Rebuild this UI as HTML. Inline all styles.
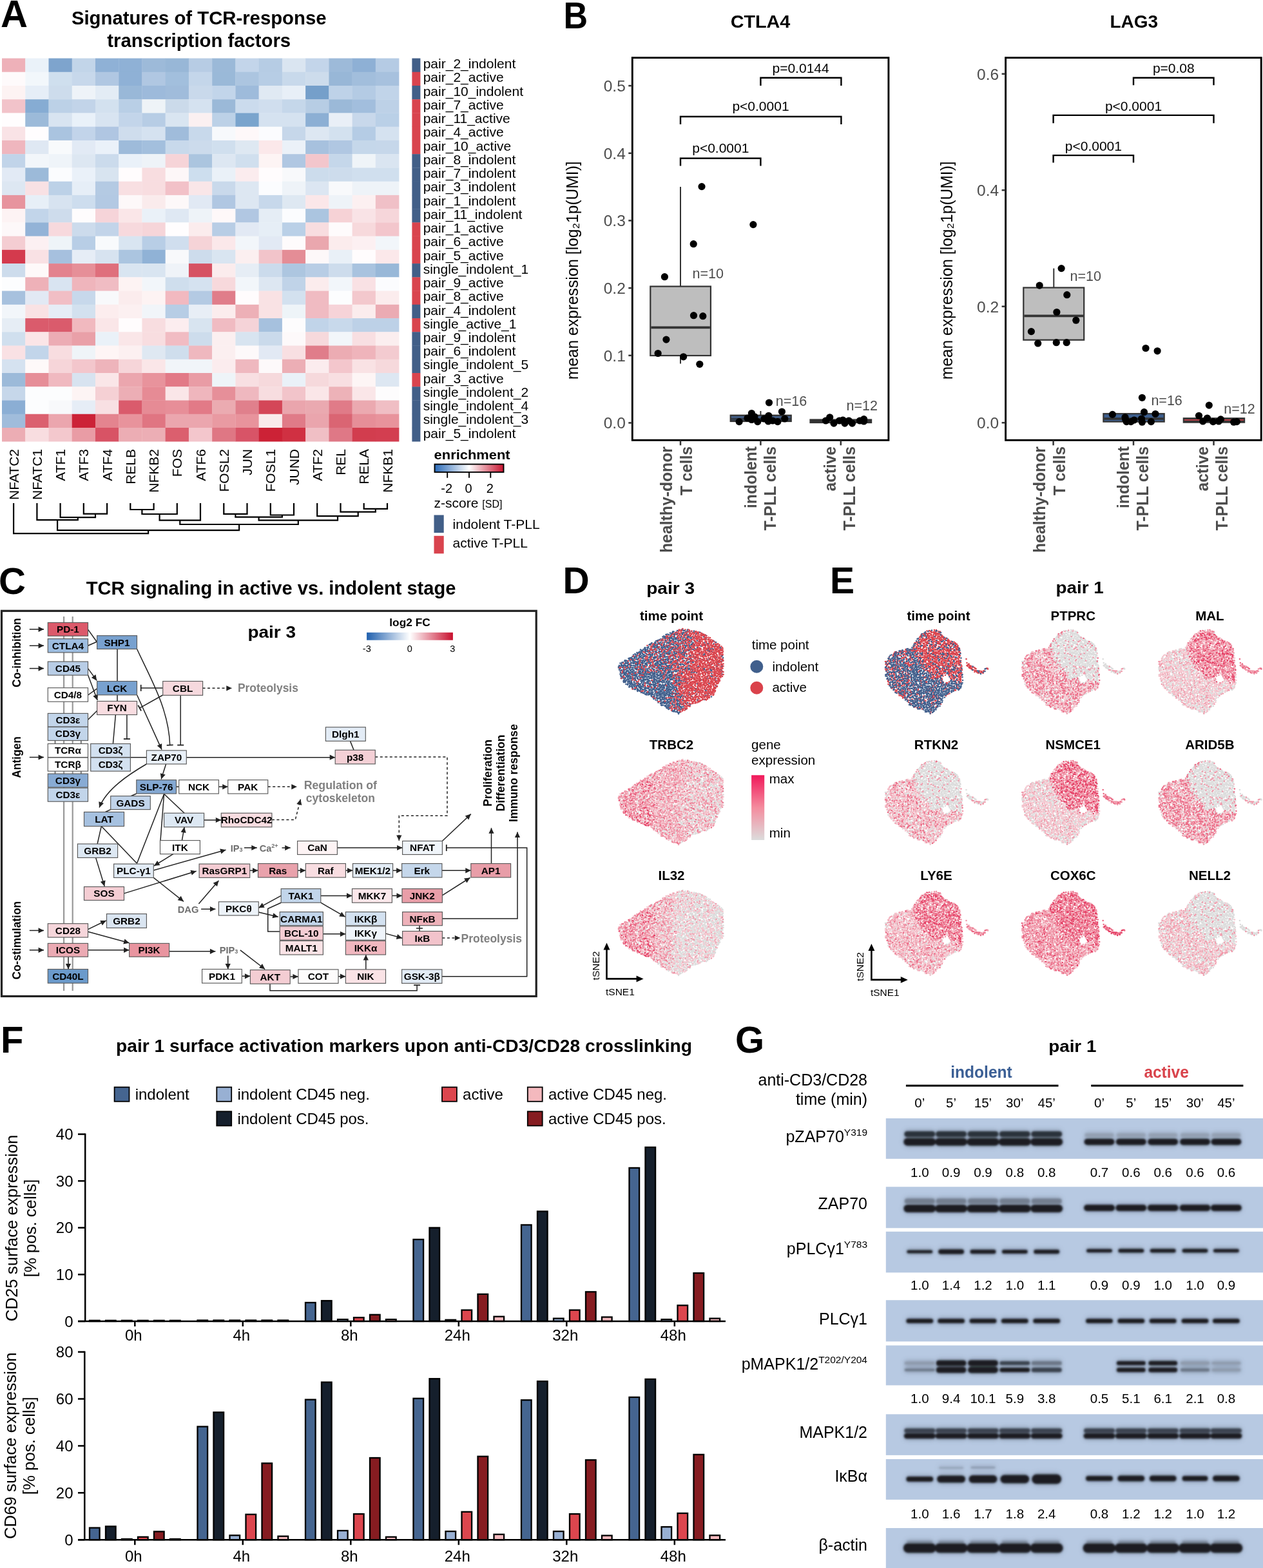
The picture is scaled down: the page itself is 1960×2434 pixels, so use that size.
<!DOCTYPE html>
<html><head><meta charset="utf-8"><title>Figure</title>
<style>
html,body{margin:0;padding:0;background:#fff;}
svg{display:block;}
text{font-family:"Liberation Sans",Arial,Helvetica,sans-serif;fill:#000;}
.tb{font-weight:bold;}
.lbl{font-weight:bold;}
</style></head><body>
<svg width="1960" height="2434" viewBox="0 0 1960 2434">
<rect width="1960" height="2434" fill="#fff"/>
<text x="1" y="42" class="lbl" font-size="59" textLength="42" lengthAdjust="spacingAndGlyphs">A</text>
<text x="308.7" y="38.3" class="tb" font-size="29.3" text-anchor="middle">Signatures of TCR-response</text>
<text x="308.7" y="73.4" class="tb" font-size="29.3" text-anchor="middle">transcription factors</text>
<rect x="3.00" y="90.50" width="36.54" height="21.54" fill="#eeb1b9"/>
<rect x="39.24" y="90.50" width="36.54" height="21.54" fill="#eaf2f9"/>
<rect x="75.48" y="90.50" width="36.54" height="21.54" fill="#7ea4cd"/>
<rect x="111.72" y="90.50" width="36.54" height="21.54" fill="#c2d5e9"/>
<rect x="147.96" y="90.50" width="36.54" height="21.54" fill="#8fb1d6"/>
<rect x="184.20" y="90.50" width="36.54" height="21.54" fill="#8fb1d6"/>
<rect x="220.44" y="90.50" width="36.54" height="21.54" fill="#9dbad9"/>
<rect x="256.68" y="90.50" width="36.54" height="21.54" fill="#98b7d7"/>
<rect x="292.92" y="90.50" width="36.54" height="21.54" fill="#b7cce4"/>
<rect x="329.16" y="90.50" width="36.54" height="21.54" fill="#9bb9d8"/>
<rect x="365.40" y="90.50" width="36.54" height="21.54" fill="#c3d5ea"/>
<rect x="401.64" y="90.50" width="36.54" height="21.54" fill="#b6cce4"/>
<rect x="437.88" y="90.50" width="36.54" height="21.54" fill="#dae5f1"/>
<rect x="474.12" y="90.50" width="36.54" height="21.54" fill="#c3d5ea"/>
<rect x="510.36" y="90.50" width="36.54" height="21.54" fill="#9dbad9"/>
<rect x="546.60" y="90.50" width="36.54" height="21.54" fill="#8eb0d5"/>
<rect x="582.84" y="90.50" width="36.54" height="21.54" fill="#b5cbe4"/>
<rect x="3.00" y="111.74" width="36.54" height="21.54" fill="#fefafb"/>
<rect x="39.24" y="111.74" width="36.54" height="21.54" fill="#f2f7fb"/>
<rect x="75.48" y="111.74" width="36.54" height="21.54" fill="#cfdfee"/>
<rect x="111.72" y="111.74" width="36.54" height="21.54" fill="#c7d8eb"/>
<rect x="147.96" y="111.74" width="36.54" height="21.54" fill="#b0c7e2"/>
<rect x="184.20" y="111.74" width="36.54" height="21.54" fill="#8fb1d6"/>
<rect x="220.44" y="111.74" width="36.54" height="21.54" fill="#b0c7e2"/>
<rect x="256.68" y="111.74" width="36.54" height="21.54" fill="#a2bfdd"/>
<rect x="292.92" y="111.74" width="36.54" height="21.54" fill="#c4d6ea"/>
<rect x="329.16" y="111.74" width="36.54" height="21.54" fill="#9ab9d8"/>
<rect x="365.40" y="111.74" width="36.54" height="21.54" fill="#acc5e0"/>
<rect x="401.64" y="111.74" width="36.54" height="21.54" fill="#b7cde5"/>
<rect x="437.88" y="111.74" width="36.54" height="21.54" fill="#c8d9eb"/>
<rect x="474.12" y="111.74" width="36.54" height="21.54" fill="#cddcec"/>
<rect x="510.36" y="111.74" width="36.54" height="21.54" fill="#98b7d7"/>
<rect x="546.60" y="111.74" width="36.54" height="21.54" fill="#a2bedc"/>
<rect x="582.84" y="111.74" width="36.54" height="21.54" fill="#a7c1de"/>
<rect x="3.00" y="132.98" width="36.54" height="21.54" fill="#fdf3f3"/>
<rect x="39.24" y="132.98" width="36.54" height="21.54" fill="#e6eef7"/>
<rect x="75.48" y="132.98" width="36.54" height="21.54" fill="#cddcec"/>
<rect x="111.72" y="132.98" width="36.54" height="21.54" fill="#eef3f8"/>
<rect x="147.96" y="132.98" width="36.54" height="21.54" fill="#e3ecf5"/>
<rect x="184.20" y="132.98" width="36.54" height="21.54" fill="#99b8d8"/>
<rect x="220.44" y="132.98" width="36.54" height="21.54" fill="#9dbadb"/>
<rect x="256.68" y="132.98" width="36.54" height="21.54" fill="#a0bcdb"/>
<rect x="292.92" y="132.98" width="36.54" height="21.54" fill="#c9d9eb"/>
<rect x="329.16" y="132.98" width="36.54" height="21.54" fill="#c2d5ea"/>
<rect x="365.40" y="132.98" width="36.54" height="21.54" fill="#9ebbdb"/>
<rect x="401.64" y="132.98" width="36.54" height="21.54" fill="#e0e9f3"/>
<rect x="437.88" y="132.98" width="36.54" height="21.54" fill="#e8eff7"/>
<rect x="474.12" y="132.98" width="36.54" height="21.54" fill="#759fca"/>
<rect x="510.36" y="132.98" width="36.54" height="21.54" fill="#bed2e8"/>
<rect x="546.60" y="132.98" width="36.54" height="21.54" fill="#b4cbe4"/>
<rect x="582.84" y="132.98" width="36.54" height="21.54" fill="#c1d4e9"/>
<rect x="3.00" y="154.22" width="36.54" height="21.54" fill="#f2c3ca"/>
<rect x="39.24" y="154.22" width="36.54" height="21.54" fill="#86acd3"/>
<rect x="75.48" y="154.22" width="36.54" height="21.54" fill="#bcd1e7"/>
<rect x="111.72" y="154.22" width="36.54" height="21.54" fill="#c2d4e9"/>
<rect x="147.96" y="154.22" width="36.54" height="21.54" fill="#d3e1ef"/>
<rect x="184.20" y="154.22" width="36.54" height="21.54" fill="#b9cfe6"/>
<rect x="220.44" y="154.22" width="36.54" height="21.54" fill="#eef3f7"/>
<rect x="256.68" y="154.22" width="36.54" height="21.54" fill="#cbdaea"/>
<rect x="292.92" y="154.22" width="36.54" height="21.54" fill="#d5e2f0"/>
<rect x="329.16" y="154.22" width="36.54" height="21.54" fill="#9bb9d8"/>
<rect x="365.40" y="154.22" width="36.54" height="21.54" fill="#cbdbed"/>
<rect x="401.64" y="154.22" width="36.54" height="21.54" fill="#d0deee"/>
<rect x="437.88" y="154.22" width="36.54" height="21.54" fill="#c5d7ea"/>
<rect x="474.12" y="154.22" width="36.54" height="21.54" fill="#b7cde4"/>
<rect x="510.36" y="154.22" width="36.54" height="21.54" fill="#9bb9d8"/>
<rect x="546.60" y="154.22" width="36.54" height="21.54" fill="#a2bedd"/>
<rect x="582.84" y="154.22" width="36.54" height="21.54" fill="#bdd1e7"/>
<rect x="3.00" y="175.46" width="36.54" height="21.54" fill="#fffdfe"/>
<rect x="39.24" y="175.46" width="36.54" height="21.54" fill="#9cbad9"/>
<rect x="75.48" y="175.46" width="36.54" height="21.54" fill="#d8e4f1"/>
<rect x="111.72" y="175.46" width="36.54" height="21.54" fill="#e9f1f9"/>
<rect x="147.96" y="175.46" width="36.54" height="21.54" fill="#d8e4f1"/>
<rect x="184.20" y="175.46" width="36.54" height="21.54" fill="#c3d5ea"/>
<rect x="220.44" y="175.46" width="36.54" height="21.54" fill="#b7cde5"/>
<rect x="256.68" y="175.46" width="36.54" height="21.54" fill="#d9e5f1"/>
<rect x="292.92" y="175.46" width="36.54" height="21.54" fill="#fbf0f1"/>
<rect x="329.16" y="175.46" width="36.54" height="21.54" fill="#bcd1e7"/>
<rect x="365.40" y="175.46" width="36.54" height="21.54" fill="#7aa4cd"/>
<rect x="401.64" y="175.46" width="36.54" height="21.54" fill="#d5e2f0"/>
<rect x="437.88" y="175.46" width="36.54" height="21.54" fill="#d5e2f0"/>
<rect x="474.12" y="175.46" width="36.54" height="21.54" fill="#8cafd4"/>
<rect x="510.36" y="175.46" width="36.54" height="21.54" fill="#e9eff7"/>
<rect x="546.60" y="175.46" width="36.54" height="21.54" fill="#c8d8eb"/>
<rect x="582.84" y="175.46" width="36.54" height="21.54" fill="#bad0e7"/>
<rect x="3.00" y="196.70" width="36.54" height="21.54" fill="#f9e3e6"/>
<rect x="39.24" y="196.70" width="36.54" height="21.54" fill="#fffdfe"/>
<rect x="75.48" y="196.70" width="36.54" height="21.54" fill="#aac4e0"/>
<rect x="111.72" y="196.70" width="36.54" height="21.54" fill="#c2d4ea"/>
<rect x="147.96" y="196.70" width="36.54" height="21.54" fill="#b0c6e2"/>
<rect x="184.20" y="196.70" width="36.54" height="21.54" fill="#cfdded"/>
<rect x="220.44" y="196.70" width="36.54" height="21.54" fill="#d5e2f0"/>
<rect x="256.68" y="196.70" width="36.54" height="21.54" fill="#a0bcdb"/>
<rect x="292.92" y="196.70" width="36.54" height="21.54" fill="#c8d9eb"/>
<rect x="329.16" y="196.70" width="36.54" height="21.54" fill="#f7f9fc"/>
<rect x="365.40" y="196.70" width="36.54" height="21.54" fill="#fef8f9"/>
<rect x="401.64" y="196.70" width="36.54" height="21.54" fill="#fbfcfe"/>
<rect x="437.88" y="196.70" width="36.54" height="21.54" fill="#c6d7ea"/>
<rect x="474.12" y="196.70" width="36.54" height="21.54" fill="#dde7f2"/>
<rect x="510.36" y="196.70" width="36.54" height="21.54" fill="#d3e1ef"/>
<rect x="546.60" y="196.70" width="36.54" height="21.54" fill="#b5cce5"/>
<rect x="582.84" y="196.70" width="36.54" height="21.54" fill="#d5e2f0"/>
<rect x="3.00" y="217.94" width="36.54" height="21.54" fill="#efb6be"/>
<rect x="39.24" y="217.94" width="36.54" height="21.54" fill="#dfe8f3"/>
<rect x="75.48" y="217.94" width="36.54" height="21.54" fill="#f8fafc"/>
<rect x="111.72" y="217.94" width="36.54" height="21.54" fill="#e2eaf5"/>
<rect x="147.96" y="217.94" width="36.54" height="21.54" fill="#eaf1f9"/>
<rect x="184.20" y="217.94" width="36.54" height="21.54" fill="#9ebbda"/>
<rect x="220.44" y="217.94" width="36.54" height="21.54" fill="#a3bfdd"/>
<rect x="256.68" y="217.94" width="36.54" height="21.54" fill="#c8d9eb"/>
<rect x="292.92" y="217.94" width="36.54" height="21.54" fill="#ccdbec"/>
<rect x="329.16" y="217.94" width="36.54" height="21.54" fill="#d0dfee"/>
<rect x="365.40" y="217.94" width="36.54" height="21.54" fill="#dee8f2"/>
<rect x="401.64" y="217.94" width="36.54" height="21.54" fill="#fbe8ea"/>
<rect x="437.88" y="217.94" width="36.54" height="21.54" fill="#ebf1f8"/>
<rect x="474.12" y="217.94" width="36.54" height="21.54" fill="#a7c1de"/>
<rect x="510.36" y="217.94" width="36.54" height="21.54" fill="#b0c7e2"/>
<rect x="546.60" y="217.94" width="36.54" height="21.54" fill="#c5d7ea"/>
<rect x="582.84" y="217.94" width="36.54" height="21.54" fill="#c6d7ea"/>
<rect x="3.00" y="239.18" width="36.54" height="21.54" fill="#c1d4e9"/>
<rect x="39.24" y="239.18" width="36.54" height="21.54" fill="#f2f6fa"/>
<rect x="75.48" y="239.18" width="36.54" height="21.54" fill="#eff4f9"/>
<rect x="111.72" y="239.18" width="36.54" height="21.54" fill="#dde7f2"/>
<rect x="147.96" y="239.18" width="36.54" height="21.54" fill="#cbdbec"/>
<rect x="184.20" y="239.18" width="36.54" height="21.54" fill="#eaf1f9"/>
<rect x="220.44" y="239.18" width="36.54" height="21.54" fill="#eef3f8"/>
<rect x="256.68" y="239.18" width="36.54" height="21.54" fill="#f6d4d8"/>
<rect x="292.92" y="239.18" width="36.54" height="21.54" fill="#abc5df"/>
<rect x="329.16" y="239.18" width="36.54" height="21.54" fill="#dde7f2"/>
<rect x="365.40" y="239.18" width="36.54" height="21.54" fill="#d0dfee"/>
<rect x="401.64" y="239.18" width="36.54" height="21.54" fill="#fdf4f4"/>
<rect x="437.88" y="239.18" width="36.54" height="21.54" fill="#b0c7e2"/>
<rect x="474.12" y="239.18" width="36.54" height="21.54" fill="#f3c6cc"/>
<rect x="510.36" y="239.18" width="36.54" height="21.54" fill="#c5d7ea"/>
<rect x="546.60" y="239.18" width="36.54" height="21.54" fill="#eff4f8"/>
<rect x="582.84" y="239.18" width="36.54" height="21.54" fill="#dae5f1"/>
<rect x="3.00" y="260.42" width="36.54" height="21.54" fill="#e2eaf5"/>
<rect x="39.24" y="260.42" width="36.54" height="21.54" fill="#9cbad9"/>
<rect x="75.48" y="260.42" width="36.54" height="21.54" fill="#fbfcfe"/>
<rect x="111.72" y="260.42" width="36.54" height="21.54" fill="#eaf1f9"/>
<rect x="147.96" y="260.42" width="36.54" height="21.54" fill="#d8e4f0"/>
<rect x="184.20" y="260.42" width="36.54" height="21.54" fill="#fffcfd"/>
<rect x="220.44" y="260.42" width="36.54" height="21.54" fill="#f8dde0"/>
<rect x="256.68" y="260.42" width="36.54" height="21.54" fill="#fdf7f8"/>
<rect x="292.92" y="260.42" width="36.54" height="21.54" fill="#cddeee"/>
<rect x="329.16" y="260.42" width="36.54" height="21.54" fill="#eaf1f8"/>
<rect x="365.40" y="260.42" width="36.54" height="21.54" fill="#fbecee"/>
<rect x="401.64" y="260.42" width="36.54" height="21.54" fill="#fffcfd"/>
<rect x="437.88" y="260.42" width="36.54" height="21.54" fill="#f8f9fb"/>
<rect x="474.12" y="260.42" width="36.54" height="21.54" fill="#ccdcec"/>
<rect x="510.36" y="260.42" width="36.54" height="21.54" fill="#cddcec"/>
<rect x="546.60" y="260.42" width="36.54" height="21.54" fill="#d0dfee"/>
<rect x="582.84" y="260.42" width="36.54" height="21.54" fill="#d0dfee"/>
<rect x="3.00" y="281.66" width="36.54" height="21.54" fill="#dde7f2"/>
<rect x="39.24" y="281.66" width="36.54" height="21.54" fill="#f8e1e4"/>
<rect x="75.48" y="281.66" width="36.54" height="21.54" fill="#bcd1e7"/>
<rect x="111.72" y="281.66" width="36.54" height="21.54" fill="#e6eef7"/>
<rect x="147.96" y="281.66" width="36.54" height="21.54" fill="#b4cae3"/>
<rect x="184.20" y="281.66" width="36.54" height="21.54" fill="#f8dfe2"/>
<rect x="220.44" y="281.66" width="36.54" height="21.54" fill="#f8dde0"/>
<rect x="256.68" y="281.66" width="36.54" height="21.54" fill="#f2c1c8"/>
<rect x="292.92" y="281.66" width="36.54" height="21.54" fill="#f9e6e8"/>
<rect x="329.16" y="281.66" width="36.54" height="21.54" fill="#c9d9eb"/>
<rect x="365.40" y="281.66" width="36.54" height="21.54" fill="#dde7f2"/>
<rect x="401.64" y="281.66" width="36.54" height="21.54" fill="#fbfcfe"/>
<rect x="437.88" y="281.66" width="36.54" height="21.54" fill="#eef3f8"/>
<rect x="474.12" y="281.66" width="36.54" height="21.54" fill="#dce6f2"/>
<rect x="510.36" y="281.66" width="36.54" height="21.54" fill="#f8f9fb"/>
<rect x="546.60" y="281.66" width="36.54" height="21.54" fill="#eef3f8"/>
<rect x="582.84" y="281.66" width="36.54" height="21.54" fill="#eef3f8"/>
<rect x="3.00" y="302.90" width="36.54" height="21.54" fill="#e7949e"/>
<rect x="39.24" y="302.90" width="36.54" height="21.54" fill="#e7eff7"/>
<rect x="75.48" y="302.90" width="36.54" height="21.54" fill="#d7e3f0"/>
<rect x="111.72" y="302.90" width="36.54" height="21.54" fill="#cdddee"/>
<rect x="147.96" y="302.90" width="36.54" height="21.54" fill="#b3c9e3"/>
<rect x="184.20" y="302.90" width="36.54" height="21.54" fill="#fdf8f9"/>
<rect x="220.44" y="302.90" width="36.54" height="21.54" fill="#faebec"/>
<rect x="256.68" y="302.90" width="36.54" height="21.54" fill="#fdf8f9"/>
<rect x="292.92" y="302.90" width="36.54" height="21.54" fill="#e1e9f4"/>
<rect x="329.16" y="302.90" width="36.54" height="21.54" fill="#b0c7e2"/>
<rect x="365.40" y="302.90" width="36.54" height="21.54" fill="#dde7f2"/>
<rect x="401.64" y="302.90" width="36.54" height="21.54" fill="#c7d8eb"/>
<rect x="437.88" y="302.90" width="36.54" height="21.54" fill="#dee8f2"/>
<rect x="474.12" y="302.90" width="36.54" height="21.54" fill="#fbe7e9"/>
<rect x="510.36" y="302.90" width="36.54" height="21.54" fill="#eef3f8"/>
<rect x="546.60" y="302.90" width="36.54" height="21.54" fill="#fcf0f1"/>
<rect x="582.84" y="302.90" width="36.54" height="21.54" fill="#f0c0c7"/>
<rect x="3.00" y="324.14" width="36.54" height="21.54" fill="#fdf3f4"/>
<rect x="39.24" y="324.14" width="36.54" height="21.54" fill="#c2d5ea"/>
<rect x="75.48" y="324.14" width="36.54" height="21.54" fill="#cedcec"/>
<rect x="111.72" y="324.14" width="36.54" height="21.54" fill="#fefcfd"/>
<rect x="147.96" y="324.14" width="36.54" height="21.54" fill="#f6d4d9"/>
<rect x="184.20" y="324.14" width="36.54" height="21.54" fill="#fae6e8"/>
<rect x="220.44" y="324.14" width="36.54" height="21.54" fill="#eaf1f8"/>
<rect x="256.68" y="324.14" width="36.54" height="21.54" fill="#dfe8f3"/>
<rect x="292.92" y="324.14" width="36.54" height="21.54" fill="#eef3f8"/>
<rect x="329.16" y="324.14" width="36.54" height="21.54" fill="#fef8f9"/>
<rect x="365.40" y="324.14" width="36.54" height="21.54" fill="#b1c7e2"/>
<rect x="401.64" y="324.14" width="36.54" height="21.54" fill="#e5edf5"/>
<rect x="437.88" y="324.14" width="36.54" height="21.54" fill="#fbfcfe"/>
<rect x="474.12" y="324.14" width="36.54" height="21.54" fill="#abc5e0"/>
<rect x="510.36" y="324.14" width="36.54" height="21.54" fill="#f6d2d6"/>
<rect x="546.60" y="324.14" width="36.54" height="21.54" fill="#f9e3e6"/>
<rect x="582.84" y="324.14" width="36.54" height="21.54" fill="#f6d6da"/>
<rect x="3.00" y="345.38" width="36.54" height="21.54" fill="#fdf8f9"/>
<rect x="39.24" y="345.38" width="36.54" height="21.54" fill="#93b3d7"/>
<rect x="75.48" y="345.38" width="36.54" height="21.54" fill="#f7d9dd"/>
<rect x="111.72" y="345.38" width="36.54" height="21.54" fill="#ccdbec"/>
<rect x="147.96" y="345.38" width="36.54" height="21.54" fill="#c2d4e9"/>
<rect x="184.20" y="345.38" width="36.54" height="21.54" fill="#f7d9dd"/>
<rect x="220.44" y="345.38" width="36.54" height="21.54" fill="#f6d5d9"/>
<rect x="256.68" y="345.38" width="36.54" height="21.54" fill="#fffdfe"/>
<rect x="292.92" y="345.38" width="36.54" height="21.54" fill="#fbeced"/>
<rect x="329.16" y="345.38" width="36.54" height="21.54" fill="#b8cde5"/>
<rect x="365.40" y="345.38" width="36.54" height="21.54" fill="#e2e9f4"/>
<rect x="401.64" y="345.38" width="36.54" height="21.54" fill="#e6eef6"/>
<rect x="437.88" y="345.38" width="36.54" height="21.54" fill="#bad0e7"/>
<rect x="474.12" y="345.38" width="36.54" height="21.54" fill="#f8dde0"/>
<rect x="510.36" y="345.38" width="36.54" height="21.54" fill="#fefbfc"/>
<rect x="546.60" y="345.38" width="36.54" height="21.54" fill="#f7d9dc"/>
<rect x="582.84" y="345.38" width="36.54" height="21.54" fill="#f3c6cc"/>
<rect x="3.00" y="366.62" width="36.54" height="21.54" fill="#f4cdd2"/>
<rect x="39.24" y="366.62" width="36.54" height="21.54" fill="#fcf0f2"/>
<rect x="75.48" y="366.62" width="36.54" height="21.54" fill="#eef4f8"/>
<rect x="111.72" y="366.62" width="36.54" height="21.54" fill="#b8cee6"/>
<rect x="147.96" y="366.62" width="36.54" height="21.54" fill="#f8fafc"/>
<rect x="184.20" y="366.62" width="36.54" height="21.54" fill="#d9e5f1"/>
<rect x="220.44" y="366.62" width="36.54" height="21.54" fill="#b8cee6"/>
<rect x="256.68" y="366.62" width="36.54" height="21.54" fill="#d0deee"/>
<rect x="292.92" y="366.62" width="36.54" height="21.54" fill="#f5d3d7"/>
<rect x="329.16" y="366.62" width="36.54" height="21.54" fill="#fbe8ea"/>
<rect x="365.40" y="366.62" width="36.54" height="21.54" fill="#f2f6fa"/>
<rect x="401.64" y="366.62" width="36.54" height="21.54" fill="#e2e9f4"/>
<rect x="437.88" y="366.62" width="36.54" height="21.54" fill="#fefbfc"/>
<rect x="474.12" y="366.62" width="36.54" height="21.54" fill="#eaa7ae"/>
<rect x="510.36" y="366.62" width="36.54" height="21.54" fill="#fbeced"/>
<rect x="546.60" y="366.62" width="36.54" height="21.54" fill="#fcf0f2"/>
<rect x="582.84" y="366.62" width="36.54" height="21.54" fill="#f2f6fa"/>
<rect x="3.00" y="387.86" width="36.54" height="21.54" fill="#d43a4d"/>
<rect x="39.24" y="387.86" width="36.54" height="21.54" fill="#f9e1e4"/>
<rect x="75.48" y="387.86" width="36.54" height="21.54" fill="#a6c0de"/>
<rect x="111.72" y="387.86" width="36.54" height="21.54" fill="#e6edf6"/>
<rect x="147.96" y="387.86" width="36.54" height="21.54" fill="#d7e3f0"/>
<rect x="184.20" y="387.86" width="36.54" height="21.54" fill="#abc5e0"/>
<rect x="220.44" y="387.86" width="36.54" height="21.54" fill="#90b2d6"/>
<rect x="256.68" y="387.86" width="36.54" height="21.54" fill="#f8f9fb"/>
<rect x="292.92" y="387.86" width="36.54" height="21.54" fill="#cddcec"/>
<rect x="329.16" y="387.86" width="36.54" height="21.54" fill="#d9e5f1"/>
<rect x="365.40" y="387.86" width="36.54" height="21.54" fill="#fbeff0"/>
<rect x="401.64" y="387.86" width="36.54" height="21.54" fill="#f2c4ca"/>
<rect x="437.88" y="387.86" width="36.54" height="21.54" fill="#e48d96"/>
<rect x="474.12" y="387.86" width="36.54" height="21.54" fill="#fdf8f9"/>
<rect x="510.36" y="387.86" width="36.54" height="21.54" fill="#e9f0f7"/>
<rect x="546.60" y="387.86" width="36.54" height="21.54" fill="#fffcfd"/>
<rect x="582.84" y="387.86" width="36.54" height="21.54" fill="#fbe8ea"/>
<rect x="3.00" y="409.10" width="36.54" height="21.54" fill="#cddcec"/>
<rect x="39.24" y="409.10" width="36.54" height="21.54" fill="#fef9f9"/>
<rect x="75.48" y="409.10" width="36.54" height="21.54" fill="#e3828e"/>
<rect x="111.72" y="409.10" width="36.54" height="21.54" fill="#e68f98"/>
<rect x="147.96" y="409.10" width="36.54" height="21.54" fill="#df6f7c"/>
<rect x="184.20" y="409.10" width="36.54" height="21.54" fill="#d9e5f1"/>
<rect x="220.44" y="409.10" width="36.54" height="21.54" fill="#d9e5f1"/>
<rect x="256.68" y="409.10" width="36.54" height="21.54" fill="#eff3f8"/>
<rect x="292.92" y="409.10" width="36.54" height="21.54" fill="#d65263"/>
<rect x="329.16" y="409.10" width="36.54" height="21.54" fill="#fbeced"/>
<rect x="365.40" y="409.10" width="36.54" height="21.54" fill="#e6edf5"/>
<rect x="401.64" y="409.10" width="36.54" height="21.54" fill="#cbdbec"/>
<rect x="437.88" y="409.10" width="36.54" height="21.54" fill="#adc6e0"/>
<rect x="474.12" y="409.10" width="36.54" height="21.54" fill="#b8cde5"/>
<rect x="510.36" y="409.10" width="36.54" height="21.54" fill="#cddcec"/>
<rect x="546.60" y="409.10" width="36.54" height="21.54" fill="#a9c3df"/>
<rect x="582.84" y="409.10" width="36.54" height="21.54" fill="#98b8d8"/>
<rect x="3.00" y="430.34" width="36.54" height="21.54" fill="#fcfdfe"/>
<rect x="39.24" y="430.34" width="36.54" height="21.54" fill="#eeb1b8"/>
<rect x="75.48" y="430.34" width="36.54" height="21.54" fill="#d9e4f1"/>
<rect x="111.72" y="430.34" width="36.54" height="21.54" fill="#efb5bc"/>
<rect x="147.96" y="430.34" width="36.54" height="21.54" fill="#f0bcc3"/>
<rect x="184.20" y="430.34" width="36.54" height="21.54" fill="#fdf3f3"/>
<rect x="220.44" y="430.34" width="36.54" height="21.54" fill="#f2f6fa"/>
<rect x="256.68" y="430.34" width="36.54" height="21.54" fill="#cfdeed"/>
<rect x="292.92" y="430.34" width="36.54" height="21.54" fill="#d5e2f0"/>
<rect x="329.16" y="430.34" width="36.54" height="21.54" fill="#f7d9dc"/>
<rect x="365.40" y="430.34" width="36.54" height="21.54" fill="#f2f6fa"/>
<rect x="401.64" y="430.34" width="36.54" height="21.54" fill="#dde7f2"/>
<rect x="437.88" y="430.34" width="36.54" height="21.54" fill="#c0d3e8"/>
<rect x="474.12" y="430.34" width="36.54" height="21.54" fill="#fbeced"/>
<rect x="510.36" y="430.34" width="36.54" height="21.54" fill="#f2f6fa"/>
<rect x="546.60" y="430.34" width="36.54" height="21.54" fill="#f9e1e4"/>
<rect x="582.84" y="430.34" width="36.54" height="21.54" fill="#fbfcfe"/>
<rect x="3.00" y="451.58" width="36.54" height="21.54" fill="#a7c1de"/>
<rect x="39.24" y="451.58" width="36.54" height="21.54" fill="#e2e9f4"/>
<rect x="75.48" y="451.58" width="36.54" height="21.54" fill="#f1bec5"/>
<rect x="111.72" y="451.58" width="36.54" height="21.54" fill="#c7d8eb"/>
<rect x="147.96" y="451.58" width="36.54" height="21.54" fill="#f8f9fb"/>
<rect x="184.20" y="451.58" width="36.54" height="21.54" fill="#fbeced"/>
<rect x="220.44" y="451.58" width="36.54" height="21.54" fill="#fdf3f3"/>
<rect x="256.68" y="451.58" width="36.54" height="21.54" fill="#f2b9c0"/>
<rect x="292.92" y="451.58" width="36.54" height="21.54" fill="#b4cae3"/>
<rect x="329.16" y="451.58" width="36.54" height="21.54" fill="#e07d8a"/>
<rect x="365.40" y="451.58" width="36.54" height="21.54" fill="#fffcfd"/>
<rect x="401.64" y="451.58" width="36.54" height="21.54" fill="#f9e2e4"/>
<rect x="437.88" y="451.58" width="36.54" height="21.54" fill="#d3e1ef"/>
<rect x="474.12" y="451.58" width="36.54" height="21.54" fill="#f0bbc2"/>
<rect x="510.36" y="451.58" width="36.54" height="21.54" fill="#fcfdfe"/>
<rect x="546.60" y="451.58" width="36.54" height="21.54" fill="#f3c8cd"/>
<rect x="582.84" y="451.58" width="36.54" height="21.54" fill="#fbeced"/>
<rect x="3.00" y="472.82" width="36.54" height="21.54" fill="#f2f6fa"/>
<rect x="39.24" y="472.82" width="36.54" height="21.54" fill="#f9e2e4"/>
<rect x="75.48" y="472.82" width="36.54" height="21.54" fill="#e6edf6"/>
<rect x="111.72" y="472.82" width="36.54" height="21.54" fill="#d3e1ef"/>
<rect x="147.96" y="472.82" width="36.54" height="21.54" fill="#fcedee"/>
<rect x="184.20" y="472.82" width="36.54" height="21.54" fill="#fcf0f1"/>
<rect x="220.44" y="472.82" width="36.54" height="21.54" fill="#f1f5f9"/>
<rect x="256.68" y="472.82" width="36.54" height="21.54" fill="#b7cde5"/>
<rect x="292.92" y="472.82" width="36.54" height="21.54" fill="#e8eef6"/>
<rect x="329.16" y="472.82" width="36.54" height="21.54" fill="#fbeced"/>
<rect x="365.40" y="472.82" width="36.54" height="21.54" fill="#edb0b7"/>
<rect x="401.64" y="472.82" width="36.54" height="21.54" fill="#f9e2e4"/>
<rect x="437.88" y="472.82" width="36.54" height="21.54" fill="#eef4f8"/>
<rect x="474.12" y="472.82" width="36.54" height="21.54" fill="#f0bbc2"/>
<rect x="510.36" y="472.82" width="36.54" height="21.54" fill="#f6d3d8"/>
<rect x="546.60" y="472.82" width="36.54" height="21.54" fill="#fbeced"/>
<rect x="582.84" y="472.82" width="36.54" height="21.54" fill="#ebabb3"/>
<rect x="3.00" y="494.06" width="36.54" height="21.54" fill="#e6edf5"/>
<rect x="39.24" y="494.06" width="36.54" height="21.54" fill="#da5b6c"/>
<rect x="75.48" y="494.06" width="36.54" height="21.54" fill="#da5b6c"/>
<rect x="111.72" y="494.06" width="36.54" height="21.54" fill="#f1b9bf"/>
<rect x="147.96" y="494.06" width="36.54" height="21.54" fill="#fae6e8"/>
<rect x="184.20" y="494.06" width="36.54" height="21.54" fill="#fffcfd"/>
<rect x="220.44" y="494.06" width="36.54" height="21.54" fill="#f8dde0"/>
<rect x="256.68" y="494.06" width="36.54" height="21.54" fill="#fcedef"/>
<rect x="292.92" y="494.06" width="36.54" height="21.54" fill="#d8e4f0"/>
<rect x="329.16" y="494.06" width="36.54" height="21.54" fill="#f0bbc2"/>
<rect x="365.40" y="494.06" width="36.54" height="21.54" fill="#f5d3d8"/>
<rect x="401.64" y="494.06" width="36.54" height="21.54" fill="#a6c1de"/>
<rect x="437.88" y="494.06" width="36.54" height="21.54" fill="#fdfcfd"/>
<rect x="474.12" y="494.06" width="36.54" height="21.54" fill="#c1d4e9"/>
<rect x="510.36" y="494.06" width="36.54" height="21.54" fill="#c8d9eb"/>
<rect x="546.60" y="494.06" width="36.54" height="21.54" fill="#bdd1e7"/>
<rect x="582.84" y="494.06" width="36.54" height="21.54" fill="#bdd1e7"/>
<rect x="3.00" y="515.30" width="36.54" height="21.54" fill="#d0dfee"/>
<rect x="39.24" y="515.30" width="36.54" height="21.54" fill="#fbe5e7"/>
<rect x="75.48" y="515.30" width="36.54" height="21.54" fill="#ecacb4"/>
<rect x="111.72" y="515.30" width="36.54" height="21.54" fill="#e9a0a8"/>
<rect x="147.96" y="515.30" width="36.54" height="21.54" fill="#eaf1f8"/>
<rect x="184.20" y="515.30" width="36.54" height="21.54" fill="#fae6e8"/>
<rect x="220.44" y="515.30" width="36.54" height="21.54" fill="#f8dde0"/>
<rect x="256.68" y="515.30" width="36.54" height="21.54" fill="#f1bcc3"/>
<rect x="292.92" y="515.30" width="36.54" height="21.54" fill="#cddcec"/>
<rect x="329.16" y="515.30" width="36.54" height="21.54" fill="#fbeff0"/>
<rect x="365.40" y="515.30" width="36.54" height="21.54" fill="#d8e4f0"/>
<rect x="401.64" y="515.30" width="36.54" height="21.54" fill="#cadaeb"/>
<rect x="437.88" y="515.30" width="36.54" height="21.54" fill="#fdf9fa"/>
<rect x="474.12" y="515.30" width="36.54" height="21.54" fill="#f6d9dc"/>
<rect x="510.36" y="515.30" width="36.54" height="21.54" fill="#f2f6fa"/>
<rect x="546.60" y="515.30" width="36.54" height="21.54" fill="#f8dfe2"/>
<rect x="582.84" y="515.30" width="36.54" height="21.54" fill="#fbeeef"/>
<rect x="3.00" y="536.54" width="36.54" height="21.54" fill="#f9e1e4"/>
<rect x="39.24" y="536.54" width="36.54" height="21.54" fill="#c2d5ea"/>
<rect x="75.48" y="536.54" width="36.54" height="21.54" fill="#f8dde0"/>
<rect x="111.72" y="536.54" width="36.54" height="21.54" fill="#eff4f8"/>
<rect x="147.96" y="536.54" width="36.54" height="21.54" fill="#fef5f5"/>
<rect x="184.20" y="536.54" width="36.54" height="21.54" fill="#fcf0f1"/>
<rect x="220.44" y="536.54" width="36.54" height="21.54" fill="#dfe8f2"/>
<rect x="256.68" y="536.54" width="36.54" height="21.54" fill="#cfdeed"/>
<rect x="292.92" y="536.54" width="36.54" height="21.54" fill="#efb8bf"/>
<rect x="329.16" y="536.54" width="36.54" height="21.54" fill="#fbeff0"/>
<rect x="365.40" y="536.54" width="36.54" height="21.54" fill="#fdf9fa"/>
<rect x="401.64" y="536.54" width="36.54" height="21.54" fill="#e2e9f4"/>
<rect x="437.88" y="536.54" width="36.54" height="21.54" fill="#f8dfe2"/>
<rect x="474.12" y="536.54" width="36.54" height="21.54" fill="#e07d8a"/>
<rect x="510.36" y="536.54" width="36.54" height="21.54" fill="#ecacb3"/>
<rect x="546.60" y="536.54" width="36.54" height="21.54" fill="#efb4bb"/>
<rect x="582.84" y="536.54" width="36.54" height="21.54" fill="#f3cbd0"/>
<rect x="3.00" y="557.78" width="36.54" height="21.54" fill="#d5e2f0"/>
<rect x="39.24" y="557.78" width="36.54" height="21.54" fill="#fef9f9"/>
<rect x="75.48" y="557.78" width="36.54" height="21.54" fill="#f6d5d9"/>
<rect x="111.72" y="557.78" width="36.54" height="21.54" fill="#f3c6cc"/>
<rect x="147.96" y="557.78" width="36.54" height="21.54" fill="#eeb4bb"/>
<rect x="184.20" y="557.78" width="36.54" height="21.54" fill="#f6d5d9"/>
<rect x="220.44" y="557.78" width="36.54" height="21.54" fill="#fae6e8"/>
<rect x="256.68" y="557.78" width="36.54" height="21.54" fill="#f1f5f9"/>
<rect x="292.92" y="557.78" width="36.54" height="21.54" fill="#f1f5f9"/>
<rect x="329.16" y="557.78" width="36.54" height="21.54" fill="#fbecee"/>
<rect x="365.40" y="557.78" width="36.54" height="21.54" fill="#efb8bf"/>
<rect x="401.64" y="557.78" width="36.54" height="21.54" fill="#fdf9fa"/>
<rect x="437.88" y="557.78" width="36.54" height="21.54" fill="#ecaeb5"/>
<rect x="474.12" y="557.78" width="36.54" height="21.54" fill="#fbecee"/>
<rect x="510.36" y="557.78" width="36.54" height="21.54" fill="#f3c6cc"/>
<rect x="546.60" y="557.78" width="36.54" height="21.54" fill="#f9e2e4"/>
<rect x="582.84" y="557.78" width="36.54" height="21.54" fill="#f6d9dc"/>
<rect x="3.00" y="579.02" width="36.54" height="21.54" fill="#9cbad9"/>
<rect x="39.24" y="579.02" width="36.54" height="21.54" fill="#e68e98"/>
<rect x="75.48" y="579.02" width="36.54" height="21.54" fill="#f0b9c0"/>
<rect x="111.72" y="579.02" width="36.54" height="21.54" fill="#d8e3f0"/>
<rect x="147.96" y="579.02" width="36.54" height="21.54" fill="#fae6e8"/>
<rect x="184.20" y="579.02" width="36.54" height="21.54" fill="#eba6ae"/>
<rect x="220.44" y="579.02" width="36.54" height="21.54" fill="#e8939c"/>
<rect x="256.68" y="579.02" width="36.54" height="21.54" fill="#e27a87"/>
<rect x="292.92" y="579.02" width="36.54" height="21.54" fill="#e99ca5"/>
<rect x="329.16" y="579.02" width="36.54" height="21.54" fill="#eef4f8"/>
<rect x="365.40" y="579.02" width="36.54" height="21.54" fill="#f8dfe2"/>
<rect x="401.64" y="579.02" width="36.54" height="21.54" fill="#f6d9dc"/>
<rect x="437.88" y="579.02" width="36.54" height="21.54" fill="#eaf1f8"/>
<rect x="474.12" y="579.02" width="36.54" height="21.54" fill="#f6d9dc"/>
<rect x="510.36" y="579.02" width="36.54" height="21.54" fill="#f8dfe2"/>
<rect x="546.60" y="579.02" width="36.54" height="21.54" fill="#fdf5f5"/>
<rect x="582.84" y="579.02" width="36.54" height="21.54" fill="#dde7f2"/>
<rect x="3.00" y="600.26" width="36.54" height="21.54" fill="#c6d7ea"/>
<rect x="39.24" y="600.26" width="36.54" height="21.54" fill="#fcfdfe"/>
<rect x="75.48" y="600.26" width="36.54" height="21.54" fill="#fcfdfe"/>
<rect x="111.72" y="600.26" width="36.54" height="21.54" fill="#fdf4f4"/>
<rect x="147.96" y="600.26" width="36.54" height="21.54" fill="#f5d0d4"/>
<rect x="184.20" y="600.26" width="36.54" height="21.54" fill="#ecaeb5"/>
<rect x="220.44" y="600.26" width="36.54" height="21.54" fill="#e68b95"/>
<rect x="256.68" y="600.26" width="36.54" height="21.54" fill="#fae6e8"/>
<rect x="292.92" y="600.26" width="36.54" height="21.54" fill="#efb6bd"/>
<rect x="329.16" y="600.26" width="36.54" height="21.54" fill="#e68f99"/>
<rect x="365.40" y="600.26" width="36.54" height="21.54" fill="#efb8bf"/>
<rect x="401.64" y="600.26" width="36.54" height="21.54" fill="#f7dde0"/>
<rect x="437.88" y="600.26" width="36.54" height="21.54" fill="#f2c4ca"/>
<rect x="474.12" y="600.26" width="36.54" height="21.54" fill="#fae6e8"/>
<rect x="510.36" y="600.26" width="36.54" height="21.54" fill="#edb2b8"/>
<rect x="546.60" y="600.26" width="36.54" height="21.54" fill="#fae6e8"/>
<rect x="582.84" y="600.26" width="36.54" height="21.54" fill="#fdfcfd"/>
<rect x="3.00" y="621.50" width="36.54" height="21.54" fill="#8baed4"/>
<rect x="39.24" y="621.50" width="36.54" height="21.54" fill="#fcfdfe"/>
<rect x="75.48" y="621.50" width="36.54" height="21.54" fill="#f8f9fb"/>
<rect x="111.72" y="621.50" width="36.54" height="21.54" fill="#e6edf6"/>
<rect x="147.96" y="621.50" width="36.54" height="21.54" fill="#f8e0e3"/>
<rect x="184.20" y="621.50" width="36.54" height="21.54" fill="#da5b6c"/>
<rect x="220.44" y="621.50" width="36.54" height="21.54" fill="#e68b95"/>
<rect x="256.68" y="621.50" width="36.54" height="21.54" fill="#e78e98"/>
<rect x="292.92" y="621.50" width="36.54" height="21.54" fill="#e27a87"/>
<rect x="329.16" y="621.50" width="36.54" height="21.54" fill="#ebabb1"/>
<rect x="365.40" y="621.50" width="36.54" height="21.54" fill="#e0808c"/>
<rect x="401.64" y="621.50" width="36.54" height="21.54" fill="#d44658"/>
<rect x="437.88" y="621.50" width="36.54" height="21.54" fill="#eaa5ad"/>
<rect x="474.12" y="621.50" width="36.54" height="21.54" fill="#eaa9b0"/>
<rect x="510.36" y="621.50" width="36.54" height="21.54" fill="#e07b88"/>
<rect x="546.60" y="621.50" width="36.54" height="21.54" fill="#eba9b0"/>
<rect x="582.84" y="621.50" width="36.54" height="21.54" fill="#f0bec4"/>
<rect x="3.00" y="642.74" width="36.54" height="21.54" fill="#a0bcdb"/>
<rect x="39.24" y="642.74" width="36.54" height="21.54" fill="#db606f"/>
<rect x="75.48" y="642.74" width="36.54" height="21.54" fill="#eba6ae"/>
<rect x="111.72" y="642.74" width="36.54" height="21.54" fill="#cc2237"/>
<rect x="147.96" y="642.74" width="36.54" height="21.54" fill="#e4848f"/>
<rect x="184.20" y="642.74" width="36.54" height="21.54" fill="#e8939c"/>
<rect x="220.44" y="642.74" width="36.54" height="21.54" fill="#e07582"/>
<rect x="256.68" y="642.74" width="36.54" height="21.54" fill="#eba6ae"/>
<rect x="292.92" y="642.74" width="36.54" height="21.54" fill="#eba6ae"/>
<rect x="329.16" y="642.74" width="36.54" height="21.54" fill="#e99aa2"/>
<rect x="365.40" y="642.74" width="36.54" height="21.54" fill="#e8939c"/>
<rect x="401.64" y="642.74" width="36.54" height="21.54" fill="#f9ebec"/>
<rect x="437.88" y="642.74" width="36.54" height="21.54" fill="#e07b88"/>
<rect x="474.12" y="642.74" width="36.54" height="21.54" fill="#eaa5ad"/>
<rect x="510.36" y="642.74" width="36.54" height="21.54" fill="#da6573"/>
<rect x="546.60" y="642.74" width="36.54" height="21.54" fill="#e68e98"/>
<rect x="582.84" y="642.74" width="36.54" height="21.54" fill="#e8939c"/>
<rect x="3.00" y="663.98" width="36.54" height="21.54" fill="#ecadb4"/>
<rect x="39.24" y="663.98" width="36.54" height="21.54" fill="#f8dde0"/>
<rect x="75.48" y="663.98" width="36.54" height="21.54" fill="#f3c8cd"/>
<rect x="111.72" y="663.98" width="36.54" height="21.54" fill="#e99ca5"/>
<rect x="147.96" y="663.98" width="36.54" height="21.54" fill="#d85365"/>
<rect x="184.20" y="663.98" width="36.54" height="21.54" fill="#ecadb4"/>
<rect x="220.44" y="663.98" width="36.54" height="21.54" fill="#ecaeb5"/>
<rect x="256.68" y="663.98" width="36.54" height="21.54" fill="#db5f6e"/>
<rect x="292.92" y="663.98" width="36.54" height="21.54" fill="#f3c6cc"/>
<rect x="329.16" y="663.98" width="36.54" height="21.54" fill="#df7784"/>
<rect x="365.40" y="663.98" width="36.54" height="21.54" fill="#d85467"/>
<rect x="401.64" y="663.98" width="36.54" height="21.54" fill="#cc2236"/>
<rect x="437.88" y="663.98" width="36.54" height="21.54" fill="#d03042"/>
<rect x="474.12" y="663.98" width="36.54" height="21.54" fill="#f0bfc5"/>
<rect x="510.36" y="663.98" width="36.54" height="21.54" fill="#df7886"/>
<rect x="546.60" y="663.98" width="36.54" height="21.54" fill="#d23d4e"/>
<rect x="582.84" y="663.98" width="36.54" height="21.54" fill="#d33e50"/>
<rect x="639.4" y="90.50" width="13" height="21.54" fill="#425f88"/>
<text x="656.7" y="106.20" font-size="21">pair_2_indolent</text>
<rect x="639.4" y="111.74" width="13" height="21.54" fill="#d9444e"/>
<text x="656.7" y="127.44" font-size="21">pair_2_active</text>
<rect x="639.4" y="132.98" width="13" height="21.54" fill="#425f88"/>
<text x="656.7" y="148.68" font-size="21">pair_10_indolent</text>
<rect x="639.4" y="154.22" width="13" height="21.54" fill="#d9444e"/>
<text x="656.7" y="169.92" font-size="21">pair_7_active</text>
<rect x="639.4" y="175.46" width="13" height="21.54" fill="#d9444e"/>
<text x="656.7" y="191.16" font-size="21">pair_11_active</text>
<rect x="639.4" y="196.70" width="13" height="21.54" fill="#d9444e"/>
<text x="656.7" y="212.40" font-size="21">pair_4_active</text>
<rect x="639.4" y="217.94" width="13" height="21.54" fill="#d9444e"/>
<text x="656.7" y="233.64" font-size="21">pair_10_active</text>
<rect x="639.4" y="239.18" width="13" height="21.54" fill="#425f88"/>
<text x="656.7" y="254.88" font-size="21">pair_8_indolent</text>
<rect x="639.4" y="260.42" width="13" height="21.54" fill="#425f88"/>
<text x="656.7" y="276.12" font-size="21">pair_7_indolent</text>
<rect x="639.4" y="281.66" width="13" height="21.54" fill="#425f88"/>
<text x="656.7" y="297.36" font-size="21">pair_3_indolent</text>
<rect x="639.4" y="302.90" width="13" height="21.54" fill="#425f88"/>
<text x="656.7" y="318.60" font-size="21">pair_1_indolent</text>
<rect x="639.4" y="324.14" width="13" height="21.54" fill="#425f88"/>
<text x="656.7" y="339.84" font-size="21">pair_11_indolent</text>
<rect x="639.4" y="345.38" width="13" height="21.54" fill="#d9444e"/>
<text x="656.7" y="361.08" font-size="21">pair_1_active</text>
<rect x="639.4" y="366.62" width="13" height="21.54" fill="#d9444e"/>
<text x="656.7" y="382.32" font-size="21">pair_6_active</text>
<rect x="639.4" y="387.86" width="13" height="21.54" fill="#d9444e"/>
<text x="656.7" y="403.56" font-size="21">pair_5_active</text>
<rect x="639.4" y="409.10" width="13" height="21.54" fill="#425f88"/>
<text x="656.7" y="424.80" font-size="21">single_indolent_1</text>
<rect x="639.4" y="430.34" width="13" height="21.54" fill="#d9444e"/>
<text x="656.7" y="446.04" font-size="21">pair_9_active</text>
<rect x="639.4" y="451.58" width="13" height="21.54" fill="#d9444e"/>
<text x="656.7" y="467.28" font-size="21">pair_8_active</text>
<rect x="639.4" y="472.82" width="13" height="21.54" fill="#425f88"/>
<text x="656.7" y="488.52" font-size="21">pair_4_indolent</text>
<rect x="639.4" y="494.06" width="13" height="21.54" fill="#d9444e"/>
<text x="656.7" y="509.76" font-size="21">single_active_1</text>
<rect x="639.4" y="515.30" width="13" height="21.54" fill="#425f88"/>
<text x="656.7" y="531.00" font-size="21">pair_9_indolent</text>
<rect x="639.4" y="536.54" width="13" height="21.54" fill="#425f88"/>
<text x="656.7" y="552.24" font-size="21">pair_6_indolent</text>
<rect x="639.4" y="557.78" width="13" height="21.54" fill="#425f88"/>
<text x="656.7" y="573.48" font-size="21">single_indolent_5</text>
<rect x="639.4" y="579.02" width="13" height="21.54" fill="#d9444e"/>
<text x="656.7" y="594.72" font-size="21">pair_3_active</text>
<rect x="639.4" y="600.26" width="13" height="21.54" fill="#425f88"/>
<text x="656.7" y="615.96" font-size="21">single_indolent_2</text>
<rect x="639.4" y="621.50" width="13" height="21.54" fill="#425f88"/>
<text x="656.7" y="637.20" font-size="21">single_indolent_4</text>
<rect x="639.4" y="642.74" width="13" height="21.54" fill="#425f88"/>
<text x="656.7" y="658.44" font-size="21">single_indolent_3</text>
<rect x="639.4" y="663.98" width="13" height="21.54" fill="#425f88"/>
<text x="656.7" y="679.68" font-size="21">pair_5_indolent</text>
<text transform="translate(28.72,697) rotate(-90)" font-size="21" text-anchor="end">NFATC2</text>
<text transform="translate(64.96,697) rotate(-90)" font-size="21" text-anchor="end">NFATC1</text>
<text transform="translate(101.20,697) rotate(-90)" font-size="21" text-anchor="end">ATF1</text>
<text transform="translate(137.44,697) rotate(-90)" font-size="21" text-anchor="end">ATF3</text>
<text transform="translate(173.68,697) rotate(-90)" font-size="21" text-anchor="end">ATF4</text>
<text transform="translate(209.92,697) rotate(-90)" font-size="21" text-anchor="end">RELB</text>
<text transform="translate(246.16,697) rotate(-90)" font-size="21" text-anchor="end">NFKB2</text>
<text transform="translate(282.40,697) rotate(-90)" font-size="21" text-anchor="end">FOS</text>
<text transform="translate(318.64,697) rotate(-90)" font-size="21" text-anchor="end">ATF6</text>
<text transform="translate(354.88,697) rotate(-90)" font-size="21" text-anchor="end">FOSL2</text>
<text transform="translate(391.12,697) rotate(-90)" font-size="21" text-anchor="end">JUN</text>
<text transform="translate(427.36,697) rotate(-90)" font-size="21" text-anchor="end">FOSL1</text>
<text transform="translate(463.60,697) rotate(-90)" font-size="21" text-anchor="end">JUND</text>
<text transform="translate(499.84,697) rotate(-90)" font-size="21" text-anchor="end">ATF2</text>
<text transform="translate(536.08,697) rotate(-90)" font-size="21" text-anchor="end">REL</text>
<text transform="translate(572.32,697) rotate(-90)" font-size="21" text-anchor="end">RELA</text>
<text transform="translate(608.56,697) rotate(-90)" font-size="21" text-anchor="end">NFKB1</text>
<path d="M129.8,781.1V797.7H166.1V781.1 M93.6,781.1V803.2H148.0V797.7 M57.4,781.1V807.1H120.8V803.2 M202.3,781.1V791.0H238.6V781.1 M220.4,791.0V798.0H274.8V781.1 M247.6,798.0V807.6H311.0V781.1 M347.3,781.1V797.9H383.5V781.1 M419.8,781.1V799.5H456.0V781.1 M365.4,797.9V802.7H437.9V799.5 M564.7,781.1V789.8H601.0V781.1 M528.5,781.1V794.7H582.8V789.8 M492.2,781.1V801.1H555.7V794.7 M401.6,802.7V807.6H524.0V801.1 M279.3,807.6V814.0H462.8V807.6 M89.1,807.1V823.2H371.1V814.0 M21.1,781.1V828.2H230.1V823.2" fill="none" stroke="#000" stroke-width="2.2"/>
<text x="673.6" y="713" class="tb" font-size="20.5" textLength="118" lengthAdjust="spacingAndGlyphs">enrichment</text>
<defs><linearGradient id="gA" x1="0" x2="1" y1="0" y2="0"><stop offset="0" stop-color="#2a6ab8"/><stop offset="0.5" stop-color="#ffffff"/><stop offset="1" stop-color="#c8142f"/></linearGradient></defs>
<rect x="674.5" y="720.6" width="107" height="12.3" fill="url(#gA)" stroke="#000" stroke-width="1.9"/>
<line x1="694.2" y1="733" x2="694.2" y2="741.8" stroke="#000" stroke-width="1.9"/>
<text x="693.2" y="764.9" font-size="20" text-anchor="middle">-2</text>
<line x1="728" y1="733" x2="728" y2="741.8" stroke="#000" stroke-width="1.9"/>
<text x="727" y="764.9" font-size="20" text-anchor="middle">0</text>
<line x1="761.3" y1="733" x2="761.3" y2="741.8" stroke="#000" stroke-width="1.9"/>
<text x="760.3" y="764.9" font-size="20" text-anchor="middle">2</text>
<text x="673.6" y="787.9" font-size="21">z-score <tspan font-size="16">[SD]</tspan></text>
<rect x="673.5" y="799.5" width="15.2" height="27.5" fill="#425f88"/>
<rect x="673.5" y="831.8" width="15.2" height="27.5" fill="#d9444e"/>
<text x="702.6" y="820.5" font-size="21">indolent T-PLL</text>
<text x="702.6" y="849.5" font-size="21">active T-PLL</text>
<text x="874.5" y="43.5" class="lbl" font-size="57" textLength="37.6" lengthAdjust="spacingAndGlyphs">B</text>
<text x="1180" y="42.6" class="tb" font-size="27" text-anchor="middle" textLength="92.7" lengthAdjust="spacingAndGlyphs">CTLA4</text>
<text x="1759.7" y="42.6" class="tb" font-size="27" text-anchor="middle" textLength="74.6" lengthAdjust="spacingAndGlyphs">LAG3</text>
<rect x="981.3" y="89.6" width="397.60000000000014" height="593.6999999999999" fill="none" stroke="#000" stroke-width="2.9"/>
<line x1="975.3" y1="656.4" x2="981.3" y2="656.4" stroke="#333" stroke-width="2.5"/>
<text x="970.8" y="665.2" font-size="24.5" fill="#4d4d4d" text-anchor="end" style="fill:#4d4d4d">0.0</text>
<line x1="975.3" y1="551.8" x2="981.3" y2="551.8" stroke="#333" stroke-width="2.5"/>
<text x="970.8" y="560.5" font-size="24.5" fill="#4d4d4d" text-anchor="end" style="fill:#4d4d4d">0.1</text>
<line x1="975.3" y1="447.1" x2="981.3" y2="447.1" stroke="#333" stroke-width="2.5"/>
<text x="970.8" y="455.9" font-size="24.5" fill="#4d4d4d" text-anchor="end" style="fill:#4d4d4d">0.2</text>
<line x1="975.3" y1="342.4" x2="981.3" y2="342.4" stroke="#333" stroke-width="2.5"/>
<text x="970.8" y="351.2" font-size="24.5" fill="#4d4d4d" text-anchor="end" style="fill:#4d4d4d">0.3</text>
<line x1="975.3" y1="237.8" x2="981.3" y2="237.8" stroke="#333" stroke-width="2.5"/>
<text x="970.8" y="246.6" font-size="24.5" fill="#4d4d4d" text-anchor="end" style="fill:#4d4d4d">0.4</text>
<line x1="975.3" y1="133.1" x2="981.3" y2="133.1" stroke="#333" stroke-width="2.5"/>
<text x="970.8" y="141.9" font-size="24.5" fill="#4d4d4d" text-anchor="end" style="fill:#4d4d4d">0.5</text>
<line x1="1056" y1="683.3" x2="1056" y2="691.3" stroke="#333" stroke-width="2.5"/>
<line x1="1180.4" y1="683.3" x2="1180.4" y2="691.3" stroke="#333" stroke-width="2.5"/>
<line x1="1304.8" y1="683.3" x2="1304.8" y2="691.3" stroke="#333" stroke-width="2.5"/>
<path d="M1180.4,133.1V120.7H1305.4V133.1" fill="none" stroke="#000" stroke-width="2.4"/>
<text x="1242.6" y="112.6" font-size="21" text-anchor="middle">p=0.0144</text>
<path d="M1056,192.9V181H1305.4V192.9" fill="none" stroke="#000" stroke-width="2.4"/>
<text x="1180.5" y="172" font-size="21" text-anchor="middle">p&lt;0.0001</text>
<path d="M1056,257.6V245.7H1180.4V257.6" fill="none" stroke="#000" stroke-width="2.4"/>
<text x="1118.3" y="237" font-size="21" text-anchor="middle">p&lt;0.0001</text>
<line x1="1056" y1="290" x2="1056" y2="444.6" stroke="#333" stroke-width="2"/>
<line x1="1056" y1="552" x2="1056" y2="564.4" stroke="#333" stroke-width="2"/>
<rect x="1009.3" y="444.6" width="93.6" height="107.4" fill="#bebebe" stroke="#333" stroke-width="2.2"/>
<line x1="1010.3" y1="508.4" x2="1101.9" y2="508.4" stroke="#333" stroke-width="3.6"/>
<line x1="1180.4" y1="638" x2="1180.4" y2="644.7" stroke="#333" stroke-width="2"/>
<rect x="1133.7" y="644.7" width="94.0" height="9.3" fill="#333d4b" stroke="#333" stroke-width="2.2"/>
<line x1="1134.7" y1="647.3" x2="1226.7" y2="647.3" stroke="#4a6ea3" stroke-width="1.8"/>
<rect x="1257.5" y="651.5" width="94.6" height="4.5" fill="#333" stroke="#333" stroke-width="2.2"/>
<line x1="1258.5" y1="654" x2="1351.1" y2="654" stroke="#333" stroke-width="3.6"/>
<circle cx="1089" cy="289.6" r="5.6" fill="#000"/>
<circle cx="1168.9" cy="348.6" r="5.6" fill="#000"/>
<circle cx="1076.2" cy="378.7" r="5.6" fill="#000"/>
<circle cx="1031.4" cy="429.7" r="5.6" fill="#000"/>
<circle cx="1076.5" cy="489.7" r="5.6" fill="#000"/>
<circle cx="1090.8" cy="490.7" r="5.6" fill="#000"/>
<circle cx="1033.9" cy="527.1" r="5.6" fill="#000"/>
<circle cx="1021.1" cy="548.5" r="5.6" fill="#000"/>
<circle cx="1060.6" cy="553.8" r="5.6" fill="#000"/>
<circle cx="1085.8" cy="565.3" r="5.6" fill="#000"/>
<circle cx="1193.5" cy="625" r="5.6" fill="#000"/>
<circle cx="1213.4" cy="639" r="5.6" fill="#000"/>
<circle cx="1166.4" cy="641.5" r="5.6" fill="#000"/>
<circle cx="1147.1" cy="654.6" r="5.6" fill="#000"/>
<circle cx="1166.4" cy="651.5" r="5.6" fill="#000"/>
<circle cx="1175.7" cy="654.6" r="5.6" fill="#000"/>
<circle cx="1192.8" cy="645.3" r="5.6" fill="#000"/>
<circle cx="1192.2" cy="654" r="5.6" fill="#000"/>
<circle cx="1199" cy="653" r="5.6" fill="#000"/>
<circle cx="1206.8" cy="654.6" r="5.6" fill="#000"/>
<circle cx="1217.7" cy="650" r="5.6" fill="#000"/>
<circle cx="1171" cy="646.8" r="5.6" fill="#000"/>
<circle cx="1186" cy="650" r="5.6" fill="#000"/>
<circle cx="1160" cy="649" r="5.6" fill="#000"/>
<circle cx="1281.5" cy="653" r="5.6" fill="#000"/>
<circle cx="1287.7" cy="647.8" r="5.6" fill="#000"/>
<circle cx="1294" cy="657.1" r="5.6" fill="#000"/>
<circle cx="1302.6" cy="653" r="5.6" fill="#000"/>
<circle cx="1311" cy="657.1" r="5.6" fill="#000"/>
<circle cx="1317.3" cy="653" r="5.6" fill="#000"/>
<circle cx="1322.5" cy="657.1" r="5.6" fill="#000"/>
<circle cx="1334.4" cy="653" r="5.6" fill="#000"/>
<circle cx="1340.6" cy="650.6" r="5.6" fill="#000"/>
<circle cx="1340.6" cy="654" r="5.6" fill="#000"/>
<circle cx="1308" cy="652" r="5.6" fill="#000"/>
<text x="1074.6" y="432.2" font-size="21.5" style="fill:#4d4d4d">n=10</text>
<text x="1203.7" y="629.7" font-size="21.5" style="fill:#4d4d4d">n=16</text>
<text x="1313.5" y="636.6" font-size="21.5" style="fill:#4d4d4d">n=12</text>
<text transform="translate(897.3,419.8) rotate(-90)" font-size="25" text-anchor="middle" textLength="339" lengthAdjust="spacingAndGlyphs">mean expression [log₂1p(UMI)]</text>
<text transform="translate(1043.4,693) rotate(-90)" class="tb" font-size="25" text-anchor="end" style="fill:#4d4d4d" textLength="165" lengthAdjust="spacingAndGlyphs">healthy-donor</text>
<text transform="translate(1074,693) rotate(-90)" class="tb" font-size="25" text-anchor="end" style="fill:#4d4d4d" textLength="76" lengthAdjust="spacingAndGlyphs">T cells</text>
<text transform="translate(1173.5,693) rotate(-90)" class="tb" font-size="25" text-anchor="end" style="fill:#4d4d4d" textLength="96" lengthAdjust="spacingAndGlyphs">indolent</text>
<text transform="translate(1203.5,693) rotate(-90)" class="tb" font-size="25" text-anchor="end" style="fill:#4d4d4d" textLength="130.5" lengthAdjust="spacingAndGlyphs">T-PLL cells</text>
<text transform="translate(1296.8,693) rotate(-90)" class="tb" font-size="25" text-anchor="end" style="fill:#4d4d4d" textLength="69.5" lengthAdjust="spacingAndGlyphs">active</text>
<text transform="translate(1326.8,693) rotate(-90)" class="tb" font-size="25" text-anchor="end" style="fill:#4d4d4d" textLength="130.5" lengthAdjust="spacingAndGlyphs">T-PLL cells</text>
<rect x="1560.6" y="89.6" width="396.60000000000014" height="593.6999999999999" fill="none" stroke="#000" stroke-width="2.9"/>
<line x1="1554.6" y1="656.2" x2="1560.6" y2="656.2" stroke="#333" stroke-width="2.5"/>
<text x="1550.1" y="665.0" font-size="24.5" fill="#4d4d4d" text-anchor="end" style="fill:#4d4d4d">0.0</text>
<line x1="1554.6" y1="475.7" x2="1560.6" y2="475.7" stroke="#333" stroke-width="2.5"/>
<text x="1550.1" y="484.5" font-size="24.5" fill="#4d4d4d" text-anchor="end" style="fill:#4d4d4d">0.2</text>
<line x1="1554.6" y1="295.2" x2="1560.6" y2="295.2" stroke="#333" stroke-width="2.5"/>
<text x="1550.1" y="304.0" font-size="24.5" fill="#4d4d4d" text-anchor="end" style="fill:#4d4d4d">0.4</text>
<line x1="1554.6" y1="114.7" x2="1560.6" y2="114.7" stroke="#333" stroke-width="2.5"/>
<text x="1550.1" y="123.5" font-size="24.5" fill="#4d4d4d" text-anchor="end" style="fill:#4d4d4d">0.6</text>
<line x1="1634.6" y1="683.3" x2="1634.6" y2="691.3" stroke="#333" stroke-width="2.5"/>
<line x1="1759" y1="683.3" x2="1759" y2="691.3" stroke="#333" stroke-width="2.5"/>
<line x1="1883.5" y1="683.3" x2="1883.5" y2="691.3" stroke="#333" stroke-width="2.5"/>
<path d="M1759,132.2V120.7H1883.5V132.2" fill="none" stroke="#000" stroke-width="2.4"/>
<text x="1821.3" y="112.6" font-size="21" text-anchor="middle">p=0.08</text>
<path d="M1634.6,191.3V178.9H1883.5V191.3" fill="none" stroke="#000" stroke-width="2.4"/>
<text x="1759" y="172" font-size="21" text-anchor="middle">p&lt;0.0001</text>
<path d="M1634.6,252.6V241.1H1759V252.6" fill="none" stroke="#000" stroke-width="2.4"/>
<text x="1696.9" y="233.9" font-size="21" text-anchor="middle">p&lt;0.0001</text>
<line x1="1635.3" y1="416.6" x2="1635.3" y2="446.5" stroke="#333" stroke-width="2"/>
<rect x="1588.3" y="446.5" width="93.9" height="81.2" fill="#bebebe" stroke="#333" stroke-width="2.2"/>
<line x1="1589.3" y1="490.4" x2="1681.2" y2="490.4" stroke="#333" stroke-width="3.6"/>
<rect x="1712.4" y="642.2" width="94.3" height="12.4" fill="#3d5f8f" stroke="#333" stroke-width="2.2"/>
<line x1="1713.4" y1="650" x2="1805.7" y2="650" stroke="#333" stroke-width="3.6"/>
<rect x="1836.8" y="649.3" width="94.3" height="6.3" fill="#333" stroke="#333" stroke-width="2.2"/>
<line x1="1837.8" y1="651.8" x2="1930.1" y2="651.8" stroke="#c8404a" stroke-width="1.8"/>
<circle cx="1647.1" cy="416.6" r="5.6" fill="#000"/>
<circle cx="1613.2" cy="443.1" r="5.6" fill="#000"/>
<circle cx="1655.8" cy="457.7" r="5.6" fill="#000"/>
<circle cx="1639.9" cy="484.5" r="5.6" fill="#000"/>
<circle cx="1669.8" cy="497.2" r="5.6" fill="#000"/>
<circle cx="1600.4" cy="514.6" r="5.6" fill="#000"/>
<circle cx="1610.7" cy="533" r="5.6" fill="#000"/>
<circle cx="1639.3" cy="531.7" r="5.6" fill="#000"/>
<circle cx="1655.2" cy="531.7" r="5.6" fill="#000"/>
<circle cx="1778" cy="540.5" r="5.6" fill="#000"/>
<circle cx="1796.1" cy="544.8" r="5.6" fill="#000"/>
<circle cx="1772.4" cy="617.3" r="5.6" fill="#000"/>
<circle cx="1775.5" cy="639.7" r="5.6" fill="#000"/>
<circle cx="1793" cy="642.5" r="5.6" fill="#000"/>
<circle cx="1726.4" cy="643.4" r="5.6" fill="#000"/>
<circle cx="1746" cy="647.8" r="5.6" fill="#000"/>
<circle cx="1748.2" cy="654.6" r="5.6" fill="#000"/>
<circle cx="1755" cy="654.6" r="5.6" fill="#000"/>
<circle cx="1771.5" cy="650" r="5.6" fill="#000"/>
<circle cx="1772.4" cy="655.2" r="5.6" fill="#000"/>
<circle cx="1786.4" cy="654.6" r="5.6" fill="#000"/>
<circle cx="1746.6" cy="650.9" r="5.6" fill="#000"/>
<circle cx="1760" cy="652" r="5.6" fill="#000"/>
<circle cx="1876.3" cy="629.1" r="5.6" fill="#000"/>
<circle cx="1860.5" cy="645.3" r="5.6" fill="#000"/>
<circle cx="1873.5" cy="649" r="5.6" fill="#000"/>
<circle cx="1866.7" cy="654" r="5.6" fill="#000"/>
<circle cx="1882.6" cy="654.6" r="5.6" fill="#000"/>
<circle cx="1891.3" cy="654" r="5.6" fill="#000"/>
<circle cx="1894.4" cy="650.9" r="5.6" fill="#000"/>
<circle cx="1914.6" cy="655.2" r="5.6" fill="#000"/>
<circle cx="1919.3" cy="654.6" r="5.6" fill="#000"/>
<text x="1660.5" y="436" font-size="21.5" style="fill:#4d4d4d">n=10</text>
<text x="1786.4" y="629.1" font-size="21.5" style="fill:#4d4d4d">n=16</text>
<text x="1899.3" y="642.2" font-size="21.5" style="fill:#4d4d4d">n=12</text>
<text transform="translate(1477.5,419.8) rotate(-90)" font-size="25" text-anchor="middle" textLength="339" lengthAdjust="spacingAndGlyphs">mean expression [log₂1p(UMI)]</text>
<text transform="translate(1622.0,693) rotate(-90)" class="tb" font-size="25" text-anchor="end" style="fill:#4d4d4d" textLength="165" lengthAdjust="spacingAndGlyphs">healthy-donor</text>
<text transform="translate(1652.6,693) rotate(-90)" class="tb" font-size="25" text-anchor="end" style="fill:#4d4d4d" textLength="76" lengthAdjust="spacingAndGlyphs">T cells</text>
<text transform="translate(1752.1,693) rotate(-90)" class="tb" font-size="25" text-anchor="end" style="fill:#4d4d4d" textLength="96" lengthAdjust="spacingAndGlyphs">indolent</text>
<text transform="translate(1782.1,693) rotate(-90)" class="tb" font-size="25" text-anchor="end" style="fill:#4d4d4d" textLength="130.5" lengthAdjust="spacingAndGlyphs">T-PLL cells</text>
<text transform="translate(1875.4,693) rotate(-90)" class="tb" font-size="25" text-anchor="end" style="fill:#4d4d4d" textLength="69.5" lengthAdjust="spacingAndGlyphs">active</text>
<text transform="translate(1905.4,693) rotate(-90)" class="tb" font-size="25" text-anchor="end" style="fill:#4d4d4d" textLength="130.5" lengthAdjust="spacingAndGlyphs">T-PLL cells</text>
<text x="-2" y="922" class="lbl" font-size="58">C</text>
<text x="133.8" y="922.8" class="tb" font-size="28.8" textLength="573.6" lengthAdjust="spacingAndGlyphs">TCR signaling in active vs. indolent stage</text>
<rect x="2.5" y="948.3" width="829.7" height="598.2" fill="none" stroke="#222" stroke-width="3.2"/>
<path d="M99.1,957V1538M112.7,957V1538" stroke="#999" stroke-width="2.2" fill="none"/>
<path d="M85.5,1149.5V1154.5M125.8,1149.5V1154.5M85.5,1197.1V1201.1M125.8,1197.1V1201.1" stroke="#555" stroke-width="1.5"/>
<text transform="translate(31.7,1013.1) rotate(-90)" class="tb" font-size="17.5" text-anchor="middle" textLength="107.8" lengthAdjust="spacingAndGlyphs">Co-inhibition</text>
<text transform="translate(31.7,1175.5) rotate(-90)" class="tb" font-size="17.5" text-anchor="middle" textLength="64.5" lengthAdjust="spacingAndGlyphs">Antigen</text>
<text transform="translate(31.7,1459.7) rotate(-90)" class="tb" font-size="17.5" text-anchor="middle" textLength="121.8" lengthAdjust="spacingAndGlyphs">Co-stimulation</text>
<path d="M45.8,976.8H68.1" fill="none" stroke="#222" stroke-width="1.5"/>
<path d="M45.8,1002.3H68.1" fill="none" stroke="#222" stroke-width="1.5"/>
<path d="M45.8,1037.6H68.1" fill="none" stroke="#222" stroke-width="1.5"/>
<path d="M45.8,1175.5H68.1" fill="none" stroke="#222" stroke-width="1.5"/>
<path d="M45.8,1444.4H68.1" fill="none" stroke="#222" stroke-width="1.5"/>
<path d="M45.8,1474.8H68.1" fill="none" stroke="#222" stroke-width="1.5"/>
<path d="M136.5,977.1L150.2,996.3" fill="none" stroke="#222" stroke-width="1.5"/>
<path d="M136.5,1002.3L150.2,996.3" fill="none" stroke="#222" stroke-width="1.5"/>
<path d="M182,1007.5V1057.5" fill="none" stroke="#222" stroke-width="1.5"/>
<path d="M182,1078.8V1088.5" fill="none" stroke="#222" stroke-width="1.5"/>
<path d="M212.7,1007.8C232,1050 262,1100 263.7,1156.6" fill="none" stroke="#222" stroke-width="1.5"/>
<path d="M258.7,1156.8L268.7,1156.4" stroke="#222" stroke-width="1.8" fill="none"/>
<path d="M280.2,1079.3V1156.6" fill="none" stroke="#222" stroke-width="1.5"/>
<path d="M275.2,1156.6L285.2,1156.6" stroke="#222" stroke-width="1.8" fill="none"/>
<path d="M212.7,1079L251,1163.6" fill="none" stroke="#222" stroke-width="1.5"/>
<path d="M252.6,1067.9H218.7" fill="none" stroke="#222" stroke-width="1.5"/>
<path d="M218.7,1062.9L218.7,1072.9" stroke="#222" stroke-width="1.8" fill="none"/>
<path d="M252.6,1079L216.7,1099.1" fill="none" stroke="#222" stroke-width="1.5"/>
<path d="M214.3,1094.7L219.1,1103.5" stroke="#222" stroke-width="1.8" fill="none"/>
<path d="M314.5,1068.3H359.8" fill="none" stroke="#222" stroke-width="1.5" stroke-dasharray="4,3.5"/>
<path d="M179.4,1109.5L175.4,1154.5" fill="none" stroke="#222" stroke-width="1.5"/>
<path d="M196.9,1109.5V1147.1" fill="none" stroke="#222" stroke-width="1.5"/>
<path d="M191.9,1147.1L201.9,1147.1" stroke="#222" stroke-width="1.8" fill="none"/>
<path d="M136.5,1037.6L150.2,1056.4" fill="none" stroke="#222" stroke-width="1.5"/>
<path d="M136.5,1047.7L151.2,1087" fill="none" stroke="#222" stroke-width="1.5"/>
<path d="M136.5,1079L150.6,1068.9" fill="none" stroke="#222" stroke-width="1.5"/>
<path d="M136.5,1117.3L151.2,1102.7" fill="none" stroke="#222" stroke-width="1.5"/>
<path d="M202.4,1175.7H227.4" fill="none" stroke="#222" stroke-width="1.5"/>
<path d="M289.3,1175.7H520.2" fill="none" stroke="#222" stroke-width="1.5"/>
<path d="M543.5,1150.4L549,1164.3" fill="none" stroke="#222" stroke-width="1.5"/>
<path d="M227.4,1186C200,1202 165,1225 154.1,1253.6" fill="none" stroke="#222" stroke-width="1.5"/>
<path d="M257.6,1186L250.2,1209.5" fill="none" stroke="#222" stroke-width="1.5"/>
<path d="M211.8,1232L203.1,1235.7" fill="none" stroke="#222" stroke-width="1.5"/>
<path d="M171.7,1256.6L163.5,1260.5" fill="none" stroke="#222" stroke-width="1.5"/>
<path d="M273.5,1221.3H277.7" fill="none" stroke="#222" stroke-width="1.5"/>
<path d="M339.4,1221.3H353.7" fill="none" stroke="#222" stroke-width="1.5"/>
<path d="M415.7,1221.3H460.8" fill="none" stroke="#222" stroke-width="1.5" stroke-dasharray="4,3.5"/>
<path d="M254.6,1232.5L286.1,1262.2" fill="none" stroke="#222" stroke-width="1.5"/>
<path d="M254.6,1232.5L249,1304.6" fill="none" stroke="#222" stroke-width="1.5"/>
<path d="M254.6,1232.5L212.5,1340.3" fill="none" stroke="#222" stroke-width="1.5"/>
<path d="M157.3,1282.6L212.5,1340.3" fill="none" stroke="#222" stroke-width="1.5"/>
<path d="M157.3,1282.6L151.1,1310" fill="none" stroke="#222" stroke-width="1.5"/>
<path d="M282.4,1304.6L286.1,1283.8" fill="none" stroke="#222" stroke-width="1.5"/>
<path d="M268.8,1325.7L239,1344" fill="none" stroke="#222" stroke-width="1.5"/>
<path d="M316.6,1273H343.3" fill="none" stroke="#222" stroke-width="1.5"/>
<path d="M421.9,1272.5H458.3L466.4,1240.8" fill="none" stroke="#222" stroke-width="1.5" stroke-dasharray="4,3.5"/>
<path d="M238.3,1351L350.5,1319.2" fill="none" stroke="#222" stroke-width="1.5"/>
<path d="M379,1316H398.8" fill="none" stroke="#222" stroke-width="1.5"/>
<path d="M437.5,1316.1H450.7" fill="none" stroke="#222" stroke-width="1.5"/>
<path d="M523.4,1316H624.6" fill="none" stroke="#222" stroke-width="1.5"/>
<path d="M192.5,1386.9L304.7,1352.2" fill="none" stroke="#222" stroke-width="1.5"/>
<path d="M238.3,1362.4L284.9,1399.3" fill="none" stroke="#222" stroke-width="1.5"/>
<path d="M308.4,1403L339.4,1367" fill="none" stroke="#222" stroke-width="1.5"/>
<path d="M312.1,1411.2H334.4" fill="none" stroke="#222" stroke-width="1.5"/>
<path d="M148.6,1331.4L162.2,1375.7" fill="none" stroke="#222" stroke-width="1.5"/>
<path d="M136.5,1442.6L164.7,1429" fill="none" stroke="#222" stroke-width="1.5"/>
<path d="M136.5,1446.3L200.6,1463.7" fill="none" stroke="#222" stroke-width="1.5"/>
<path d="M136.5,1474.8H200.6" fill="none" stroke="#222" stroke-width="1.5"/>
<path d="M106,1485.2V1504.5" fill="none" stroke="#222" stroke-width="1.5"/>
<path d="M262.6,1476.8H334.4" fill="none" stroke="#222" stroke-width="1.5"/>
<path d="M353.7,1483.5V1504.5" fill="none" stroke="#222" stroke-width="1.5"/>
<path d="M372.8,1474.8L411.2,1504.5" fill="none" stroke="#222" stroke-width="1.5"/>
<path d="M375.3,1515.3H388.4" fill="none" stroke="#222" stroke-width="1.5"/>
<path d="M450.2,1516H462.9" fill="none" stroke="#222" stroke-width="1.5"/>
<path d="M525,1515.7H536.4" fill="none" stroke="#222" stroke-width="1.5"/>
<path d="M567.8,1504.9V1482" fill="none" stroke="#222" stroke-width="1.5"/>
<path d="M387.7,1351.3H400.5" fill="none" stroke="#222" stroke-width="1.5"/>
<path d="M462.1,1351.3H474.3" fill="none" stroke="#222" stroke-width="1.5"/>
<path d="M536.4,1351.3H547.5" fill="none" stroke="#222" stroke-width="1.5"/>
<path d="M609.6,1351.3H623.6" fill="none" stroke="#222" stroke-width="1.5"/>
<path d="M685.9,1351.3H730.8" fill="none" stroke="#222" stroke-width="1.5"/>
<path d="M497.8,1390.4H546.5" fill="none" stroke="#222" stroke-width="1.5"/>
<path d="M608.4,1390.4H624" fill="none" stroke="#222" stroke-width="1.5"/>
<path d="M686.4,1389.9L729.5,1362.5" fill="none" stroke="#222" stroke-width="1.5"/>
<path d="M436.2,1390.3L401.3,1409.3" fill="none" stroke="#222" stroke-width="1.5"/>
<path d="M436.2,1401.2L415.7,1410.6V1446H434.2" fill="none" stroke="#222" stroke-width="1.5"/>
<path d="M401.3,1416L431.7,1423.2" fill="none" stroke="#222" stroke-width="1.5"/>
<path d="M497.8,1401.2L535.6,1423.2" fill="none" stroke="#222" stroke-width="1.5"/>
<path d="M501.4,1449.8H536.4" fill="none" stroke="#222" stroke-width="1.5"/>
<path d="M598.5,1449.1L624.1,1456.2" fill="none" stroke="#222" stroke-width="1.5"/>
<path d="M651,1436.7V1445.5" fill="none" stroke="#222" stroke-width="1.5"/>
<path d="M645.9,1441H656" fill="none" stroke="#222" stroke-width="1.5"/>
<path d="M686.4,1456H714.3" fill="none" stroke="#222" stroke-width="1.5" stroke-dasharray="4,3.5"/>
<path d="M686.4,1426H803V1291.5" fill="none" stroke="#222" stroke-width="1.5"/>
<path d="M685.9,1515.7H817.7V1316.1H692.8" fill="none" stroke="#222" stroke-width="1.5"/>
<path d="M692.8,1311.1L692.8,1321.1" stroke="#222" stroke-width="1.8" fill="none"/>
<path d="M419,1527.2V1537.8H647.1V1529.2" fill="none" stroke="#222" stroke-width="1.5"/>
<path d="M652.1,1529.2L642.1,1529.2" stroke="#222" stroke-width="1.8" fill="none"/>
<path d="M762.5,1340.5V1285.2" fill="none" stroke="#222" stroke-width="1.5"/>
<path d="M686.4,1305.5L730.8,1263.6" fill="none" stroke="#222" stroke-width="1.5"/>
<path d="M582.3,1175H694V1266.2H619.3V1305" fill="none" stroke="#222" stroke-width="1.5" stroke-dasharray="4,3.5"/>
<path d="M68.1,976.8L59.6,980.9L59.6,972.7Z M68.1,1002.3L59.6,1006.4L59.6,998.2Z M68.1,1037.6L59.6,1041.7L59.6,1033.5Z M68.1,1175.5L59.6,1179.6L59.6,1171.4Z M68.1,1444.4L59.6,1448.5L59.6,1440.3Z M68.1,1474.8L59.6,1478.9L59.6,1470.7Z M251.0,1163.6L243.8,1157.5L251.2,1154.2Z M359.8,1068.3L351.3,1072.4L351.3,1064.2Z M150.2,1056.4L141.9,1051.9L148.5,1047.1Z M151.2,1087.0L144.4,1080.5L152.1,1077.6Z M520.2,1175.7L511.7,1179.8L511.7,1171.6Z M154.1,1253.6L153.3,1244.2L161.0,1247.1Z M250.2,1209.5L248.8,1200.2L256.7,1202.6Z M353.7,1221.3L345.2,1225.4L345.2,1217.2Z M460.8,1221.3L452.3,1225.4L452.3,1217.2Z M286.1,1283.8L288.6,1292.9L280.6,1291.5Z M239.0,1344.0L244.1,1336.1L248.4,1343.0Z M343.3,1273.0L334.8,1277.1L334.8,1268.9Z M466.4,1240.8L468.3,1250.1L460.3,1248.0Z M350.5,1319.2L343.4,1325.5L341.2,1317.6Z M398.8,1316.0L390.3,1320.1L390.3,1311.9Z M450.7,1316.1L442.2,1320.2L442.2,1312.0Z M624.6,1316.0L616.1,1320.1L616.1,1311.9Z M304.7,1352.2L297.8,1358.6L295.4,1350.8Z M284.9,1399.3L275.7,1397.2L280.8,1390.8Z M339.4,1367.0L337.0,1376.1L330.7,1370.8Z M334.4,1411.2L325.9,1415.3L325.9,1407.1Z M162.2,1375.7L155.8,1368.8L163.6,1366.4Z M164.7,1429.0L158.8,1436.4L155.3,1429.0Z M200.6,1463.7L191.3,1465.4L193.5,1457.5Z M200.6,1474.8L192.1,1478.9L192.1,1470.7Z M106.0,1504.5L101.9,1496.0L110.1,1496.0Z M334.4,1476.8L325.9,1480.9L325.9,1472.7Z M353.7,1504.5L349.6,1496.0L357.8,1496.0Z M411.2,1504.5L402.0,1502.5L407.0,1496.1Z M388.4,1515.3L379.9,1519.4L379.9,1511.2Z M462.9,1516.0L454.4,1520.1L454.4,1511.9Z M536.4,1515.7L527.9,1519.8L527.9,1511.6Z M567.8,1482.0L571.9,1490.5L563.7,1490.5Z M400.5,1351.3L392.0,1355.4L392.0,1347.2Z M474.3,1351.3L465.8,1355.4L465.8,1347.2Z M547.5,1351.3L539.0,1355.4L539.0,1347.2Z M623.6,1351.3L615.1,1355.4L615.1,1347.2Z M730.8,1351.3L722.3,1355.4L722.3,1347.2Z M546.5,1390.4L538.0,1394.5L538.0,1386.3Z M624.0,1390.4L615.5,1394.5L615.5,1386.3Z M729.5,1362.5L724.5,1370.5L720.1,1363.6Z M401.3,1409.3L406.8,1401.6L410.7,1408.8Z M431.7,1423.2L422.5,1425.2L424.4,1417.3Z M535.6,1423.2L526.2,1422.5L530.3,1415.4Z M536.4,1449.8L527.9,1453.9L527.9,1445.7Z M624.1,1456.2L614.8,1457.9L617.0,1450.0Z M714.3,1456.0L705.8,1460.1L705.8,1451.9Z M803.0,1291.5L807.1,1300.0L798.9,1300.0Z M762.5,1285.2L766.6,1293.7L758.4,1293.7Z M730.8,1263.6L727.4,1272.4L721.8,1266.5Z M619.3,1305.0L615.2,1296.5L623.4,1296.5Z" fill="#222"/>
<rect x="74.3" y="966.4" width="62.2" height="20.8" fill="#dc5a6b" stroke="#5a5a5a" stroke-width="1.15"/>
<text x="105.4" y="982.2" class="tb" font-size="15.3" text-anchor="middle">PD-1</text>
<rect x="74.3" y="991.6" width="62.2" height="21.3" fill="#9dbde0" stroke="#5a5a5a" stroke-width="1.15"/>
<text x="105.4" y="1007.6" class="tb" font-size="15.3" text-anchor="middle">CTLA4</text>
<rect x="74.3" y="1027" width="62.2" height="21.1" fill="#b8cde6" stroke="#5a5a5a" stroke-width="1.15"/>
<text x="105.4" y="1043.0" class="tb" font-size="15.3" text-anchor="middle">CD45</text>
<rect x="74.3" y="1067.7" width="62.2" height="21.5" fill="#ffffff" stroke="#5a5a5a" stroke-width="1.15"/>
<text x="105.4" y="1083.9" class="tb" font-size="15.3" text-anchor="middle">CD4/8</text>
<rect x="74.3" y="1107.4" width="62.2" height="20.8" fill="#c2d5ea" stroke="#5a5a5a" stroke-width="1.15"/>
<text x="105.4" y="1123.2" class="tb" font-size="15.3" text-anchor="middle">CD3ε</text>
<rect x="74.3" y="1128.5" width="62.2" height="21.0" fill="#c2d5ea" stroke="#5a5a5a" stroke-width="1.15"/>
<text x="105.4" y="1144.4" class="tb" font-size="15.3" text-anchor="middle">CD3γ</text>
<rect x="74.3" y="1154.5" width="62.2" height="21.0" fill="#ffffff" stroke="#5a5a5a" stroke-width="1.15"/>
<text x="105.4" y="1170.4" class="tb" font-size="15.3" text-anchor="middle">TCRα</text>
<rect x="74.3" y="1176" width="62.2" height="21.1" fill="#ffffff" stroke="#5a5a5a" stroke-width="1.15"/>
<text x="105.4" y="1192.0" class="tb" font-size="15.3" text-anchor="middle">TCRβ</text>
<rect x="74.3" y="1201.1" width="62.2" height="21.0" fill="#88abd4" stroke="#5a5a5a" stroke-width="1.15"/>
<text x="105.4" y="1217.0" class="tb" font-size="15.3" text-anchor="middle">CD3γ</text>
<rect x="74.3" y="1223.1" width="62.2" height="21.1" fill="#c2d5ea" stroke="#5a5a5a" stroke-width="1.15"/>
<text x="105.4" y="1239.1" class="tb" font-size="15.3" text-anchor="middle">CD3ε</text>
<rect x="140.7" y="1154.5" width="61.7" height="21.0" fill="#d3e1f0" stroke="#5a5a5a" stroke-width="1.15"/>
<text x="171.6" y="1170.4" class="tb" font-size="15.3" text-anchor="middle">CD3ζ</text>
<rect x="140.7" y="1176" width="61.7" height="21.1" fill="#d3e1f0" stroke="#5a5a5a" stroke-width="1.15"/>
<text x="171.6" y="1192.0" class="tb" font-size="15.3" text-anchor="middle">CD3ζ</text>
<rect x="150.6" y="986.7" width="61.9" height="20.8" fill="#78a1cf" stroke="#5a5a5a" stroke-width="1.15"/>
<text x="181.6" y="1002.5" class="tb" font-size="15.3" text-anchor="middle">SHP1</text>
<rect x="150.6" y="1057.5" width="61.9" height="21.3" fill="#78a1cf" stroke="#5a5a5a" stroke-width="1.15"/>
<text x="181.6" y="1073.6" class="tb" font-size="15.3" text-anchor="middle">LCK</text>
<rect x="150.6" y="1088.5" width="61.9" height="21.0" fill="#f8dde1" stroke="#5a5a5a" stroke-width="1.15"/>
<text x="181.6" y="1104.4" class="tb" font-size="15.3" text-anchor="middle">FYN</text>
<rect x="252.7" y="1057.5" width="61.9" height="21.8" fill="#f6d9de" stroke="#5a5a5a" stroke-width="1.15"/>
<text x="283.6" y="1073.8" class="tb" font-size="15.3" text-anchor="middle">CBL</text>
<rect x="227.4" y="1164.9" width="61.9" height="21.1" fill="#e9f0f8" stroke="#5a5a5a" stroke-width="1.15"/>
<text x="258.4" y="1180.9" class="tb" font-size="15.3" text-anchor="middle">ZAP70</text>
<rect x="505.4" y="1128.8" width="61.9" height="21.6" fill="#e3ecf6" stroke="#5a5a5a" stroke-width="1.15"/>
<text x="536.3" y="1145.0" class="tb" font-size="15.3" text-anchor="middle">Dlgh1</text>
<rect x="520.2" y="1164.3" width="62.1" height="21.6" fill="#f4d0d6" stroke="#5a5a5a" stroke-width="1.15"/>
<text x="551.2" y="1180.5" class="tb" font-size="15.3" text-anchor="middle">p38</text>
<rect x="211.8" y="1210.7" width="61.7" height="21.3" fill="#84a8d2" stroke="#5a5a5a" stroke-width="1.15"/>
<text x="242.7" y="1226.8" class="tb" font-size="15.3" text-anchor="middle">SLP-76</text>
<rect x="277.7" y="1210.7" width="61.7" height="21.3" fill="#ffffff" stroke="#5a5a5a" stroke-width="1.15"/>
<text x="308.5" y="1226.8" class="tb" font-size="15.3" text-anchor="middle">NCK</text>
<rect x="353.7" y="1210.7" width="62.0" height="21.3" fill="#ffffff" stroke="#5a5a5a" stroke-width="1.15"/>
<text x="384.7" y="1226.8" class="tb" font-size="15.3" text-anchor="middle">PAK</text>
<rect x="171.7" y="1235.7" width="61.6" height="20.9" fill="#c1d4ea" stroke="#5a5a5a" stroke-width="1.15"/>
<text x="202.5" y="1251.6" class="tb" font-size="15.3" text-anchor="middle">GADS</text>
<rect x="130.5" y="1260.5" width="62.0" height="22.1" fill="#a6c1e0" stroke="#5a5a5a" stroke-width="1.15"/>
<text x="161.5" y="1277.0" class="tb" font-size="15.3" text-anchor="middle">LAT</text>
<rect x="254.6" y="1262.2" width="62.0" height="21.6" fill="#dde8f3" stroke="#5a5a5a" stroke-width="1.15"/>
<text x="285.6" y="1278.4" class="tb" font-size="15.3" text-anchor="middle">VAV</text>
<rect x="343.3" y="1262.2" width="78.6" height="21.6" fill="#f8dde1" stroke="#5a5a5a" stroke-width="1.15"/>
<text x="382.6" y="1278.4" class="tb" font-size="15.3" text-anchor="middle">RhoCDC42</text>
<rect x="248.5" y="1304.6" width="61.9" height="21.1" fill="#ffffff" stroke="#5a5a5a" stroke-width="1.15"/>
<text x="279.4" y="1320.6" class="tb" font-size="15.3" text-anchor="middle">ITK</text>
<rect x="120.4" y="1310" width="62.2" height="21.4" fill="#dde8f3" stroke="#5a5a5a" stroke-width="1.15"/>
<text x="151.5" y="1326.1" class="tb" font-size="15.3" text-anchor="middle">GRB2</text>
<rect x="176.6" y="1341.1" width="61.7" height="21.3" fill="#e3ecf6" stroke="#5a5a5a" stroke-width="1.15"/>
<text x="207.4" y="1357.2" class="tb" font-size="15.3" text-anchor="middle">PLC-γ1</text>
<rect x="309.1" y="1341.1" width="78.6" height="21.3" fill="#f4ccd3" stroke="#5a5a5a" stroke-width="1.15"/>
<text x="348.4" y="1357.2" class="tb" font-size="15.3" text-anchor="middle">RasGRP1</text>
<rect x="400.5" y="1340.5" width="61.6" height="21.5" fill="#e9a2ac" stroke="#5a5a5a" stroke-width="1.15"/>
<text x="431.3" y="1356.7" class="tb" font-size="15.3" text-anchor="middle">Ras</text>
<rect x="474.3" y="1340.5" width="62.1" height="21.5" fill="#f8dde1" stroke="#5a5a5a" stroke-width="1.15"/>
<text x="505.4" y="1356.7" class="tb" font-size="15.3" text-anchor="middle">Raf</text>
<rect x="547.5" y="1340.5" width="62.1" height="21.5" fill="#e3ecf6" stroke="#5a5a5a" stroke-width="1.15"/>
<text x="578.5" y="1356.7" class="tb" font-size="15.3" text-anchor="middle">MEK1/2</text>
<rect x="623.6" y="1340.5" width="62.3" height="21.5" fill="#c5d7eb" stroke="#5a5a5a" stroke-width="1.15"/>
<text x="654.8" y="1356.7" class="tb" font-size="15.3" text-anchor="middle">Erk</text>
<rect x="730.8" y="1340.5" width="61.8" height="21.5" fill="#e89da8" stroke="#5a5a5a" stroke-width="1.15"/>
<text x="761.7" y="1356.7" class="tb" font-size="15.3" text-anchor="middle">AP1</text>
<rect x="461.6" y="1305.5" width="61.8" height="21.0" fill="#fdf3f4" stroke="#5a5a5a" stroke-width="1.15"/>
<text x="492.5" y="1321.4" class="tb" font-size="15.3" text-anchor="middle">CaN</text>
<rect x="624.6" y="1305.5" width="61.8" height="21.0" fill="#f0f5fa" stroke="#5a5a5a" stroke-width="1.15"/>
<text x="655.5" y="1321.4" class="tb" font-size="15.3" text-anchor="middle">NFAT</text>
<rect x="130.5" y="1376.5" width="62.0" height="21.0" fill="#f4cdd3" stroke="#5a5a5a" stroke-width="1.15"/>
<text x="161.5" y="1392.4" class="tb" font-size="15.3" text-anchor="middle">SOS</text>
<rect x="339.4" y="1399.8" width="61.9" height="21.2" fill="#edf3f9" stroke="#5a5a5a" stroke-width="1.15"/>
<text x="370.4" y="1415.8" class="tb" font-size="15.3" text-anchor="middle">PKCθ</text>
<rect x="436.2" y="1379.6" width="61.6" height="21.6" fill="#c2d5ea" stroke="#5a5a5a" stroke-width="1.15"/>
<text x="467.0" y="1395.8" class="tb" font-size="15.3" text-anchor="middle">TAK1</text>
<rect x="546.5" y="1379.6" width="61.9" height="21.6" fill="#fbe7ea" stroke="#5a5a5a" stroke-width="1.15"/>
<text x="577.5" y="1395.8" class="tb" font-size="15.3" text-anchor="middle">MKK7</text>
<rect x="624" y="1379.6" width="62.4" height="21.6" fill="#e99ea8" stroke="#5a5a5a" stroke-width="1.15"/>
<text x="655.2" y="1395.8" class="tb" font-size="15.3" text-anchor="middle">JNK2</text>
<rect x="434.2" y="1415.6" width="67.2" height="21.1" fill="#c2d5ea" stroke="#5a5a5a" stroke-width="1.15"/>
<text x="467.8" y="1431.6" class="tb" font-size="15.3" text-anchor="middle">CARMA1</text>
<rect x="434.2" y="1437.9" width="67.2" height="21.3" fill="#f4cdd3" stroke="#5a5a5a" stroke-width="1.15"/>
<text x="467.8" y="1454.0" class="tb" font-size="15.3" text-anchor="middle">BCL-10</text>
<rect x="434.2" y="1460.5" width="67.2" height="21.5" fill="#fae3e6" stroke="#5a5a5a" stroke-width="1.15"/>
<text x="467.8" y="1476.7" class="tb" font-size="15.3" text-anchor="middle">MALT1</text>
<rect x="536.4" y="1415.6" width="62.1" height="21.1" fill="#d3e1f0" stroke="#5a5a5a" stroke-width="1.15"/>
<text x="567.5" y="1431.6" class="tb" font-size="15.3" text-anchor="middle">IKKβ</text>
<rect x="536.4" y="1437.9" width="62.1" height="21.3" fill="#eff4fa" stroke="#5a5a5a" stroke-width="1.15"/>
<text x="567.5" y="1454.0" class="tb" font-size="15.3" text-anchor="middle">IKKγ</text>
<rect x="536.4" y="1460.5" width="62.1" height="21.5" fill="#f0b7bf" stroke="#5a5a5a" stroke-width="1.15"/>
<text x="567.5" y="1476.7" class="tb" font-size="15.3" text-anchor="middle">IKKα</text>
<rect x="624.6" y="1415.6" width="61.8" height="21.1" fill="#eeb1b9" stroke="#5a5a5a" stroke-width="1.15"/>
<text x="655.5" y="1431.6" class="tb" font-size="15.3" text-anchor="middle">NFκB</text>
<rect x="624.6" y="1445.5" width="61.8" height="21.6" fill="#f2c3cb" stroke="#5a5a5a" stroke-width="1.15"/>
<text x="655.5" y="1461.7" class="tb" font-size="15.3" text-anchor="middle">IκB</text>
<rect x="165.5" y="1418.6" width="61.9" height="21.8" fill="#dae5f1" stroke="#5a5a5a" stroke-width="1.15"/>
<text x="196.4" y="1434.9" class="tb" font-size="15.3" text-anchor="middle">GRB2</text>
<rect x="74.3" y="1433.7" width="62.2" height="21.3" fill="#f6d6db" stroke="#5a5a5a" stroke-width="1.15"/>
<text x="105.4" y="1449.8" class="tb" font-size="15.3" text-anchor="middle">CD28</text>
<rect x="74.3" y="1464.4" width="62.2" height="20.8" fill="#ebaab3" stroke="#5a5a5a" stroke-width="1.15"/>
<text x="105.4" y="1480.2" class="tb" font-size="15.3" text-anchor="middle">ICOS</text>
<rect x="74.3" y="1504.5" width="62.2" height="21.6" fill="#6b9acb" stroke="#5a5a5a" stroke-width="1.15"/>
<text x="105.4" y="1520.7" class="tb" font-size="15.3" text-anchor="middle">CD40L</text>
<rect x="200.6" y="1464.4" width="62.0" height="20.8" fill="#e8949f" stroke="#5a5a5a" stroke-width="1.15"/>
<text x="231.6" y="1480.2" class="tb" font-size="15.3" text-anchor="middle">PI3K</text>
<rect x="313.6" y="1504.5" width="61.7" height="21.6" fill="#ffffff" stroke="#5a5a5a" stroke-width="1.15"/>
<text x="344.5" y="1520.7" class="tb" font-size="15.3" text-anchor="middle">PDK1</text>
<rect x="388.4" y="1505.6" width="61.8" height="21.6" fill="#f4cdd3" stroke="#5a5a5a" stroke-width="1.15"/>
<text x="419.3" y="1521.8" class="tb" font-size="15.3" text-anchor="middle">AKT</text>
<rect x="462.9" y="1504.9" width="62.1" height="21.5" fill="#fefcfc" stroke="#5a5a5a" stroke-width="1.15"/>
<text x="493.9" y="1521.1" class="tb" font-size="15.3" text-anchor="middle">COT</text>
<rect x="536.4" y="1504.9" width="62.1" height="21.5" fill="#fae3e6" stroke="#5a5a5a" stroke-width="1.15"/>
<text x="567.5" y="1521.1" class="tb" font-size="15.3" text-anchor="middle">NIK</text>
<rect x="623.6" y="1504.9" width="62.3" height="21.5" fill="#e3ecf6" stroke="#5a5a5a" stroke-width="1.15"/>
<text x="654.8" y="1521.1" class="tb" font-size="15.3" text-anchor="middle">GSK-3β</text>
<text x="368.9" y="1073.9" class="tb" font-size="17.7" style="fill:#808080" textLength="94" lengthAdjust="spacingAndGlyphs">Proteolysis</text>
<text x="715.6" y="1463" class="tb" font-size="17.7" style="fill:#808080" textLength="94.5" lengthAdjust="spacingAndGlyphs">Proteolysis</text>
<text x="471.7" y="1225.1" class="tb" font-size="17.7" style="fill:#808080" textLength="113.3" lengthAdjust="spacingAndGlyphs">Regulation of</text>
<text x="474.8" y="1245.4" class="tb" font-size="17.7" style="fill:#808080" textLength="107.2" lengthAdjust="spacingAndGlyphs">cytoskeleton</text>
<text x="275.7" y="1416.7" class="tb" font-size="14.4" style="fill:#6e6e6e" textLength="32.7" lengthAdjust="spacingAndGlyphs">DAG</text>
<text x="357.7" y="1321.8" font-size="14.6" style="fill:#6e6e6e;font-weight:600">IP<tspan font-size="9">3</tspan></text>
<text x="402.7" y="1321.8" font-size="14.6" style="fill:#6e6e6e;font-weight:600">Ca<tspan font-size="9" dy="-5.5">2+</tspan></text>
<text x="340.8" y="1480.2" font-size="14.6" style="fill:#6e6e6e;font-weight:600">PIP<tspan font-size="9">3</tspan></text>
<text x="384.4" y="989.8" class="tb" font-size="26" textLength="74.6" lengthAdjust="spacingAndGlyphs">pair 3</text>
<text x="636" y="971.7" class="tb" font-size="16.6" text-anchor="middle" textLength="63.4" lengthAdjust="spacingAndGlyphs">log2 FC</text>
<defs><linearGradient id="gC" x1="0" x2="1" y1="0" y2="0"><stop offset="0" stop-color="#2060ae"/><stop offset="0.5" stop-color="#ffffff"/><stop offset="1" stop-color="#c8102e"/></linearGradient></defs>
<rect x="569.1" y="981.8" width="133.8" height="11.9" fill="url(#gC)"/>
<text x="569.3" y="1012.2" font-size="14.5" text-anchor="middle">-3</text>
<text x="635.7" y="1012.2" font-size="14.5" text-anchor="middle">0</text>
<text x="702.2" y="1012.2" font-size="14.5" text-anchor="middle">3</text>
<text transform="translate(763,1200) rotate(-90)" class="tb" font-size="17.5" text-anchor="middle" textLength="104" lengthAdjust="spacingAndGlyphs">Proliferation</text>
<text transform="translate(782.8,1200) rotate(-90)" class="tb" font-size="17.5" text-anchor="middle" textLength="119" lengthAdjust="spacingAndGlyphs">Differentiation</text>
<text transform="translate(803,1200) rotate(-90)" class="tb" font-size="17.5" text-anchor="middle" textLength="152" lengthAdjust="spacingAndGlyphs">Immuno response</text>
<text x="873.5" y="921.2" class="lbl" font-size="57">D</text>
<text x="1288" y="921.3" class="lbl" font-size="57">E</text>
<text x="1040.6" y="922" class="tb" font-size="26" text-anchor="middle" textLength="74.8" lengthAdjust="spacingAndGlyphs">pair 3</text>
<text x="1675.6" y="921.3" class="tb" font-size="26" text-anchor="middle" textLength="74.1" lengthAdjust="spacingAndGlyphs">pair 1</text>
<defs><g id="tsneDefs"><path id="d0_0" d="M965 1028.5h0m-1 3.5h0m5 1.5h0m-5.5 0.5h0m4 5h0"/><path id="d0_2" d="M967 1028h0m-6 6.5h0m11 4h0"/><path id="d0_3" d="M971.5 1034h0m-4 6.5h0"/><path id="d0_4" d="M971.5 1029h0m-7 4.5h0m-4.5 1.5h0m4 6h0m5 4h0"/><path id="d0_6" d="M970 1025h0m-4 11h0m1.5 9h0"/><path id="d0_7" d="M969.5 1030.5h0m-1 1.5h0m-7.5 1h0m-1 3.5h0m3 7.5h0m-0.5 2.5h0"/><path id="d0_8" d="M962 1038h0m-1 1.5h0"/><path id="d0_9" d="M962.5 1029.5h0m4 3.5h0m-4 4.5h0m0 4h0m6.5 5.5h0"/><path id="d0_10" d="M964.5 1030.5h0m3 6h0m-3 3.5h0m2.5 2.5h0"/><path id="d0_11" d="M967.5 1029.5h0m-4 6.5h0m5 0h0m-7 0.5h0m4.5 5h0m-0.5 2.5h0"/><path id="d1_0" d="M971 1044.5h0m1 5h0m-4 9.5h0"/><path id="d1_1" d="M970.5 1046h0m0.5 11h0m-2.5 2h0"/><path id="d1_2" d="M967.5 1048.5h0m1 -1h0m-4.5 5h0"/><path id="d1_3" d="M963.5 1049.5h0m7 3.5h0m-2 3h0m-1 1.5h0"/><path id="d1_4" d="M963.5 1048.5h0"/><path id="d1_5" d="M968.5 1043h0m1 11h0"/><path id="d1_6" d="M964.5 1049.5h0m1.5 1.5h0m2 5h0"/><path id="d1_7" d="M971.5 1043h0"/><path id="d1_8" d="M965 1046h0"/><path id="d1_9" d="M968 1051h0m-4 2h0"/><path id="d1_11" d="M964.5 1053h0"/><path id="d2_0" d="M976.5 1024h0m11 4.5h0m-4.5 0h0m-12 4.5h0m1.5 1.5h0m1 3h0m3.5 2h0m-8 1h0m1 -1h0m9 0.5h0m-4.5 2h0m7.5 0.5h0"/><path id="d2_1" d="M981.5 1019h0m8 8h0m-2 12h0"/><path id="d2_2" d="M980 1022h0m-1 6.5h0m-2 3.5h0m-11.5 1h0m13 2h0m10 2h0m-11 7h0m1 0.5h0"/><path id="d2_3" d="M977.5 1021.5h0m-2 0.5h0m4.5 11h0m-9.5 3h0m11 0h0m1 0.5h0m4 1.5h0"/><path id="d2_4" d="M973 1026h0m0.5 2.5h0m9.5 1.5h0m-1 8.5h0m-8 9.5h0"/><path id="d2_5" d="M986 1020h0m-14 5.5h0m-1 4.5h0m17.5 1h0m-14.5 2h0m-7 1h0m19 0.5h0m-9 3h0m-1 5.5h0m6.5 1.5h0"/><path id="d2_6" d="M984.5 1022h0m-15 4h0m13.5 0h0m-12.5 1.5h0m16 4.5h0m-11 5h0m-3 5h0"/><path id="d2_7" d="M984 1019h0m3 -0.5h0m-7.5 2.5h0m-6.5 8.5h0m5.5 3.5h0m0.5 3.5h0m6.5 8h0m-9 1.5h0m0.5 2.5h0"/><path id="d2_8" d="M977 1022h0m5 1h0m-3 7.5h0m6.5 -0.5h0m-5 9h0m-9.5 9h0m11.5 1h0"/><path id="d2_9" d="M978 1026h0m-3 2.5h0m-0.5 2h0m0.5 1.5h0m-0.5 3h0m6 7.5h0"/><path id="d2_10" d="M980.5 1021.5h0m-2.5 0h0m6.5 5.5h0m3.5 12.5h0m-13.5 1h0m6.5 7h0"/><path id="d2_11" d="M979 1024h0m6 0.5h0m-10 1.5h0m2 4.5h0m0.5 4.5h0m-4.5 1h0m-3.5 2.5h0m16.5 6.5h0"/><path id="d3_0" d="M974.5 1048.5h0m-1 2.5h0m-3 1h0m15.5 -0.5h0m-5 1.5h0m-6.5 0.5h0m8 1.5h0m-8.5 7h0"/><path id="d3_1" d="M972.5 1041h0m14 6.5h0m-8 4.5h0m-6 3.5h0m4.5 2.5h0m3.5 2h0m3.5 0h0m-2 2.5h0"/><path id="d3_2" d="M978.5 1045h0m-8 14h0m9 1h0m1 3.5h0m5.5 0h0m-5 2h0m1.5 4h0"/><path id="d3_3" d="M975.5 1055h0m-1.5 2.5h0m3 3.5h0m2.5 0h0m-1 1.5h0"/><path id="d3_4" d="M975.5 1044.5h0m6.5 1h0m-3 4.5h0m10.5 2h0m-9.5 6h0m-6 5h0m2.5 3h0"/><path id="d3_5" d="M978.5 1041.5h0m-6 8h0m-5 3.5h0m9 3.5h0m3 -0.5h0m-4 2h0m2 2h0m7 3h0m-5.5 2.5h0"/><path id="d3_6" d="M967 1043h0m17.5 3h0m-5 1h0m-10 10h0m10 1h0m-5 1.5h0m9 3.5h0m4.5 5h0"/><path id="d3_7" d="M972 1043.5h0m1 2.5h0m13 10h0"/><path id="d3_8" d="M980.5 1043.5h0m-1.5 10h0m-8 3h0m0.5 5.5h0m5.5 2h0m11 2h0m-3 4h0"/><path id="d3_9" d="M975 1049h0m1.5 1h0m-2 1.5h0m3 0.5h0m-0.5 1.5h0m4 8h0"/><path id="d3_10" d="M985 1048h0m3 1h0m-7 3.5h0m-7.5 2h0m1 7h0m2 5h0"/><path id="d3_11" d="M974.5 1046h0m6.5 0.5h0m-13.5 3.5h0m1 1h0m13 -0.5h0m0.5 3h0m-0.5 16h0"/><path id="d4_0" d="M991 1013h0m-1.5 1.5h0m4.5 -0.5h0m5 2h0m-11 4.5h0m3 6h0m1.5 8h0m2 5h0m-10.5 1h0"/><path id="d4_1" d="M998.5 1008h0m-6 3.5h0m-3.5 3.5h0m7 3h0m-9.5 9h0m11 3.5h0m-12.5 6h0m10 1.5h0m-8 8h0"/><path id="d4_2" d="M996 1009.5h0m0.5 4h0m-11 1.5h0m8.5 1h0m-3 5.5h0m-8 3h0m1.5 3.5h0m10 0h0m1.5 1h0m-3 3h0m5.5 4.5h0m-7 4h0"/><path id="d4_3" d="M988.5 1016.5h0m7.5 4.5h0m-6.5 2h0m8.5 2.5h0m-16.5 0.5h0m1 7h0m11.5 0h0m-10.5 0.5h0"/><path id="d4_4" d="M1000.5 1007h0m-6.5 1.5h0m6 10.5h0m-3 2.5h0m-16.5 2.5h0m16.5 6h0m-11.5 7.5h0m10 2h0m-11 3.5h0m7.5 1h0"/><path id="d4_5" d="M988.5 1013h0m-2.5 3.5h0m12.5 2h0m-11.5 4.5h0m7.5 2h0m-4.5 7h0m12 -0.5h0m-17 2h0"/><path id="d4_6" d="M1000.5 1005.5h0m-5.5 5.5h0m-2 2.5h0m4.5 2h0m-5 4.5h0m4 5.5h0m0.5 1.5h0m-8 10.5h0m4 1h0m1 3.5h0m8.5 0.5h0m-6.5 4h0m6.5 -1h0m-9 1.5h0"/><path id="d4_7" d="M1002 1008h0m-17.5 13h0m8.5 4h0m-4 3.5h0m-8 0.5h0m20 1h0m1 8.5h0m-19.5 2h0m10 1.5h0m4.5 0h0m-6 2h0"/><path id="d4_8" d="M997 1015h0m4.5 2.5h0m-1 18h0m-2.5 6.5h0m-5.5 4h0m3 3h0"/><path id="d4_9" d="M999.5 1016.5h0m-8 1.5h0m2.5 1h0m-2.5 3h0m-1 7h0m12 0.5h0m-14 3h0m9 0.5h0m-2.5 1.5h0m0 1.5h0m3 4h0m-9 6.5h0"/><path id="d4_10" d="M1002 1009.5h0m-7 2.5h0m-12 4.5h0m9.5 0.5h0m1.5 3h0m-5 4h0m4.5 2h0m-3.5 4h0m4 1h0m-5 3.5h0m3.5 2h0m-5.5 6.5h0m4.5 -0.5h0m0 3h0m-9 2h0"/><path id="d4_11" d="M1000.5 1013h0m-8.5 2.5h0m-3 2.5h0m-6 0.5h0m11.5 4h0m-3.5 1h0m2 2.5h0m-0.5 2h0m-5.5 2h0m5 0h0m4.5 1.5h0m-5 3.5h0m-5 1h0m4 -0.5h0m5.5 1.5h0m3 1.5h0m-7.5 0.5h0m-1.5 1h0m-0.5 3.5h0"/><path id="d5_0" d="M996 1060h0m-9 1h0m6 2h0m-12 4.5h0m13 -0.5h0m-3.5 4h0m6.5 3.5h0"/><path id="d5_1" d="M997 1051.5h0m8 7.5h0m-7 3h0m-16 5.5h0m10.5 -0.5h0m2.5 8h0"/><path id="d5_2" d="M1001 1043.5h0m-7 2h0m-9 3.5h0m5 5h0m4 7.5h0m-9.5 1h0m7.5 -0.5h0m2 8.5h0"/><path id="d5_3" d="M992.5 1049.5h0m-1.5 0h0m7 2h0m-15.5 1h0m2 0h0m0 1h0m14 3.5h0m-14.5 1h0m5 6h0m9.5 0.5h0m-13.5 1.5h0m10.5 -0.5h0m-6.5 4.5h0m0 1.5h0"/><path id="d5_4" d="M993 1052h0m8 9h0m-8.5 5h0m5.5 0.5h0m-2.5 2h0m1.5 2h0"/><path id="d5_5" d="M998 1046.5h0m-12 7.5h0m16.5 5.5h0m-0.5 1h0m-9 12.5h0"/><path id="d5_6" d="M991 1063.5h0m-3.5 1.5h0"/><path id="d5_7" d="M994.5 1044h0m-8 5h0m2 2h0m6.5 0.5h0m3 2h0m-10.5 3.5h0m3.5 8h0m5 1h0m-6.5 7h0m10.5 1.5h0m-2 1.5h0"/><path id="d5_8" d="M1000 1051.5h0m1.5 -0.5h0m-8.5 3.5h0m2 1h0m-5.5 4.5h0m0.5 0.5h0m4 4h0m8.5 3.5h0m-12.5 1.5h0m2 2.5h0m9 1h0"/><path id="d5_9" d="M991.5 1055h0m-8 10h0m8 1.5h0m2 2h0m1.5 4h0"/><path id="d5_10" d="M996.5 1049.5h0m-7.5 3.5h0m12.5 1.5h0m-7 3h0m2 0.5h0m-10 2.5h0m4.5 0.5h0m3.5 7.5h0m-8.5 1.5h0"/><path id="d5_11" d="M993 1048h0m3 0h0m-1.5 5h0m-13 2.5h0m3.5 0.5h0m6.5 -0.5h0m-3.5 3h0m2.5 -0.5h0m-1.5 4h0m12 1.5h0m-14.5 4h0m-1 0.5h0m12.5 4.5h0m-2.5 0.5h0"/><path id="d6_0" d="M1010.5 999h0m5 0h0m-6 2h0m6.5 0h0m-14.5 4.5h0m-0.5 3.5h0m2 2h0m10.5 0h0m-0.5 3.5h0m-4 4h0m-11 2h0m14 7.5h0m-4.5 1.5h0m5.5 1.5h0m-12.5 2h0m-2 1h0m5.5 -0.5h0m8.5 0.5h0m-7 6.5h0"/><path id="d6_1" d="M1004.5 1005h0m3.5 6h0m-2.5 1h0m-3.5 2h0m7.5 1.5h0m-4.5 9h0m-3 1h0m12.5 1.5h0m-10.5 4h0m4 5.5h0m-3 4h0m1.5 3h0"/><path id="d6_2" d="M1016.5 997h0m-2.5 3.5h0m-1.5 4h0m-15.5 6h0m12.5 2h0m2.5 1.5h0m4 1h0m-15.5 8h0m11.5 1h0m-6 2h0m-6 1.5h0m2 3h0m2 8h0m-3 4h0m6.5 0h0m-3 2.5h0m-2 2.5h0"/><path id="d6_3" d="M1020 995h0m-14.5 11h0m-7.5 4.5h0m5.5 4.5h0m-0.5 3.5h0m7 16h0m-4 3h0m2 8.5h0"/><path id="d6_4" d="M1017 1005.5h0m-8.5 4h0m4.5 7h0m-4.5 4h0m6.5 1.5h0m-0.5 1h0m-4.5 5.5h0m7 4h0m-2.5 2h0"/><path id="d6_5" d="M1007.5 1001h0m-1 3h0m2 3h0m3 0.5h0m-6 2h0m-4.5 1.5h0m0.5 2.5h0m7.5 5h0m1.5 1.5h0m-12.5 2.5h0m8 1h0m-2 5h0m11.5 7.5h0m-3 2h0m-4 1h0"/><path id="d6_6" d="M1014 1020.5h0m-5.5 8h0m-11.5 10h0m17 0.5h0m-12 2h0m2.5 0.5h0m-2.5 3h0"/><path id="d6_7" d="M1008.5 1000h0m-3 5.5h0m-1 2.5h0m0 0h0m1.5 8.5h0m5.5 2h0m-11 7.5h0m7 0.5h0m-9.5 2.5h0m8 -0.5h0m3.5 2.5h0m-5.5 1h0m4.5 1h0m3 4h0m3 3.5h0m-9 2h0m10.5 0h0m-16 3.5h0"/><path id="d6_8" d="M1015.5 1007.5h0m-11 3h0m3 5.5h0m2.5 0.5h0m6.5 3h0m-9.5 1h0m10 1h0m-8.5 2h0m-6 1h0m3.5 0.5h0m-7 0.5h0m2 8.5h0m13.5 13h0"/><path id="d6_9" d="M1012.5 1000.5h0m-2 7h0m-1 1.5h0m-2 4.5h0m8.5 3.5h0m-14 3h0m2.5 1h0m5 4.5h0m3.5 5.5h0m-2.5 2h0m-9 1.5h0m13 7h0"/><path id="d6_10" d="M1014 999.5h0m-9.5 2.5h0m8 7h0m-14 3h0m6 7h0m7 1h0m-10 2.5h0m8.5 -0.5h0m-6 1h0m5 1h0m4 0.5h0m-8.5 1.5h0m2.5 4h0m9 4h0m-5 6h0m-12.5 4h0m6.5 -0.5h0m2.5 0.5h0m-9.5 4.5h0"/><path id="d6_11" d="M1010 1003.5h0m-4 6.5h0m5.5 3.5h0m-4 0.5h0m-3.5 2h0m10 16.5h0m-18 2.5h0m6.5 0.5h0m5 -0.5h0m-7.5 3.5h0m9 1h0m-8.5 1.5h0m10 0.5h0"/><path id="d7_0" d="M1014 1049.5h0m-10.5 1h0m3 0.5h0m1.5 2h0m-1.5 3h0m7.5 3.5h0m-9 4.5h0m9.5 0.5h0m1 2h0m-3.5 5h0m0 1h0m4.5 0.5h0m-13 5.5h0"/><path id="d7_1" d="M1012 1042.5h0m-1.5 6h0m5.5 1.5h0m-12 1.5h0m-5 3.5h0m15.5 0.5h0m-3.5 1h0m-12 3.5h0m10.5 2.5h0m-3.5 5h0m2.5 9h0m-1.5 1h0m8.5 2.5h0m-4.5 1h0m4 2h0"/><path id="d7_2" d="M1012.5 1048h0m-13 10h0m6.5 0h0m-1.5 3h0m9 8.5h0m-7.5 6h0m4 0h0"/><path id="d7_3" d="M1001.5 1050h0m9.5 0.5h0m-12.5 0h0m9 6h0m5.5 3h0m-3.5 2.5h0m-9 5.5h0m4.5 1h0m-4.5 0h0m5.5 0.5h0m3.5 1h0m-2 2.5h0m11 0.5h0m-15.5 2.5h0"/><path id="d7_4" d="M1009.5 1045.5h0m-3 1.5h0m2.5 0.5h0m-1.5 2.5h0m4 0.5h0m4 2h0m-10 1.5h0m6.5 23h0m-4 1h0m5 4.5h0m1.5 2.5h0"/><path id="d7_5" d="M1014 1046h0m-7.5 0.5h0m-6 2.5h0m11 4h0m-11.5 2.5h0m-1.5 8h0m3 2.5h0m8 -0.5h0m2 1h0m-10 5.5h0m2.5 4.5h0"/><path id="d7_6" d="M1009 1052.5h0m5.5 1h0m-11 0.5h0m9.5 4h0m1.5 4h0m-17.5 1h0m14.5 0h0m-3 2h0m-1 2h0m-5.5 2.5h0m12.5 1h0m-1 4h0m-2 0.5h0m4.5 2.5h0m-5.5 1.5h0"/><path id="d7_7" d="M1004 1047.5h0m-2 8h0m-5 0.5h0m10.5 6h0m4.5 7.5h0m-0.5 9h0m6 8h0"/><path id="d7_8" d="M997 1044h0m19 2h0m-11 9h0m1 4.5h0m1 2h0m1.5 2h0m6.5 5.5h0m-7 1h0m-2 4h0m-2 1h0m-3.5 2h0m1.5 1h0m4 0.5h0"/><path id="d7_9" d="M1018.5 1040.5h0m-19 7.5h0m11 3h0m3.5 0.5h0m-3 0.5h0m4 5h0m-10.5 0.5h0m-1 10.5h0m7 -0.5h0m-12.5 3h0m2 0h0m10 2h0m-2.5 2.5h0m3.5 5.5h0"/><path id="d7_10" d="M1012.5 1045.5h0m-6.5 4.5h0m-6 4.5h0m8.5 3h0m8.5 3h0m-21.5 8.5h0m21 2h0m-13 1h0m4 -0.5h0m10.5 4h0m-4 5.5h0"/><path id="d7_11" d="M1001 1060.5h0m8 -0.5h0m-8.5 5h0m4.5 0.5h0m2 0h0m4.5 1.5h0m-6.5 7h0m8.5 8h0m3 2h0"/><path id="d8_0" d="M1032 988h0m-6.5 4h0m-0.5 5.5h0m9 4h0m-20 1h0m7 1.5h0m2 0.5h0m-3 1.5h0m5.5 9.5h0m-4 3h0m-10 5h0m7 2.5h0m-3 0.5h0m6 1h0m9.5 1h0m1 12h0"/><path id="d8_1" d="M1023 993h0m-5.5 5h0m12.5 3h0m-10 2h0m-5.5 1.5h0m7.5 2h0m-10 3.5h0m11 1h0m-0.5 0.5h0m1 0.5h0m2 4h0m-1 1h0m7.5 6.5h0m-8.5 2.5h0m-2.5 3.5h0m-8.5 3.5h0m7 0.5h0m6.5 0.5h0m-6.5 3.5h0m5 0.5h0m5.5 0h0m-11 6h0"/><path id="d8_2" d="M1033.5 990.5h0m-5 1h0m-8 2.5h0m2.5 5h0m4.5 4.5h0m-11 8h0m2 0h0m1 1.5h0m10 -0.5h0m-9 10.5h0m0.5 6h0m8 2.5h0m-6 2h0m1 6h0"/><path id="d8_3" d="M1028.5 988.5h0m-10.5 6.5h0m14 12h0m-5 2h0m-9.5 3.5h0m9.5 6h0m-3 0.5h0m5.5 1.5h0m-13.5 4.5h0m12 0.5h0m-7.5 1.5h0m4 1h0m3 1h0m-11 2.5h0m10 4.5h0m-11 3.5h0m13 0h0"/><path id="d8_4" d="M1023.5 998h0m8 5h0m-6.5 9h0m-2 2.5h0m-11 2h0m3.5 3.5h0m9 5h0m-4.5 3h0m3.5 8h0m-1.5 0.5h0m6 1.5h0m-6.5 6h0m-1 2.5h0"/><path id="d8_5" d="M1020.5 1000h0m-1.5 4.5h0m12 9.5h0m-6.5 6.5h0m-2.5 1h0m3.5 6h0m0 5.5h0m-4.5 1.5h0m8 0.5h0m4.5 1h0m-12 5.5h0m-11.5 2.5h0m19 3.5h0"/><path id="d8_6" d="M1017.5 998.5h0m7 2h0m-7 2h0m11.5 5h0m-9.5 1.5h0m6.5 2h0m-6.5 5.5h0m5.5 2.5h0m-2 12h0m-6 2.5h0m7.5 11.5h0"/><path id="d8_7" d="M1019.5 1001h0m6.5 1h0m-10.5 1.5h0m15 1h0m-4 0.5h0m-2 2.5h0m-10 1h0m8.5 0h0m-5 11.5h0m7.5 4.5h0m-7.5 5.5h0m1.5 2h0m3 5.5h0m-2 3h0m-1 0.5h0m3.5 1.5h0m2.5 5h0"/><path id="d8_8" d="M1021 995h0m-9.5 3h0m10 0h0m-6 6.5h0m12.5 10h0m3.5 2h0m-13 3h0m8 3.5h0m-7.5 2h0m-1 4h0m-1.5 1.5h0m4 0h0m14 -1h0m-9 1.5h0m4 -0.5h0m-5 1.5h0m1 10.5h0"/><path id="d8_9" d="M1029 994.5h0m-7 5.5h0m-4.5 1h0m4 4h0m3.5 2.5h0m-11 5h0m8 0.5h0m-4 1.5h0m2.5 4h0m1 6h0m12.5 10h0m-15.5 8h0"/><path id="d8_10" d="M1028.5 992h0m3.5 1h0m-3 4.5h0m-2.5 2.5h0m-14.5 3h0m6 6.5h0m9 2.5h0m-8 3.5h0m9 1h0m2 2.5h0m-5 3h0m4.5 6.5h0m-7.5 4.5h0m-8.5 2.5h0m6.5 0.5h0m1.5 3.5h0"/><path id="d8_11" d="M1023.5 994.5h0m-3 2h0m7 5h0m-4 2.5h0m-13 1.5h0m7 1.5h0m-1.5 1.5h0m9 -0.5h0m3 12h0m-8.5 1h0m5 1h0m-3.5 1.5h0m-3 1.5h0m-6 2h0m1.5 2h0m14.5 5h0m-10 3h0m7 4h0"/><path id="d9_0" d="M1019.5 1051h0m5 5h0m6 1h0m-7.5 2h0m-11.5 3.5h0m8 1.5h0m-4 2h0m11 0h0m-2 1.5h0m1.5 4h0m-7 3.5h0m-8.5 2h0m14.5 0h0m8.5 0.5h0m-2.5 3.5h0m-4 1h0m-6.5 3h0"/><path id="d9_1" d="M1015 1044.5h0m3 6.5h0m7.5 3h0m-3 2h0m0.5 6h0m2 0.5h0m-11 0.5h0m11 16h0m-1 0.5h0m0.5 7h0m-4.5 1h0m7 5h0"/><path id="d9_2" d="M1027.5 1045.5h0m-4 2.5h0m-1.5 0.5h0m-1.5 9.5h0m-0.5 2.5h0m-4.5 3h0m3.5 6h0m10.5 4h0m-11 5h0m14.5 0.5h0m-17.5 2h0m3.5 2.5h0m9.5 0.5h0m-2.5 3.5h0"/><path id="d9_3" d="M1019.5 1047h0m6.5 3h0m-9 4.5h0m15 0h0m-4 1.5h0m-0.5 1.5h0m-11 5h0m1 1.5h0m8 2h0m-1.5 4.5h0m-2.5 3.5h0m2 1.5h0m2 10h0"/><path id="d9_4" d="M1018.5 1047.5h0m-7.5 5.5h0m8.5 0.5h0m3.5 -1h0m-6.5 6.5h0m4.5 1h0m11 2.5h0m-13.5 6h0m1 10h0m9 3.5h0m-0.5 0.5h0m-6 1.5h0m2 0h0m2 6.5h0m2.5 0.5h0m3 4.5h0"/><path id="d9_5" d="M1012.5 1044h0m4.5 6.5h0m9.5 8h0m1.5 1h0m-2.5 4.5h0m-8.5 2h0m3.5 1.5h0m1.5 3.5h0m3 2h0m3 2.5h0m-1.5 10.5h0m-0.5 8.5h0m1 0.5h0"/><path id="d9_6" d="M1027 1053.5h0m3 5.5h0m-7 4.5h0m-1.5 1.5h0m1.5 0.5h0m4.5 4.5h0m-4 3.5h0m-10.5 4h0m10.5 0.5h0m-2.5 2.5h0m7 3.5h0"/><path id="d9_7" d="M1024.5 1046.5h0m2 1.5h0m-5 1h0m3.5 2h0m-4 2h0m-5.5 1.5h0m1.5 1h0m2.5 0.5h0m3.5 1.5h0m-3.5 3h0m2.5 9h0m-4.5 1.5h0m-0.5 4.5h0m5.5 1.5h0m6.5 -0.5h0m2.5 2.5h0m-7.5 3h0"/><path id="d9_8" d="M1016 1044.5h0m4.5 4.5h0m7.5 2.5h0m-5 2h0m-4.5 4h0m4 0h0m-5 4h0m11.5 2.5h0m-5.5 4.5h0m3.5 5h0m4 0h0m-4 3.5h0m-6 6.5h0"/><path id="d9_9" d="M1026 1044.5h0m-10 4h0m6 4h0m-6 2.5h0m-0.5 3.5h0m-0.5 9h0m10.5 0.5h0m-5 2.5h0m13 2h0m-13.5 4h0m1.5 14h0m3.5 1.5h0"/><path id="d9_10" d="M1018.5 1044.5h0m6 6h0m0.5 7.5h0m2 6.5h0m1 3h0m1.5 1h0m-8.5 7h0m-7.5 2.5h0m8 1.5h0m-2.5 1h0m6 1h0m1 0.5h0m-7.5 1h0m12 -0.5h0m-1.5 3.5h0m-3.5 2.5h0m4.5 0.5h0m1 3h0"/><path id="d9_11" d="M1032 1047.5h0m-2.5 2h0m0 4h0m-17.5 2.5h0m13 -0.5h0m-4 6h0m13 2.5h0m-13.5 1h0m-3.5 3h0m2 6h0m2.5 15h0m2 0h0"/><path id="d10_0" d="M1045 981h0m-18.5 14h0m7.5 1h0m5 1h0m2 3.5h0m-8.5 4.5h0m9 0.5h0m1 2.5h0m-11 2h0m-2.5 15h0m1.5 1.5h0m10.5 0h0m-14 4.5h0m11 2h0m9 7h0m-3.5 3h0m-8 1.5h0"/><path id="d10_1" d="M1040 982.5h0m-2.5 2.5h0m1 0.5h0m0.5 5.5h0m9 1.5h0m-19.5 0.5h0m3.5 1.5h0m17 1h0m-14 3h0m3 0.5h0m4 5h0m-11.5 6.5h0m1 1h0m3.5 3.5h0m13 4.5h0m-14 3.5h0m2 -0.5h0m5.5 5h0m-4.5 6.5h0m5 0h0m0.5 -0.5h0m-12.5 2h0m6.5 0.5h0m1.5 0.5h0m-12 1.5h0"/><path id="d10_2" d="M1042 983.5h0m-11.5 6.5h0m7.5 0h0m3.5 4h0m3 0.5h0m-2 5h0m-6 3.5h0m-1 2h0m2 0.5h0m6.5 1h0m-5.5 2.5h0m-4 10.5h0m3.5 1h0m-9 2.5h0m7 2h0m-4.5 2h0m0.5 2.5h0m1 0.5h0m8.5 -0.5h0m3 1.5h0m-9.5 2h0m1 6h0m3 0h0m-1.5 1.5h0m-7.5 5.5h0"/><path id="d10_3" d="M1032 989h0m9 1h0m-9 1h0m10.5 0h0m-3.5 3.5h0m-6.5 13h0m2 0.5h0m4 5.5h0m2 0h0m-3.5 1h0m-5.5 3.5h0m8 1.5h0m-2 4.5h0m6 0h0m5.5 5h0m-9.5 18h0"/><path id="d10_4" d="M1036 989.5h0m6.5 0h0m-1.5 1h0m-5 2h0m-2.5 1.5h0m7.5 1.5h0m4.5 16.5h0m-16 5h0m3.5 3h0m10 2.5h0m-6 4.5h0m-11 2h0m13.5 4h0m-3 4.5h0m3 -1h0m-6 10.5h0m14 0h0"/><path id="d10_5" d="M1043.5 983.5h0m-2 1.5h0m-11.5 2.5h0m5 0.5h0m11.5 8.5h0m-6 2.5h0m-11 6h0m-2.5 0.5h0m11 1.5h0m10.5 1.5h0m-9 2.5h0m-6 1.5h0m4.5 3.5h0m0 12.5h0m5.5 3.5h0m-7.5 3h0m5 2.5h0m-2 4.5h0"/><path id="d10_6" d="M1039 993h0m-3 4.5h0m-8.5 0.5h0m3 1.5h0m7.5 2.5h0m7 3h0m-9.5 8.5h0m4 1h0m-3.5 5h0m4.5 0.5h0m-7.5 4.5h0m3 4.5h0m4 -0.5h0m-8 3h0m2 1h0m9 4h0m-11 5.5h0m15.5 0h0m-6.5 5h0"/><path id="d10_7" d="M1044 980.5h0m-0.5 1.5h0m3.5 2h0m-13.5 1h0m2 -0.5h0m7 3h0m3.5 1.5h0m-14.5 8h0m3 6.5h0m-7 3h0m13 0h0m0.5 3h0m4 -1h0m-11.5 6h0m9.5 3.5h0m-6 4.5h0m3.5 0.5h0m7 10h0m-15 3.5h0m10.5 8h0m-7 1h0m4 2.5h0"/><path id="d10_8" d="M1039.5 989h0m-1.5 8.5h0m-7 2.5h0m13 0.5h0m-14 2h0m9.5 1h0m-3.5 5h0m1 3h0m-5.5 8.5h0m2 6.5h0m7.5 9h0m-7 2.5h0m-5.5 2.5h0m4.5 -1h0m8 1h0m-3 7.5h0"/><path id="d10_9" d="M1045 983.5h0m-10.5 3.5h0m2 0.5h0m3.5 0.5h0m-3.5 6.5h0m-2.5 2h0m5.5 3.5h0m-7 3h0m0.5 5h0m-3.5 0.5h0m6.5 2h0m6.5 1h0m-1 6h0m-2.5 12h0m0.5 5.5h0m-8 3h0"/><path id="d10_10" d="M1045 988h0m-9.5 3.5h0m-9.5 2h0m17 1h0m-3 11h0m8 2h0m-11 1.5h0m-9.5 1h0m18.5 0h0m-12 1.5h0m-4 3h0m6 1.5h0m-5 8h0m7.5 2.5h0m-5 1.5h0m4 1.5h0m-6.5 5h0m5 5.5h0m-9 1.5h0m6.5 3h0m-6 0h0"/><path id="d10_11" d="M1043 985h0m-2 2h0m-7 2h0m3 2h0m3.5 6.5h0m-13.5 2.5h0m12.5 1.5h0m-4 0h0m3 5.5h0m1.5 9.5h0m-2 2.5h0m0.5 1.5h0m0 2h0m3 1.5h0m-14 1h0m18 1.5h0m0.5 1.5h0m-3 2.5h0m-2.5 1.5h0m7.5 7h0m-8.5 0.5h0m-5.5 2h0"/><path id="d11_0" d="M1049 1042.5h0m-13.5 8h0m7 3h0m-10 2h0m7.5 -0.5h0m-3 7h0m-3 3h0m-3 2h0m9.5 3h0m0 6h0m-1 1h0m-6 3h0m7.5 1h0m3.5 1.5h0m-11 2.5h0m1 0.5h0m4 3.5h0m7.5 0.5h0m-11.5 3h0m-5.5 2h0m3.5 1.5h0m14 8h0"/><path id="d11_1" d="M1037 1042.5h0m2 9.5h0m3 3h0m6.5 1h0m-2 5h0m-15 3h0m7.5 1h0m-9.5 1h0m-0.5 5h0m9 0h0m1.5 5h0m-10 3h0m8 2h0m5 6.5h0m-14 2h0m4.5 2h0m4.5 3.5h0m0.5 3h0m-3.5 1h0m9 5h0"/><path id="d11_2" d="M1037 1052h0m-2 5.5h0m6.5 2.5h0m-0.5 1.5h0m-9 14h0m2 0h0m-7 4h0m17 14.5h0m-4 1.5h0"/><path id="d11_3" d="M1042 1043.5h0m-11 3h0m10.5 3h0m4.5 2h0m-6.5 6h0m-1 2.5h0m0 7h0m-7.5 1.5h0m12.5 -0.5h0m-8.5 5.5h0m8.5 5h0m-11.5 5h0m9 0.5h0m-5.5 2.5h0"/><path id="d11_4" d="M1032 1043.5h0m9.5 -0.5h0m-6.5 5h0m0.5 3h0m2.5 6.5h0m6.5 4.5h0m-8.5 4.5h0m8.5 1h0m-8.5 4h0m-6 4h0m6 0h0m-5 9h0"/><path id="d11_5" d="M1030.5 1041.5h0m12.5 8h0m-12 0h0m5 4h0m6 0.5h0m-8.5 5.5h0m5 3h0m-4 5.5h0m7 3h0m-8.5 1h0m7.5 0.5h0m-15 2h0m16.5 3h0m-1.5 2.5h0m-2 5h0m7 0h0m-10.5 8h0m3 0.5h0m-4.5 3.5h0"/><path id="d11_6" d="M1037 1045h0m5.5 1h0m-14.5 3.5h0m5.5 3h0m6 0.5h0m8 0.5h0m-11.5 6.5h0m-7.5 2.5h0m18 2h0m-7.5 14.5h0m0.5 1h0m1 9h0m-8.5 1h0m7.5 2h0m-1.5 4.5h0m-2 2h0m11.5 2h0m-4 2h0"/><path id="d11_7" d="M1033 1049.5h0m5 -0.5h0m-2 7.5h0m0 4.5h0m2 2.5h0m3 2.5h0m-13.5 4.5h0m10.5 7h0m-4 5.5h0m-4 8h0m9.5 9h0"/><path id="d11_8" d="M1037 1043.5h0m2 0.5h0m-6 3.5h0m16 10h0m-16 4.5h0m2.5 1.5h0m1 2h0m8 -0.5h0m-6.5 2.5h0m-4 2.5h0m9 -0.5h0m-5.5 5h0m-6.5 3h0m13.5 3.5h0m-10.5 8.5h0m-1 5.5h0m13.5 0h0m1 2.5h0m-2 0.5h0m-9 1.5h0"/><path id="d11_9" d="M1029.5 1044h0m10 6h0m2 1h0m-8 3h0m10 1h0m-14 1h0m5.5 9.5h0m6.5 1.5h0m-5.5 2h0m2 10.5h0m5 1.5h0m-3 5.5h0m1 1h0m-4.5 1.5h0m13 4h0m-14 2.5h0m0 1h0m2 4.5h0m8 2.5h0"/><path id="d11_10" d="M1030 1052h0m15.5 1h0m-11.5 5h0m-3 1h0m6.5 0h0m5.5 1h0m-12 4.5h0m-1 2.5h0m7 3h0m2.5 -0.5h0m0 1.5h0m-2.5 1.5h0m2 1.5h0m5.5 2h0m-10 1h0m1.5 1.5h0m1.5 7.5h0m-6 0.5h0m4 1.5h0m2.5 2.5h0m-2 0.5h0m10.5 2.5h0"/><path id="d11_11" d="M1045.5 1049.5h0m-14.5 2h0m12.5 0h0m-6.5 2.5h0m-0.5 1h0m7.5 6h0m-12.5 10.5h0m6 11.5h0m2.5 0h0m-5.5 0.5h0m-2.5 5h0m11.5 0h0m2.5 2.5h0m-5 1.5h0m-1.5 6h0m2.5 4h0"/><path id="d12_0" d="M1058.5 977h0m-7.5 2h0m-5.5 1.5h0m16 1.5h0m-4 1h0m-5.5 6h0m-8 3.5h0m12.5 0h0m-11 1h0m10 0.5h0m2 4h0m-12 3h0m7.5 -0.5h0m-1 3h0m3.5 5.5h0m5.5 0.5h0m-13 5.5h0m0 4h0m6.5 6.5h0m2 5h0m-4 3h0m-3 6.5h0"/><path id="d12_1" d="M1057.5 988h0m-8.5 2h0m13 -0.5h0m-17 2h0m4.5 0h0m2.5 3h0m-2.5 6h0m5.5 6h0m-8 1.5h0m2.5 5.5h0m-4 2h0m4 -1h0m6.5 0.5h0m-11 2.5h0m17.5 1h0m-6.5 2h0m-8 5h0m-5.5 1.5h0m5.5 9h0m5.5 5.5h0m10 0h0m-16 7h0"/><path id="d12_2" d="M1049.5 981.5h0m9.5 2h0m-12.5 2h0m0 1.5h0m0 1.5h0m10 1h0m-3.5 5h0m10.5 2h0m-5.5 2.5h0m1.5 7h0m-5.5 4.5h0m-3.5 1h0m2.5 1.5h0m-10 2.5h0m4 2h0m1.5 4.5h0m-4 1h0m6.5 1h0m0.5 2.5h0m-5 4h0m6 0.5h0m4 1.5h0m-5 3.5h0m-8 11.5h0"/><path id="d12_3" d="M1053.5 978.5h0m-2.5 4.5h0m-2 1.5h0m-4 0h0m2.5 6.5h0m5 0h0m-4.5 5h0m5 1.5h0m3 5.5h0m-6.5 3.5h0m3 2h0m-6 5h0m3.5 0.5h0m2.5 10.5h0m-0.5 9.5h0m11 4h0m-4 2.5h0m-6.5 0h0m-7.5 2h0m12.5 3.5h0"/><path id="d12_4" d="M1050.5 985h0m9 8.5h0m-2.5 2h0m-6 6h0m2 1h0m-10 2.5h0m11.5 7h0m-1.5 8.5h0m-8.5 4.5h0m15.5 1.5h0m-9 3h0m-2 0.5h0m6 1h0m0.5 0.5h0m-2.5 4.5h0m5 0.5h0m-8 11h0"/><path id="d12_5" d="M1055 985h0m-3.5 3h0m-1 4.5h0m3.5 2h0m5.5 2h0m-14 2h0m4 1.5h0m6 0.5h0m-8 2h0m1 2h0m-1 1.5h0m4 -0.5h0m7.5 1.5h0m-12 4.5h0m13.5 -0.5h0m1 2h0m-8 6.5h0m7 12h0m-3.5 6.5h0"/><path id="d12_6" d="M1058 979h0m-10 3h0m1 3h0m7 7h0m4 1h0m-8.5 4.5h0m9.5 0.5h0m-1 4h0m-11 2h0m4 1.5h0m-2 2h0m7.5 1h0m-5 2.5h0m-2 1.5h0m-8.5 1h0m11 3h0m-13.5 2h0m16.5 3.5h0m-3.5 1h0m0 2.5h0m5 1h0m-7 2.5h0m-7.5 10.5h0"/><path id="d12_7" d="M1054 979h0m-3.5 2.5h0m2 5h0m-3.5 11h0m4.5 2.5h0m2 3h0m4.5 0h0m-17.5 1h0m14 0.5h0m-2.5 0.5h0m-0.5 1.5h0m-8.5 1.5h0m8 6.5h0m-2.5 5.5h0m-5.5 1h0m10.5 0h0m1 2.5h0m-1 4.5h0m9 3h0m-14 0.5h0m-5 2.5h0m3 0.5h0m0 1.5h0m6 1.5h0m1 3h0m-1 1.5h0m-2.5 2.5h0m-3.5 2.5h0"/><path id="d12_8" d="M1052.5 985.5h0m4.5 0.5h0m-5.5 3h0m-0.5 1.5h0m10 14h0m-9.5 4h0m9.5 10.5h0m-14.5 3h0m17 0h0m-7 6h0m-7 4.5h0m-1.5 2.5h0m-2 2h0m7.5 1h0m5.5 0.5h0"/><path id="d12_9" d="M1059.5 976h0m-5.5 1.5h0m2.5 0.5h0m0 2h0m5.5 4.5h0m-1 1.5h0m-6.5 1.5h0m5 1.5h0m-5 1h0m-1 3h0m-2 6h0m8 4.5h0m-4.5 11h0m-11.5 2h0m2 2h0m9.5 -0.5h0m0.5 5h0m4.5 2h0m-10 1.5h0m-2 1.5h0m12.5 0h0m-8.5 1h0m-7.5 9.5h0m-1 0.5h0m1 0.5h0m11.5 4h0m-4.5 2.5h0"/><path id="d12_10" d="M1053.5 982.5h0m3.5 -0.5h0m-0.5 9.5h0m-13 5.5h0m4 2h0m1.5 12h0m-0.5 5.5h0m2 2.5h0m-1.5 6h0m-1.5 1h0m-3.5 2.5h0m9 4h0m8 7h0m-5.5 7h0"/><path id="d12_11" d="M1053 980h0m-0.5 3h0m2.5 0.5h0m10 0h0m-20 13h0m12.5 2h0m-12 5h0m6 13h0m5 2h0m4.5 1.5h0m-15 12.5h0m9 3h0m-3.5 2.5h0m-2.5 1h0m-4.5 5.5h0"/><path id="d13_0" d="M1048 1049.5h0m16.5 4.5h0m-16.5 2.5h0m-5 7h0m12 -1h0m0 3.5h0m-3.5 6h0m-3.5 7h0m7 2.5h0m1 0h0m3.5 6h0m1 4h0m-9 2.5h0m9 5.5h0m-15 5h0"/><path id="d13_1" d="M1062.5 1053h0m-13 6h0m1 0h0m2.5 2.5h0m8.5 5.5h0m-11.5 2h0m-1 4h0m4 3.5h0m2 1h0m-14 5.5h0m10 2.5h0m13 3h0m-20.5 2.5h0m21 10h0m-14 3.5h0m0.5 1h0m1.5 0.5h0"/><path id="d13_2" d="M1059 1044h0m-9 7.5h0m5 5h0m2 0h0m0.5 1h0m-13.5 8h0m6 2.5h0m0.5 2h0m-3.5 0.5h0m14 4.5h0m-16.5 2h0m6 0.5h0m-1.5 1h0m9 2.5h0m-8.5 6h0m2 0h0m1 1h0m-7 0.5h0m1 2h0m12.5 3h0m-5 1.5h0m2 2h0m2.5 0h0m-11 1h0m9 3.5h0m-5.5 1.5h0m-2.5 2h0"/><path id="d13_3" d="M1050.5 1042h0m2 8h0m2.5 1.5h0m-1 2.5h0m-3.5 2h0m6.5 4h0m-8.5 7h0m9 2h0m-8.5 7h0m3.5 0h0m-4 1h0m12.5 4h0m-10.5 0.5h0m10 2.5h0m-13.5 1h0m5.5 7.5h0m11.5 -0.5h0m-13 1.5h0m3.5 2h0m-13.5 3h0m9.5 -0.5h0"/><path id="d13_4" d="M1053.5 1045h0m5 0.5h0m-5 10.5h0m-0.5 1.5h0m5.5 3.5h0m-7 1h0m-9.5 1h0m12 0.5h0m-7.5 3.5h0m-1.5 4.5h0m-2.5 2.5h0m4 7.5h0m6 -0.5h0m-10 4.5h0m3.5 1.5h0m8 0.5h0m-11 5.5h0m8.5 3h0m3.5 9h0"/><path id="d13_5" d="M1054.5 1049h0m-9.5 3.5h0m8 -0.5h0m8.5 2.5h0m-6.5 6.5h0m-9 8h0m2 4h0m-1.5 3h0m9.5 6.5h0m0 0.5h0m-1 2.5h0m-1 6h0m2.5 1h0m-2 3.5h0m6.5 0.5h0m-7.5 1.5h0m1 2.5h0m3.5 -1h0m-11 2.5h0m7.5 4h0"/><path id="d13_6" d="M1050.5 1047h0m10 10.5h0m3 0.5h0m-15.5 2h0m1 5.5h0m0 6h0m-6 4.5h0m15.5 3h0m-6 3.5h0m7.5 4.5h0m-8.5 2h0m3.5 0.5h0m-4 2h0m4 1.5h0m1.5 5.5h0m-3 2h0m-3 0h0m2.5 7.5h0"/><path id="d13_7" d="M1061 1043h0m-11.5 6.5h0m11 0.5h0m-11.5 3h0m-3.5 3h0m10 2h0m0 1.5h0m-10 1h0m3 3.5h0m10.5 0h0m-1 2h0m-4.5 3h0m-6 1h0m2.5 2.5h0m6 6.5h0m-2 0.5h0m5 2.5h0m-18.5 8.5h0m2 8.5h0m7 1.5h0"/><path id="d13_8" d="M1057 1067.5h0m-3 4h0m1 0h0m-3.5 7.5h0m-9 4.5h0m14 3.5h0m0 4h0m-1.5 0.5h0m-6.5 8h0m-5.5 1h0m3 -1h0"/><path id="d13_9" d="M1055 1044.5h0m-1 4h0m-5 4h0m3.5 1h0m6 -0.5h0m-11 10.5h0m6 4h0m9 7.5h0m-15 2h0m-4 0.5h0m6 5h0m13 6h0m-14 6h0m-6.5 2h0m18 4h0m-7.5 2h0m2.5 0.5h0"/><path id="d13_10" d="M1052 1048h0m6 2.5h0m1.5 0.5h0m2 1h0m-11.5 2h0m6 -0.5h0m-3 6.5h0m-3 1h0m0 2h0m0.5 1.5h0m2.5 0.5h0m3 6h0m-11.5 2.5h0m13 1h0m-2.5 1.5h0m2 1.5h0m-8.5 3h0m-1.5 2h0m6.5 2.5h0m1 1.5h0m-6.5 1h0m0.5 1.5h0m12.5 5.5h0m-6.5 5h0m4.5 4h0m-2.5 1.5h0"/><path id="d13_11" d="M1056 1040.5h0m-11 7.5h0m2 10h0m-1.5 0.5h0m9 11h0m6 3h0m-8 1h0m3 -0.5h0m-4.5 1.5h0m4 4.5h0m-4.5 4.5h0m-1 1.5h0m-0.5 6.5h0m-5.5 4.5h0m6 1h0m3.5 0.5h0m5.5 4h0"/><path id="d14_0" d="M1067 977.5h0m1.5 3h0m4.5 -0.5h0m-13.5 2h0m-0.5 3h0m6 0h0m2 5h0m6 -0.5h0m-13.5 2h0m4.5 5h0m8.5 0h0m2 3h0m-4.5 2h0m2 3.5h0m-8 8.5h0m6.5 4h0m6 1.5h0m-14.5 6.5h0m4.5 -1h0m4 3h0m-6.5 4h0m0 5h0m4 3h0"/><path id="d14_1" d="M1061 979h0m3.5 1.5h0m12 1h0m-13.5 4h0m4.5 0h0m7.5 2.5h0m-5 0.5h0m-5.5 4.5h0m5.5 2h0m-1 4.5h0m-3.5 2h0m-2 1h0m3 0h0m2 5.5h0m-2.5 1.5h0m-4 5.5h0m4 1h0m-6 6h0m-1 0.5h0m10.5 0.5h0m-2.5 5.5h0m-1 1.5h0m5 3.5h0m2 5h0m0 4.5h0m-0.5 3.5h0"/><path id="d14_2" d="M1061 982.5h0m2.5 9.5h0m9.5 0h0m0.5 0h0m-4 3.5h0m-5 3h0m8.5 1.5h0m-13.5 1.5h0m17 6.5h0m-20 4.5h0m9 6h0m3 9h0m1 5.5h0m-10 2h0m7 1.5h0m2 0.5h0m2 1h0m-8.5 1.5h0m3.5 6h0"/><path id="d14_3" d="M1060.5 978.5h0m6 1h0m1.5 7.5h0m-7.5 7.5h0m14.5 3.5h0m-13 3.5h0m10.5 0h0m-8.5 3.5h0m3.5 3h0m1.5 2h0m-11 4.5h0m3 2h0m11 5.5h0m-2 1h0m2 4h0m-13 4h0m9.5 3h0m-8.5 4.5h0m4 -0.5h0m5.5 1h0"/><path id="d14_4" d="M1062.5 979h0m2 3.5h0m1.5 1h0m-6 8h0m11 -1h0m-4 3h0m-5 0.5h0m-2 4.5h0m16 -0.5h0m-1 2.5h0m-5 3h0m0.5 2.5h0m4 2h0m-4 0.5h0m1.5 3.5h0m-13 4.5h0m14.5 7h0m-8.5 2.5h0m3 3h0m-6 4h0"/><path id="d14_5" d="M1077 979.5h0m-14 7h0m4 2h0m1 0.5h0m-3.5 14h0m-2 4h0m10 0.5h0m-8 3.5h0m-2.5 1.5h0m-3 0.5h0m3 4h0m10 1h0m-7 4.5h0m11 5.5h0m-4.5 5h0m3 7h0m-18 3h0"/><path id="d14_6" d="M1070 978.5h0m0.5 2h0m0 1.5h0m8 5.5h0m-10 4.5h0m-2.5 6.5h0m-10 8.5h0m9.5 0.5h0m6.5 3.5h0m2 1.5h0m-17 3.5h0m12 3.5h0m-5.5 8.5h0m9.5 -0.5h0m-6.5 4h0m9.5 5h0m-4.5 4.5h0m-2.5 3.5h0"/><path id="d14_7" d="M1067.5 981h0m5.5 4h0m-8.5 4.5h0m11.5 1.5h0m-17 5h0m10.5 2.5h0m6.5 2.5h0m-14 4h0m15 5h0m-20 1h0m16 3h0m2.5 1h0m-17 5h0m4.5 1.5h0m4.5 0.5h0m-2 3.5h0m-7 3h0m4 1.5h0m-5 5h0m2.5 -0.5h0m11 1h0m1.5 -0.5h0m-7 5h0m-7 2.5h0m7.5 0.5h0m-6 0.5h0m11.5 1h0"/><path id="d14_8" d="M1063.5 977.5h0m0 4.5h0m6.5 1.5h0m2 -0.5h0m6 0h0m-11 9h0m-4.5 7.5h0m3.5 1h0m6.5 3h0m-5 6.5h0m-5 1.5h0m6.5 2h0m7 4h0m-8 6.5h0m-3.5 5h0m-7 6.5h0m7 -0.5h0m9.5 -0.5h0m-10 6h0"/><path id="d14_9" d="M1074.5 983h0m-3.5 3h0m-6.5 9h0m2.5 -0.5h0m-4.5 1h0m5 9.5h0m-6 1.5h0m17 3h0m-18 5h0m4 0.5h0m4.5 0.5h0m4 1h0m-14 2h0m12.5 6.5h0m0.5 5h0m2 0.5h0m1 2.5h0m0.5 9h0"/><path id="d14_10" d="M1068.5 977.5h0m-2 3.5h0m-1 5.5h0m-4 1.5h0m4 3h0m2.5 2.5h0m5 -0.5h0m-2.5 0.5h0m-2.5 3h0m-12.5 2h0m22.5 1.5h0m-10 1.5h0m6 1h0m-5.5 2h0m0 3h0m-5.5 1.5h0m2 0.5h0m10 4.5h0m-5.5 1h0m1 4h0m-4 2.5h0m5.5 17.5h0"/><path id="d14_11" d="M1068.5 985.5h0m-1 12h0m3 0.5h0m-3 4h0m3.5 10.5h0m-5 2.5h0m6 6h0m2 4h0m-5.5 5.5h0m-2 3.5h0m-5.5 1.5h0m12 0h0m-6.5 2.5h0m8 8h0m-8 1h0m4 0.5h0"/><path id="d15_0" d="M1074 1043.5h0m-2.5 0.5h0m1.5 7h0m-4.5 2h0m-4.5 6.5h0m2.5 1h0m6 7h0m-8 1.5h0m5 6h0m0 3h0m1.5 0.5h0m-7 3h0m9.5 -0.5h0m-6.5 10h0m4 2.5h0m-3 1.5h0m2.5 0.5h0"/><path id="d15_1" d="M1066.5 1054.5h0m8.5 3.5h0m0.5 3.5h0m-18.5 2h0m-1 2.5h0m11 0h0m-0.5 5h0m-1.5 4.5h0m5 7h0m-3 1.5h0m-1.5 1h0m9.5 4.5h0m-15.5 2h0m-1.5 2.5h0m4.5 1h0m0 7.5h0"/><path id="d15_2" d="M1067 1046h0m3.5 4h0m2.5 5h0m-2.5 1h0m-13 4.5h0m13 4.5h0m1.5 15.5h0m-5 0.5h0m11 0.5h0m-10 5h0m-10 3h0m8 8h0m-6 4.5h0"/><path id="d15_3" d="M1068 1048h0m-4 4h0m-1 0.5h0m5.5 2.5h0m2.5 8h0m-6 1h0m-0.5 1.5h0m0 2h0m6 0h0m-4 6.5h0m5.5 3.5h0m-5.5 1h0m4.5 6h0m4.5 0.5h0m-2 1h0m-11 1h0m3.5 1h0"/><path id="d15_4" d="M1061.5 1045h0m-5.5 4h0m12 0h0m-7.5 6.5h0m2 5.5h0m14 6.5h0m-14 3h0m-3 1h0m2.5 10h0m9.5 1h0m-14.5 3h0m2.5 -0.5h0m6.5 1.5h0m7 1.5h0m-9.5 8.5h0m1 0h0m-0.5 3h0"/><path id="d15_5" d="M1065.5 1044h0m-8.5 4.5h0m11.5 3.5h0m3.5 7h0m-7.5 1.5h0m1.5 1.5h0m-2 10.5h0m1 4h0m-3.5 3h0m4.5 4h0m1.5 0.5h0m-6.5 8.5h0m11.5 0h0m-3.5 3.5h0m-6.5 3h0m3.5 1h0"/><path id="d15_6" d="M1062 1043.5h0m6.5 2.5h0m-4.5 1.5h0m1 10h0m1.5 1h0m4.5 1h0m3.5 0h0m-8 4h0m7 -0.5h0m-5 1.5h0m7 1.5h0m-7 1h0m3.5 5.5h0m-5.5 3h0m8 2.5h0m-4 18.5h0"/><path id="d15_7" d="M1064.5 1050h0m-5.5 18h0m7 1h0m8.5 2.5h0m-16 2h0m9.5 7h0m4.5 4h0m-7.5 3h0m1 5h0"/><path id="d15_8" d="M1066.5 1041.5h0m-1.5 1h0m-7 5.5h0m4.5 2.5h0m13.5 2h0m-2.5 1h0m-10 6h0m-3 0h0m10 1.5h0m-1.5 1h0m-7.5 3h0m9.5 3.5h0m-3 3h0m5 -1h0m-3 1.5h0m-3 4.5h0m-2 3h0m7 0h0m-3.5 3.5h0m-12.5 5h0"/><path id="d15_9" d="M1070 1043h0m-0.5 3h0m-3.5 6.5h0m-7.5 3h0m7.5 0h0m-8 4.5h0m5 6h0m-1 0.5h0m4.5 1.5h0m3 2h0m-13 3.5h0m1.5 2h0m17 -1h0m-6 1.5h0m-6.5 1h0m6 2.5h0m10.5 -0.5h0m-19 5.5h0m19 1h0m-10.5 2.5h0m-6 2.5h0m7.5 1h0m-3 4h0"/><path id="d15_10" d="M1069 1042.5h0m-5.5 4h0m9 1h0m2.5 2.5h0m-12.5 6h0m7.5 1h0m-2 1.5h0m5 6.5h0m2.5 4.5h0m-11 1h0m11.5 1h0m-16.5 5h0m1 0h0m14.5 5.5h0m-10.5 8.5h0m1 3.5h0m-2 6.5h0"/><path id="d15_11" d="M1062 1048.5h0m9 3h0m-7 3.5h0m8.5 6h0m-12.5 1h0m3 1.5h0m5 0.5h0m-12.5 3.5h0m3 1.5h0m9.5 4h0m-5 0.5h0m12 3.5h0m-11 6h0m10.5 3h0m-4.5 2h0m-9 0.5h0m14.5 3h0m-6 1h0"/><path id="d16_0" d="M1080.5 984h0m9 -0.5h0m-4 9.5h0m-8.5 1.5h0m5 0h0m-8.5 1h0m11.5 0.5h0m3 7h0m-6 2h0m-2.5 2.5h0m6 7h0m-10 2h0m3.5 4.5h0m7 1.5h0m-5 3h0m-6.5 2.5h0m11 18.5h0"/><path id="d16_1" d="M1086 981.5h0m-5.5 0h0m-3 8.5h0m0.5 11.5h0m-1.5 1.5h0m16.5 13.5h0m-19.5 10.5h0m9.5 8h0m1 -0.5h0m-5.5 3h0m-0.5 5.5h0m3 1h0"/><path id="d16_2" d="M1073.5 979.5h0m8 2h0m-4.5 2h0m2 3h0m9.5 0.5h0m-4 1h0m2 7h0m-9 8h0m0 3.5h0m8.5 0.5h0m-13.5 1.5h0m12.5 0h0m0.5 0.5h0m-3 2h0m1 5h0m-0.5 6.5h0m0.5 5h0m5 1h0m0 7h0m2 1h0m-8 2.5h0"/><path id="d16_3" d="M1072 987.5h0m8 1h0m7.5 1h0m-13 3h0m9.5 13h0m-1 3.5h0m0.5 9.5h0m-10 1h0m10.5 2.5h0m-2 8.5h0m5 0.5h0m-7.5 1.5h0m-2 2h0m6.5 1.5h0m1.5 6h0"/><path id="d16_4" d="M1082.5 984.5h0m-6.5 1h0m11 0h0m-5.5 3h0m-2.5 6.5h0m-0.5 1.5h0m1 -0.5h0m4.5 0.5h0m-3 4h0m11 5h0m-18 1h0m8 0.5h0m-4 3h0m3.5 8h0m-0.5 3h0m-1.5 2.5h0m14.5 3h0m-9 3.5h0m-14 3h0m12.5 4.5h0"/><path id="d16_5" d="M1079 981h0m6.5 7h0m-10.5 0.5h0m9 10.5h0m-1 4h0m1 8h0m-1 5.5h0m6 -0.5h0m-7 4.5h0m-9 3.5h0m3.5 0.5h0m5.5 0h0m-4.5 7.5h0m9.5 6h0"/><path id="d16_6" d="M1079.5 988h0m1.5 2.5h0m2.5 0h0m-1 2h0m5 0.5h0m-10 1h0m9.5 4.5h0m-1.5 7h0m-6.5 7h0m-0.5 2h0m4 1h0m1.5 0h0m-6.5 3.5h0m-6.5 1.5h0m6 1h0m10 0.5h0m2.5 1.5h0m-10.5 4h0m2.5 0.5h0m-5 3h0m0.5 1h0m4 1.5h0m5.5 0.5h0m-2 6.5h0m2 -0.5h0m-4 3.5h0"/><path id="d16_7" d="M1082.5 987h0m2 2h0m-2.5 1.5h0m5 7.5h0m-11 1.5h0m3.5 -1h0m5 9h0m0.5 5h0m4 6h0m-3.5 7h0m-14 1h0m19.5 -1h0m-12.5 1h0m10.5 0.5h0m-9.5 3h0m7.5 0.5h0m-11.5 3h0m-1.5 2h0m11.5 0.5h0m-8.5 3.5h0m13 4.5h0"/><path id="d16_8" d="M1084 983h0m-5 8.5h0m5.5 10.5h0m-7 3.5h0m-7 1.5h0m23 2.5h0m-19 2h0m13.5 0.5h0m0.5 2.5h0m-10 1.5h0m2.5 0.5h0m5 0h0m-6 2.5h0m-1.5 3h0m3 4.5h0m9.5 3.5h0m-9 2h0m5 0.5h0m-6.5 3h0m-6.5 2.5h0m13.5 0h0m6 4.5h0"/><path id="d16_9" d="M1080 980h0m3.5 1h0m-8.5 1h0m4.5 3.5h0m10.5 1h0m-4.5 5h0m-8.5 2h0m4 -1h0m8.5 3h0m-0.5 5h0m-4 0h0m-2.5 1h0m5.5 7h0m-7 0.5h0m-0.5 1h0m5 0h0m-1 15h0m0.5 7h0m-3 4.5h0m-2.5 1.5h0m0 1.5h0m-0.5 1.5h0"/><path id="d16_10" d="M1087.5 982.5h0m-3 3h0m-13.5 1.5h0m18.5 6.5h0m-8 4h0m9.5 1h0m-5.5 1h0m5.5 2h0m-15 3h0m13.5 7h0m-9 1h0m-0.5 3h0m9 0.5h0m-3 9.5h0m2 15.5h0m-13.5 1h0m9 7.5h0"/><path id="d16_11" d="M1082.5 983h0m-6 6h0m9 0h0m-0.5 5h0m-13 1.5h0m8 2h0m11 0.5h0m-8.5 0.5h0m7 2h0m-9 2h0m-5.5 2h0m8 7.5h0m6.5 0.5h0m-14.5 7.5h0m8.5 1h0m4.5 3.5h0m-12.5 1.5h0m4.5 2.5h0m10 1.5h0m-11.5 1h0m-1 6h0m-1 2h0"/><path id="d17_0" d="M1076.5 1044h0m-1 8h0m1.5 1h0m11 2.5h0m-6 6h0m-2 7.5h0m-1.5 3.5h0m6 1.5h0m-3.5 3.5h0m-1.5 2h0m-4.5 5h0m8 1h0m-0.5 2h0"/><path id="d17_1" d="M1093.5 1043.5h0m-19 4.5h0m8.5 5h0m0 2.5h0m-6 4h0m7.5 5.5h0m1.5 0h0m-1.5 4.5h0m-2.5 8h0m7.5 5.5h0m-13 0.5h0m6.5 5h0"/><path id="d17_2" d="M1084 1042.5h0m8.5 1h0m-14 6h0m9 5h0m-2.5 1.5h0m7 3.5h0m-13 2.5h0m8.5 7.5h0m2.5 -1h0m-2 3h0m-6 9.5h0"/><path id="d17_3" d="M1082 1040.5h0m7 1.5h0m-4 1.5h0m0 0.5h0m5 2h0m-12.5 1h0m8 8h0m1.5 2h0m-12 8.5h0m11.5 1h0m6.5 3h0m-8 1.5h0m4.5 4h0m-12.5 1.5h0m12 1h0m0 1h0m-7.5 3.5h0m3 6h0m2 0.5h0m-2 1h0"/><path id="d17_4" d="M1083 1042h0m3.5 5.5h0m-8 1h0m2.5 1h0m-0.5 4h0m-10 0.5h0m7 6h0m5.5 4.5h0m7.5 1h0m-12.5 2.5h0m-4 4.5h0m9.5 2.5h0m2.5 0.5h0"/><path id="d17_5" d="M1077 1045.5h0m3 12h0m9.5 2h0m-10 1.5h0m14 0.5h0m-7 1.5h0m-7.5 2h0m0.5 0h0m2.5 4.5h0m-11 8h0m14.5 1h0"/><path id="d17_6" d="M1080 1046.5h0m4 14h0m2 12h0m-8.5 4h0m2 4h0m-1.5 6.5h0"/><path id="d17_7" d="M1083 1048h0m9 9.5h0m-7 4.5h0m3 1h0m-4.5 5h0m-5 3h0m3.5 1h0m5.5 1h0m0.5 8.5h0m-7.5 1h0m-0.5 3h0m6.5 1.5h0m-9 1h0m1 3.5h0"/><path id="d17_8" d="M1083 1046.5h0m-3.5 2h0m-1.5 5h0m14 1h0m-15 0.5h0m5 2.5h0m-4 0.5h0m-5 0.5h0m6.5 0.5h0m7 1h0m4.5 2.5h0m-7.5 0.5h0m-1 4.5h0m-10.5 1.5h0m2 0h0m4.5 0h0m-5.5 6.5h0m11 7h0m-5 0.5h0m4.5 1.5h0m-6.5 1.5h0m11.5 1h0m-9 2h0m-5 1h0m0.5 2h0"/><path id="d17_9" d="M1080.5 1042.5h0m4 3.5h0m-1.5 3.5h0m-2 2.5h0m2.5 1h0m-2.5 3h0m1.5 3.5h0m5 7h0m2.5 1.5h0m-8.5 4.5h0m-1.5 2h0m7.5 0.5h0m-7.5 16h0"/><path id="d17_10" d="M1083.5 1048.5h0m-5 3h0m6.5 -0.5h0m1 2.5h0m-9.5 4.5h0m8.5 0h0m-10.5 4h0m8 4h0m-8.5 2h0m6.5 3h0m3 0h0m6.5 0.5h0m-7 3h0m6 3h0m-4.5 3h0m-2 10h0"/><path id="d17_11" d="M1078 1041.5h0m8 8.5h0m-4.5 2h0m-7.5 1h0m5 2.5h0m13 0.5h0m-4 5h0m2.5 2h0m-17.5 1h0m5 -0.5h0m15.5 0.5h0m-13 10h0m-5 2h0m3.5 -0.5h0m6.5 9h0m-15 3h0m6 1.5h0"/><path id="d18_0" d="M1095.5 992h0m-2 5.5h0m4 1.5h0m2 0.5h0m-0.5 7.5h0m6.5 0h0m-8 2h0m2.5 1h0m-7.5 5.5h0m6.5 0h0m1.5 6.5h0m-2 6h0m1 4.5h0m-8.5 5.5h0m13 3.5h0m-6 2.5h0"/><path id="d18_1" d="M1095 986h0m-3 2.5h0m3 13h0m4.5 4h0m-5.5 4.5h0m7 1h0m4 0h0m-10.5 3.5h0m-3.5 3h0m-0.5 6.5h0m7.5 0.5h0m-5 13.5h0m9.5 0h0m-9.5 1.5h0m9.5 0.5h0m2 0h0"/><path id="d18_2" d="M1092.5 986.5h0m0.5 0.5h0m-4 3h0m3.5 1.5h0m2 -0.5h0m9 2h0m-9 2.5h0m1.5 1.5h0m-3 5h0m13 0.5h0m-7.5 0.5h0m6 7.5h0m-4 3h0m-4.5 5.5h0m7.5 0h0m-7 3.5h0m-7.5 5.5h0m10.5 0.5h0m-1.5 1h0m2.5 1h0m-10.5 4h0m1 0h0m6.5 0h0m9.5 0.5h0m-4 1h0m-12 3.5h0m5 -0.5h0m0.5 4.5h0m-1.5 1.5h0"/><path id="d18_3" d="M1094 985.5h0m6 6.5h0m2 4.5h0m-3 4.5h0m4.5 4.5h0m-11.5 7h0m6.5 2.5h0m-0.5 1h0m-4 2.5h0m10.5 11h0m-2.5 4.5h0m-3 10.5h0m5.5 3h0"/><path id="d18_4" d="M1090.5 985.5h0m5.5 4h0m1 0.5h0m-5.5 2.5h0m-4 3.5h0m14 3.5h0m4 2.5h0m-15.5 1h0m5 2.5h0m2 8h0m-9 13h0m10 0h0m-11.5 1.5h0m9 3h0m-5 0.5h0m6 2h0m5 -1h0m-9 3h0m10.5 2h0"/><path id="d18_5" d="M1088.5 985.5h0m11 4h0m-4.5 13.5h0m3.5 2.5h0m-3 3h0m2 -1h0m3 1h0m5.5 4.5h0m-10.5 1.5h0m-8.5 4h0m16 2h0m-10.5 2.5h0m0 6h0m9 2h0m-1.5 11.5h0"/><path id="d18_6" d="M1096.5 987h0m5.5 3h0m-12.5 2h0m10 0.5h0m-1 0.5h0m-7.5 4.5h0m7.5 13.5h0m1.5 13.5h0m0.5 12h0m8.5 2h0m-19.5 1.5h0"/><path id="d18_7" d="M1092 985h0m1.5 8h0m6.5 2.5h0m9 1h0m-23 5.5h0m1.5 4.5h0m6 0.5h0m12 1.5h0m-19 4.5h0m8.5 4h0m2 5.5h0m-3.5 2.5h0m2.5 1h0m13 4h0m-21.5 3.5h0m8 6.5h0m3 2.5h0m7.5 0.5h0"/><path id="d18_8" d="M1089 983.5h0m5 5.5h0m1.5 4.5h0m8 2h0m-6 5.5h0m3.5 3.5h0m-5 2h0m5 0h0m8 0h0m-18.5 12h0m-0.5 1h0m3.5 3h0m3 2.5h0m-3 6h0m1 1h0m3.5 0.5h0m-3.5 1h0m3 3h0m-6 4.5h0"/><path id="d18_9" d="M1092 1000h0m11.5 1h0m-4 1.5h0m-7 3.5h0m2 7h0m-4 1.5h0m12 1h0m-1.5 1h0m-1.5 1.5h0m-7.5 0.5h0m3.5 1h0m10.5 1h0m-6.5 0.5h0m3 0.5h0m0 1.5h0m-10 2h0m1.5 3.5h0m1 3h0m-8.5 1.5h0m5 0h0m5 2.5h0m1.5 3.5h0"/><path id="d18_10" d="M1088 990.5h0m8.5 5.5h0m-10 2h0m10 1h0m7.5 3.5h0m-8.5 9.5h0m10.5 6.5h0m-2.5 5h0m-4.5 4h0m4.5 -0.5h0m-2 2h0m-1.5 4.5h0m-5.5 2.5h0m2.5 4.5h0"/><path id="d18_11" d="M1091.5 984.5h0m12.5 12.5h0m-10 3h0m7.5 2.5h0m-8 2.5h0m-2 3.5h0m-3 3h0m6.5 -0.5h0m-3 0.5h0m10.5 0.5h0m0.5 4h0m-2.5 1.5h0m-2 0.5h0m-6.5 3h0m13 14h0m-5.5 3h0m-9 0.5h0m9 1h0m-11 1h0m-1 5h0m13 0.5h0"/><path id="d19_0" d="M1095.5 1041.5h0m9 4h0m-6.5 4.5h0m5 -0.5h0m-5.5 3.5h0m3 8h0m-6 9.5h0m1 1.5h0m3.5 4.5h0m-4.5 3.5h0m1 -0.5h0m2.5 0.5h0m-4.5 6h0"/><path id="d19_1" d="M1101 1045.5h0m-7 6h0m9 2.5h0m2.5 1.5h0m-9.5 5.5h0m5.5 9.5h0m-3 1h0m-7.5 2.5h0m9.5 1.5h0m2.5 2h0m-4.5 5.5h0m-4.5 2.5h0"/><path id="d19_2" d="M1101.5 1043h0m-7 2.5h0m-1.5 3h0m8 4.5h0m-5.5 4.5h0m-10 4.5h0m12.5 0h0m4 3.5h0m-1 4h0m7 6h0m-12.5 1.5h0m8 1.5h0m-4.5 0.5h0"/><path id="d19_3" d="M1091 1047.5h0m1.5 2h0m-2.5 1.5h0m0.5 5h0m8 2.5h0m5.5 7.5h0m-10 1h0m-0.5 3h0m7 -0.5h0m-14.5 7h0m7.5 1h0m-3 7.5h0"/><path id="d19_4" d="M1100.5 1052.5h0m-4 1.5h0m1 5h0m5 5.5h0m-5 11h0m4 1h0m-0.5 4h0m0 -0.5h0m-7.5 1h0m-1 2h0m6.5 -0.5h0m-8 3h0"/><path id="d19_5" d="M1098.5 1055.5h0m-2.5 0.5h0m-2 1.5h0m7.5 2h0m-5 8.5h0m3 5.5h0m-10 5h0m2.5 2h0m-5.5 0.5h0m3.5 0.5h0"/><path id="d19_6" d="M1101.5 1042.5h0m-10 2.5h0m9 3.5h0m-1 8.5h0m5.5 1h0m-10 1.5h0m-3 2.5h0m6 1h0m-9.5 1.5h0m5.5 9h0m11.5 3h0m-9.5 4h0m-0.5 5h0m-5 0.5h0"/><path id="d19_7" d="M1092.5 1052.5h0m7.5 4h0m3.5 -0.5h0m-4.5 3h0m2.5 7.5h0m-8.5 9h0m5 2h0m-2 9h0"/><path id="d19_8" d="M1106 1043h0m-10.5 7h0m-5.5 0.5h0m12 1h0m-15.5 1h0m4 1.5h0m4 1.5h0m-7 4.5h0m5 3h0m13.5 0h0m-12.5 1.5h0m1.5 0.5h0m5 0h0m-9.5 8h0m13.5 1h0m-6 6.5h0m-4.5 1.5h0m7.5 1h0"/><path id="d19_9" d="M1092.5 1048.5h0m6 0h0m0.5 0.5h0m-3.5 3.5h0m4.5 1h0m-7 6h0m3 4h0m14 0h0m-11.5 2.5h0m1 1h0m4 2h0m-12.5 3h0m8.5 -0.5h0m-4.5 4h0m7 -1h0m-10.5 4.5h0m7.5 3h0"/><path id="d19_10" d="M1103 1043.5h0m-4.5 2.5h0m-3.5 1h0m6 2.5h0m6.5 0.5h0m-13 3.5h0m9 10h0m-0.5 3.5h0m-6.5 2.5h0m9.5 0.5h0m-3 1.5h0m-1.5 2h0m6 -0.5h0m-9 0.5h0m-2 9h0"/><path id="d19_11" d="M1089 1050.5h0m8.5 0.5h0m6 10h0m-4 2.5h0m-1.5 3h0m-5.5 1.5h0m5 2h0m-1.5 4h0m9.5 0h0m-17.5 8.5h0m10 2.5h0"/><path id="d20_0" d="M1111 997h0m-3.5 2.5h0m2 3.5h0m10 15.5h0m-8 2.5h0m2.5 6h0m6 8h0m-10.5 8h0"/><path id="d20_1" d="M1107.5 995h0m5.5 5h0m4.5 5h0m-14.5 2.5h0m4 0.5h0m-2.5 23.5h0m10 -1h0m-2.5 3.5h0m9 0h0m-16 1.5h0m3 2.5h0"/><path id="d20_2" d="M1106 995.5h0m6.5 5h0m-6 3.5h0m6.5 1.5h0m8.5 3.5h0m-13.5 2.5h0m8 5h0m1 0h0m2.5 0h0m-6 9h0m1.5 0h0m-4.5 2.5h0m-5 9.5h0m10 -0.5h0m-2.5 1.5h0"/><path id="d20_3" d="M1106 994h0m4 5.5h0m6.5 4h0m-5.5 3.5h0m8 0.5h0m-17.5 1.5h0m17.5 11h0m-13 3h0m-3 5h0m16 2.5h0m-7 1h0m4.5 0.5h0m-3 2.5h0m-5 14h0"/><path id="d20_4" d="M1111 1001.5h0m5.5 -0.5h0m-7 3.5h0m12 2h0m-13.5 7h0m-0.5 1.5h0m2 4h0m-1.5 1h0m5.5 3h0m-3 1h0m-3.5 2.5h0m13.5 4.5h0m0 5h0m-6.5 5.5h0"/><path id="d20_5" d="M1110 1000.5h0m-5 4h0m3 -0.5h0m7 1.5h0m1.5 5h0m-5.5 3h0m6.5 0.5h0m1 0.5h0m-6 5.5h0m4.5 1.5h0m4.5 1.5h0m-20 1h0m10 0h0m-3.5 5.5h0m-2.5 1h0m17 3.5h0m-15.5 2h0m7.5 2.5h0m-3.5 7h0"/><path id="d20_6" d="M1101.5 993.5h0m2.5 5.5h0m8.5 0.5h0m0.5 8.5h0m-5.5 1.5h0m3.5 1.5h0m1.5 1h0m3 0.5h0m4.5 11.5h0m-12.5 1h0m9.5 0h0m-5.5 1h0m-5 2.5h0m7.5 3h0m-2.5 4h0m7 1h0m-1 5h0m-1.5 1h0"/><path id="d20_7" d="M1102.5 995h0m3 1.5h0m10 10h0m-12.5 3h0m9 -0.5h0m-3 5.5h0m3 1.5h0m9.5 -0.5h0m-14.5 3.5h0m4 -0.5h0m6.5 4.5h0m0.5 4h0m-3 1h0m-7 1h0m4 1h0m1 1h0m-9.5 4h0m14 -0.5h0m-15.5 2.5h0m4 2.5h0"/><path id="d20_8" d="M1114.5 999.5h0m-1.5 4h0m1.5 0h0m5 0h0m-2 4.5h0m-7.5 1h0m-1 3.5h0m0 5h0m7.5 2h0m-7.5 1.5h0m-4 4h0m1 1h0m10 0.5h0m-4.5 1.5h0m-8 4h0m10 5h0m3 2.5h0m-7 1.5h0m-1 3h0m5.5 2h0"/><path id="d20_9" d="M1107 1001h0m-3.5 11.5h0m12 8h0m-5 1.5h0m4 11h0m-6.5 7h0m2.5 6h0"/><path id="d20_10" d="M1116 1002h0m-4.5 1.5h0m1.5 4h0m2 2h0m4 3.5h0m-8 1.5h0m5 -0.5h0m-10 2h0m2 0.5h0m2 16h0m2 5h0m6 1.5h0"/><path id="d20_11" d="M1100.5 997.5h0m20.5 8h0m-6.5 5h0m-0.5 0.5h0m-10 4h0m9 2h0m0.5 2.5h0m-4 2.5h0m6 0h0m-11 2h0m4 2h0m4.5 2.5h0m3.5 0h0m-8 4h0m0 4h0m3 3h0m4.5 0.5h0m-1 3.5h0"/><path id="d21_0" d="M1105 1050h0m5.5 2h0m-1 2h0m1.5 2.5h0m0 8h0m-7 17h0"/><path id="d21_1" d="M1108 1046h0m3 2.5h0m-3 22.5h0"/><path id="d21_2" d="M1119.5 1048.5h0m-7.5 1.5h0m2.5 2.5h0m-4 1h0m4.5 1.5h0m-5 4h0m0.5 0h0m2 1h0m-5 18h0m-1 1h0m0.5 0h0"/><path id="d21_3" d="M1110 1043h0m-1.5 13h0m-2.5 4.5h0m7 4.5h0m-8.5 11h0"/><path id="d21_4" d="M1105.5 1053.5h0m9.5 0h0m-10 6h0m10 0h0m-12.5 2h0m5.5 0h0m-0.5 7h0m2 0.5h0"/><path id="d21_5" d="M1113 1050h0m-10 2h0m3.5 2h0m7 2.5h0m-9 2.5h0m5.5 8h0m0.5 1h0"/><path id="d21_6" d="M1110.5 1043.5h0m-1.5 3.5h0m7.5 10h0"/><path id="d21_7" d="M1113 1045h0m3 5.5h0m-7 2h0m1 4.5h0m1.5 1h0m-3.5 2h0m6 1h0m-8.5 14.5h0"/><path id="d21_8" d="M1113 1040.5h0m2 6h0m0 0.5h0m-5.5 2h0m8 0.5h0m-2 8h0m-2 0h0m-7.5 14.5h0m4 0h0"/><path id="d21_9" d="M1106 1048h0m11 -0.5h0m-3 1h0m-8 4h0m7.5 1h0m3.5 3h0m-9.5 8.5h0m0.5 2h0m1.5 6.5h0"/><path id="d21_10" d="M1108 1043h0m4 -0.5h0m10.5 0.5h0m-19.5 15h0m9 3.5h0m0.5 4.5h0"/><path id="d21_11" d="M1116.5 1044h0m1.5 7h0m0.5 0.5h0m-10 3.5h0m-2 2.5h0m2 4.5h0m-1.5 1h0"/><path id="d22_0" d="M1121 1018h0m1 3h0m-0.5 4h0m-2 15.5h0m2 2.5h0"/><path id="d22_1" d="M1118.5 1006h0m1 20.5h0m1 20h0"/><path id="d22_2" d="M1119 1023h0"/><path id="d22_3" d="M1116.5 1012h0m4 29.5h0"/><path id="d22_4" d="M1119.5 1010h0"/><path id="d22_5" d="M1122 1011.5h0m-0.5 5h0m-2 11.5h0"/><path id="d22_6" d="M1117.5 1009.5h0m3.5 3.5h0m0.5 24.5h0m-2 6.5h0"/><path id="d22_8" d="M1120 1009h0m2.5 16.5h0m0 5h0m-2 1.5h0m-2 14h0"/><path id="d22_9" d="M1121.5 1026h0m-3 17h0"/><path id="d22_10" d="M1119.5 1038.5h0"/><path id="d22_11" d="M1119.5 1032.5h0"/><path id="d23_1" d="M1117 1046h0"/><path id="d23_2" d="M1121 1050h0"/><path id="d23_5" d="M1122.5 1047h0m-4 2.5h0"/><path id="d23_8" d="M1122 1047h0"/><path id="d23_11" d="M1116.5 1054h0"/><path id="e0_0" d="M1531 1037.5h0m1.5 0h0m-18 0.5h0m5.5 4h0"/><path id="e0_1" d="M1500.5 1029h0m0 4h0m4.5 2h0m8.5 3h0m12.5 3.5h0m-11 0.5h0m2.5 2.5h0m4 0h0"/><path id="e0_2" d="M1503.5 1030.5h0m9.5 10.5h0"/><path id="e0_3" d="M1507 1034h0m1.5 2.5h0m-1.5 1.5h0m26 0.5h0m-5.5 3h0m-4.5 0.5h0"/><path id="e0_5" d="M1499.5 1023h0m4.5 9.5h0m6.5 3h0m-7 0h0m2.5 0h0m-1.5 1.5h0m8 -0.5h0m3.5 7h0m8 0h0m-1.5 0.5h0"/><path id="e0_6" d="M1501.5 1034h0m4 -0.5h0m1 4h0m12.5 7h0"/><path id="e0_7" d="M1502 1032h0m6.5 7h0m4 4h0m13 2h0"/><path id="e0_8" d="M1511 1040h0m4 1h0m5.5 0.5h0"/><path id="e0_9" d="M1530 1038h0m-13 3.5h0m9 2h0"/><path id="e0_10" d="M1509.5 1034.5h0m9.5 9h0m3 2.5h0"/><path id="e0_11" d="M1528.5 1038.5h0m-19.5 1.5h0m9.5 1.5h0m10 0.5h0"/><path id="e1_0" d="M1456.5 980h0m-17.5 7.5h0m19 0.5h0m-2.5 1.5h0m-17 7h0m13 0h0m-32 1.5h0m58 0.5h0m7.5 1.5h0m-65 2h0m0 0h0m24 1h0m20 1.5h0m-22 1h0m2 0h0m30.5 0.5h0m-52 1h0m24.5 0h0m-17 1h0m21.5 0h0m3 1h0m-10 2h0m24 -0.5h0m1.5 0h0m-32.5 2.5h0m34.5 1h0m-53 1.5h0m5 0h0m47.5 0h0m13.5 1.5h0m-30.5 1h0m14 0.5h0m-42.5 2h0m32.5 -0.5h0m17 1.5h0m11 0.5h0m-16 1.5h0m-38 0.5h0m5.5 0.5h0m14.5 1.5h0m8.5 1.5h0m14 0h0m11.5 -1h0m2.5 1h0m-43 2h0m30.5 -0.5h0m10.5 0.5h0m-40.5 1h0m38 0.5h0m-46 0.5h0m31 0.5h0m3.5 1h0m9 -0.5h0m10.5 1.5h0m-40 0.5h0m13 1h0m-21 1h0m3.5 -1h0m25 1h0m-1 2.5h0m-25 1h0m11.5 -0.5h0m-10 1h0m10 1h0m19 0h0m10.5 0.5h0m-42 1.5h0m16.5 1.5h0m9.5 1.5h0m11 0h0m-31.5 5h0m7.5 0.5h0m24 -0.5h0"/><path id="e1_1" d="M1453 978h0m0.5 2h0m-4 2h0m-11.5 1h0m3 0h0m2 0.5h0m-4 2.5h0m-4.5 1.5h0m28 2h0m-9 1.5h0m-0.5 3.5h0m-20.5 4h0m2 0h0m48.5 0h0m0.5 2h0m-34.5 1.5h0m18.5 0h0m-41 1h0m6 -0.5h0m10 0.5h0m19 0h0m25 -0.5h0m-63.5 1.5h0m10 1h0m19 0h0m21 3.5h0m2 -0.5h0m12.5 0h0m-56 0.5h0m32.5 0.5h0m21.5 0h0m-67 1h0m5.5 -0.5h0m49.5 0.5h0m-42.5 1h0m1 0h0m47 1h0m-41 1h0m13.5 -0.5h0m14 1.5h0m-33.5 1h0m18.5 0.5h0m-20.5 0.5h0m17 0h0m15 0h0m-30 1h0m16 2h0m32 0h0m7.5 0.5h0m-21.5 0.5h0m-21.5 2.5h0m17.5 -0.5h0m-0.5 1h0m25.5 0h0m-50.5 1h0m31 0.5h0m-20 0h0m6 0h0m-12.5 2h0m19.5 -0.5h0m25 0h0m-52.5 1h0m45 0.5h0m-50.5 3h0m29 0h0m-26 0.5h0m1.5 0.5h0m27.5 1h0m20 0.5h0m-48 1.5h0m40 0h0m14 2h0m-30.5 0.5h0m-5 1h0m-6.5 1h0m24 1h0m6.5 0.5h0m-14.5 1h0m-19.5 0.5h0m43.5 0h0m1.5 0h0m-32.5 0.5h0m19.5 0.5h0m18.5 1h0m-33.5 2h0m17 0h0m-15.5 3h0m32.5 1h0m-3 1.5h0m-7 2.5h0m-21 2h0m22.5 1h0"/><path id="e1_2" d="M1442 979h0m3.5 2.5h0m3.5 -0.5h0m10 -0.5h0m-13 1.5h0m8 1h0m-22 1h0m29.5 2h0m0.5 1.5h0m1.5 0.5h0m-33.5 1h0m8 0.5h0m29 2h0m-17.5 1h0m5 -1h0m10 0.5h0m-38 1h0m9 0h0m10.5 -0.5h0m12.5 0.5h0m3 1h0m10.5 0h0m-41.5 2.5h0m6 0h0m11.5 1h0m22.5 1h0m8.5 0h0m-45 1h0m-11 1h0m10.5 -1h0m-10 1.5h0m54.5 0h0m-53.5 1h0m10 1.5h0m26 0h0m8 -0.5h0m-46.5 1h0m14.5 0h0m23.5 1h0m-37.5 0.5h0m2.5 0.5h0m13.5 -0.5h0m11 0h0m29.5 1.5h0m-38 1h0m4.5 0.5h0m5.5 0h0m13 3h0m24 -0.5h0m-4.5 2.5h0m-7.5 0.5h0m-32 1.5h0m37.5 1h0m1.5 -1h0m4 0.5h0m-25 1h0m11.5 0h0m-46.5 3h0m21 1h0m16 0h0m7.5 0.5h0m17.5 -0.5h0m-21 1.5h0m-17.5 4h0m3.5 1.5h0m30.5 0.5h0m-3.5 1.5h0m8 1h0m-22 0.5h0m-18.5 1h0m27 0.5h0m-46 2.5h0m9 -1h0m35.5 0.5h0m1.5 0h0m6.5 0h0m-29 1h0m-15.5 1.5h0m49.5 -0.5h0m2.5 0.5h0m2.5 1h0m-54 0.5h0m45.5 -0.5h0m6 0.5h0m-47 2h0m23.5 0h0m10 -0.5h0m7.5 1h0m6 -1h0m-45 3h0m28.5 0.5h0m-10 2.5h0m24.5 -0.5h0m-33.5 4h0m23.5 0h0m0 2h0m5 0h0m-3 1.5h0m10.5 2.5h0m-1 2.5h0m2.5 0h0"/><path id="e1_3" d="M1452 982h0m-7.5 2.5h0m12 3.5h0m-29 1.5h0m5 1h0m4 1.5h0m24 -0.5h0m6 1.5h0m-30.5 1.5h0m4 1h0m19 -1h0m-31.5 2h0m38 1.5h0m16.5 0h0m-57.5 1h0m58 4h0m-55 3h0m1 1.5h0m36.5 -0.5h0m16 1.5h0m-43 0.5h0m13 0h0m10.5 0h0m-35 1h0m34 0h0m-4.5 1.5h0m16 -0.5h0m5 0.5h0m5 -0.5h0m-35 3h0m8.5 0.5h0m2.5 -0.5h0m10.5 -0.5h0m-31.5 1h0m33 0.5h0m12.5 0.5h0m-25 0.5h0m-16 1h0m16 -0.5h0m6 0.5h0m21 0h0m-55.5 0.5h0m13.5 0.5h0m-11 2h0m7.5 0h0m-2.5 1h0m41.5 2.5h0m-44 0h0m29 0h0m8.5 1.5h0m-46.5 1.5h0m25 -0.5h0m30.5 0.5h0m3.5 0.5h0m-15 2.5h0m6.5 1h0m-13 0h0m-10.5 2h0m12 0.5h0m13.5 -0.5h0m-20 2h0m14.5 -0.5h0m11.5 0.5h0m-30 1h0m-3.5 1.5h0m4 1.5h0m33 0h0m-46 3h0m32.5 1.5h0m-13.5 2h0m32.5 -0.5h0m-15.5 2h0m12 0h0m-33 4h0m1.5 0h0m22 0h0m-34.5 2h0m2.5 1.5h0"/><path id="e1_4" d="M1436 983h0m19.5 0h0m-15.5 2h0m2.5 4.5h0m17.5 0.5h0m4 0h0m-33 2h0m2.5 0.5h0m23.5 -0.5h0m-9 1.5h0m22 0.5h0m-41 2h0m20 0h0m17 0h0m7.5 0.5h0m-35 1.5h0m8 -0.5h0m8 0h0m17 0h0m-4.5 2h0m5 0.5h0m-26.5 1.5h0m17 -0.5h0m6.5 0h0m-34 0.5h0m8 0.5h0m22 0h0m0.5 3h0m-2 1h0m-46 1.5h0m26 0h0m5 0h0m20 -0.5h0m-35.5 3h0m3 0h0m20.5 0.5h0m-35.5 0.5h0m28.5 0.5h0m-11.5 0.5h0m15.5 0h0m19.5 0h0m-45 1.5h0m50 0.5h0m1.5 -0.5h0m-2.5 1h0m-42.5 3h0m4.5 0.5h0m2 0.5h0m14.5 -0.5h0m15.5 0.5h0m-47.5 0.5h0m13 0h0m9.5 0.5h0m33.5 1h0m-41.5 0.5h0m39.5 -0.5h0m-27.5 1h0m38.5 3.5h0m-60 0.5h0m45 1h0m14.5 -1h0m-41 2.5h0m5 0h0m-23.5 1h0m15.5 0.5h0m18 -1h0m3.5 0.5h0m12.5 -0.5h0m-40 1h0m23 1h0m2.5 0h0m-22.5 2.5h0m21 0h0m5 0h0m-16 2.5h0m-2.5 1.5h0m-15 1h0m35 1h0m5.5 0.5h0m-10.5 1.5h0m8.5 0.5h0m14.5 -1h0m-28 2.5h0m20.5 0.5h0m-14.5 0.5h0m21.5 0h0m-25.5 3h0m15.5 2h0m-26.5 1.5h0m32.5 0.5h0m9 1.5h0"/><path id="e1_5" d="M1442.5 983h0m-3.5 1.5h0m10 0h0m11 0.5h0m-26.5 1.5h0m7.5 0h0m11 -0.5h0m-23.5 1.5h0m17.5 1h0m9 0h0m-10 1h0m3 0.5h0m-13 2.5h0m6.5 1.5h0m-9.5 1h0m44 0.5h0m-8.5 3h0m-13.5 0.5h0m9 1h0m-10 2h0m24 1h0m12 4h0m-54 1.5h0m23.5 1h0m25.5 -0.5h0m-4 1h0m-57 1h0m5.5 0.5h0m35 2h0m-38.5 0.5h0m10 0h0m18.5 0.5h0m20 -0.5h0m7.5 0h0m-46 0.5h0m4.5 0.5h0m12.5 0.5h0m15.5 -0.5h0m12 0h0m6.5 0.5h0m-10.5 0.5h0m-6.5 1.5h0m-34.5 2h0m25 -1h0m14.5 1h0m-45.5 0.5h0m23.5 0h0m-26.5 2.5h0m24 0h0m10 0.5h0m-15.5 1.5h0m-8 1.5h0m6.5 -0.5h0m28.5 1h0m5 -1h0m-11.5 1h0m-6.5 1.5h0m-4.5 0.5h0m3 0.5h0m3 0.5h0m-25.5 2h0m32.5 1.5h0m18 0.5h0m-14 0h0m-29.5 3h0m28 0h0m-34.5 3.5h0m58.5 0h0m-50.5 2.5h0m4 5.5h0m2 0h0m40.5 0h0m-1.5 2.5h0m-2 3h0m5.5 2h0"/><path id="e1_6" d="M1438.5 979.5h0m13.5 4.5h0m-6.5 2h0m8.5 -0.5h0m-19.5 1h0m6 5h0m11 -1h0m-3.5 1.5h0m19 -0.5h0m-37.5 2.5h0m1 -0.5h0m42.5 1h0m1.5 3.5h0m-9.5 1h0m-16 5.5h0m26 0h0m-40.5 0.5h0m51 0h0m-60.5 2.5h0m17.5 2h0m3.5 0.5h0m26.5 0h0m-33.5 5.5h0m34 -0.5h0m15 1.5h0m-44 2h0m0.5 -0.5h0m9.5 0.5h0m-32.5 1h0m67 -1h0m-46 4h0m40 -0.5h0m-28.5 1.5h0m18 0h0m-31.5 1.5h0m6 0h0m34 0h0m10.5 0.5h0m-56.5 0.5h0m14.5 0.5h0m35.5 -0.5h0m-55 1h0m6 1h0m15 0h0m36.5 -0.5h0m-54.5 1.5h0m57 0h0m-15 1.5h0m0 -1h0m13.5 3h0m-42 0.5h0m-10.5 2.5h0m7.5 2h0m5.5 0.5h0m13.5 0.5h0m1 0.5h0m13.5 -0.5h0m-22 3.5h0m10 0h0m16.5 1h0m-29 1h0m14 1h0m-22.5 0.5h0m10.5 1.5h0m5.5 3h0m30.5 0h0m-7.5 1h0m7.5 1h0m-1.5 2.5h0m-25 4h0m21 1.5h0"/><path id="e1_7" d="M1445.5 980.5h0m5 0h0m8 5h0m-17.5 4.5h0m2 2h0m8 1.5h0m-18 1h0m9.5 1h0m28 0h0m-21 0.5h0m6.5 0h0m-30.5 0.5h0m-4.5 1.5h0m35 1h0m14 0.5h0m-6.5 1.5h0m-2.5 1h0m20.5 0.5h0m4.5 0h0m-68 1.5h0m33.5 -0.5h0m32 0h0m-65 2.5h0m3 0h0m33.5 0.5h0m7.5 -1h0m3.5 2.5h0m18 0h0m-31.5 1h0m17.5 0h0m-26 0.5h0m-2 2h0m16 -0.5h0m7 0.5h0m-17 0.5h0m36.5 0h0m4 -0.5h0m-29 1.5h0m30.5 0h0m-36.5 0.5h0m-26.5 3.5h0m34 -0.5h0m-17.5 2.5h0m-13 2h0m4.5 0.5h0m19 -0.5h0m1.5 -0.5h0m5 1h0m6.5 0.5h0m-4.5 3.5h0m4 0.5h0m4 0.5h0m-4 0h0m24.5 2h0m-39 0h0m31 0.5h0m-39 2.5h0m12 1h0m1.5 -0.5h0m34 0h0m-54.5 2h0m28 1h0m5.5 -0.5h0m-14.5 1.5h0m3.5 1.5h0m21 0h0m-34 1h0m10.5 0.5h0m-21 1.5h0m3 0.5h0m46 0h0m-33 0.5h0m9.5 0h0m16 1.5h0m-2 1h0m-25.5 2h0m3 0h0m38 0h0m-44.5 1h0m26 1h0m-9 1.5h0m23.5 -0.5h0m-44 0.5h0m2.5 1.5h0m3 0.5h0m4.5 1.5h0m23 1h0m1 1h0m9.5 1.5h0"/><path id="e1_8" d="M1450 983.5h0m6 0h0m2 0h0m-22 3h0m12.5 -0.5h0m-7.5 2.5h0m17 2h0m-7.5 0h0m11.5 2.5h0m-28 2h0m37.5 0.5h0m4 2h0m-52 0h0m16.5 0.5h0m16 0h0m-29 1.5h0m13.5 -0.5h0m8 0.5h0m29.5 0.5h0m4 -0.5h0m-53 1h0m44 0.5h0m-44 0.5h0m8 0h0m-3.5 1.5h0m40.5 0h0m-27 0.5h0m9.5 0h0m30 1h0m-58 0.5h0m-10.5 0.5h0m65.5 1h0m-51 0.5h0m44.5 0.5h0m8.5 -0.5h0m-14 1.5h0m-51 1h0m8.5 -0.5h0m6.5 0.5h0m13 0h0m-26 0.5h0m12 1.5h0m40.5 -1h0m12.5 2h0m-38.5 1.5h0m3 3.5h0m16 -0.5h0m10.5 -0.5h0m11.5 1.5h0m-27 1h0m-11 2h0m5.5 -0.5h0m15.5 2h0m-22 1h0m0.5 0h0m24.5 0h0m8 -0.5h0m-56 1h0m10 -0.5h0m41 0.5h0m-11 2.5h0m-31.5 0.5h0m6.5 1.5h0m-2.5 1h0m1.5 1.5h0m-3.5 2.5h0m52 2h0m-25.5 2h0m-2.5 0h0m3.5 1.5h0m-16.5 1.5h0m-2.5 4h0m10.5 0h0m31 -0.5h0m-8.5 1h0m12 3h0m-37.5 0.5h0m25.5 1h0m-24.5 3h0m19.5 0h0m-13.5 0.5h0m-11 0.5h0"/><path id="e1_9" d="M1450 978h0m-1.5 3.5h0m-19 4h0m16 0h0m10.5 0h0m-13 1.5h0m9 0.5h0m-22 0.5h0m18.5 0h0m12.5 0h0m-33.5 1h0m11 2h0m8 -0.5h0m-18.5 1.5h0m10 1h0m22 0.5h0m-13.5 1h0m7.5 0.5h0m4.5 0.5h0m22 1h0m-51.5 2h0m8 -1h0m20.5 0.5h0m2 0.5h0m5 -1h0m-25.5 1.5h0m-1.5 1.5h0m6 0h0m7.5 0h0m6.5 -0.5h0m17 0h0m-28 1h0m11.5 3h0m24 1h0m-55 2h0m10.5 0.5h0m33 0h0m-12 1h0m9 1h0m-31.5 1.5h0m5.5 0.5h0m-14 0h0m24.5 0.5h0m10 0h0m-29.5 1.5h0m18.5 -0.5h0m5 -0.5h0m-36 1h0m21.5 0.5h0m43.5 0h0m-42.5 2h0m-6 0.5h0m29 0.5h0m-40.5 2.5h0m24.5 -0.5h0m24 1.5h0m-40.5 0h0m9.5 0h0m4 0h0m-6 2.5h0m24.5 1h0m17 0h0m-24.5 1.5h0m-1.5 0.5h0m5.5 0.5h0m8 -0.5h0m-27.5 1h0m25.5 2h0m-13.5 1h0m33.5 0.5h0m-47.5 0h0m38 0h0m-46.5 1.5h0m18 -0.5h0m1.5 1h0m-16 0h0m22.5 0.5h0m-13.5 1.5h0m0.5 -1h0m3 0.5h0m-10.5 1.5h0m7 4.5h0m26.5 0h0m-9.5 2.5h0m-13 0.5h0m2 0.5h0m5.5 0.5h0m12 0h0m15 0h0m1 1h0m-21 1.5h0m14 0h0m-9.5 1.5h0m11.5 0h0m-23 0.5h0m18 0.5h0m-25 1h0m5.5 2h0m36 2h0m1 1h0"/><path id="e1_10" d="M1457.5 981.5h0m2.5 4h0m-23 2h0m0.5 2.5h0m-12.5 1h0m19 2h0m24 1h0m-22.5 2h0m-20.5 1.5h0m17 1h0m11 -1h0m-32.5 2h0m32 1h0m16 -0.5h0m-22.5 0.5h0m33.5 0.5h0m-54 2h0m45 2h0m5 0.5h0m-4 0.5h0m-15 1h0m6 0h0m19 2h0m8 0.5h0m-42 1h0m-20 3.5h0m35.5 0h0m-3 1h0m3 1h0m26 0h0m-66 0.5h0m8 0h0m40.5 0h0m4 1.5h0m-5 1h0m6.5 0.5h0m5.5 0.5h0m-55.5 1h0m42 0.5h0m-40 1h0m27 0h0m-32.5 1.5h0m56.5 1.5h0m-48.5 2h0m13 0h0m-17.5 0.5h0m53.5 -0.5h0m-15.5 1h0m6.5 1.5h0m-23.5 1h0m3.5 0h0m-15 0.5h0m35.5 0h0m7 0h0m11 1h0m-48.5 2h0m37.5 0.5h0m2 1h0m-50.5 2h0m22.5 1h0m6 -0.5h0m10.5 0h0m11.5 2h0m0 -1h0m-13.5 2.5h0m8 0h0m11.5 2.5h0m-39 2.5h0m31 0.5h0m-27 0.5h0m8.5 1h0m1.5 -0.5h0m18.5 0.5h0m3.5 0h0m-39.5 1.5h0m29 0h0m7 1.5h0m-29.5 1h0"/><path id="e1_11" d="M1452.5 979.5h0m-20 7.5h0m18 1h0m-20 1.5h0m35 0h0m-40 5h0m28 -0.5h0m-12 0.5h0m22.5 0h0m-18 1.5h0m15 0h0m1 0h0m-35 2h0m49 1h0m4 0.5h0m-35 1h0m14.5 0h0m-28.5 1.5h0m8 0h0m33 0h0m-43 1h0m22 0h0m15 0.5h0m14 1h0m-33.5 0.5h0m11.5 0h0m10.5 0h0m-27.5 1h0m15.5 0h0m-35 1.5h0m33 0h0m5 0.5h0m16 1.5h0m12 -0.5h0m-46 0.5h0m-24 3h0m6.5 1h0m7 0h0m9 0.5h0m5 0.5h0m25.5 -0.5h0m-41 1h0m-7 1h0m26 0h0m16.5 -0.5h0m-14 2.5h0m5 1h0m6.5 0.5h0m-22 2h0m44 -1h0m-18.5 1.5h0m-19 1.5h0m11 0.5h0m15 1.5h0m-41.5 0.5h0m1 -0.5h0m24.5 0h0m-8.5 4h0m5.5 4.5h0m29.5 -0.5h0m-51 1h0m10.5 0.5h0m13.5 0h0m6.5 0.5h0m5.5 -0.5h0m-34 1h0m4.5 1.5h0m19 0h0m13.5 -1h0m11 0.5h0m-17 0.5h0m14 1h0m6.5 0h0m-9 0.5h0m-22.5 1h0m24.5 0h0m-13.5 2h0m26 0.5h0m-36 0.5h0m15 0.5h0m18 0h0m-43 0.5h0m8 0.5h0m16 1h0m2 0h0m-13.5 0.5h0m26.5 2h0m1 2h0m-26 2h0m25 3h0m0.5 -0.5h0m-4 3.5h0"/><path id="e2_0" d="M1390.5 1018.5h0m-6 3h0m5 -1h0m26.5 0.5h0m-33.5 2h0m3 -0.5h0m-2.5 5h0m-8 1.5h0m11 -0.5h0m7.5 2h0m-11 1h0m11.5 2h0m8 0.5h0m2.5 -0.5h0m3.5 0h0m0.5 1.5h0m5 -0.5h0m-6 4h0m-21.5 2h0m22 1.5h0m-26 1h0m6 0h0m27.5 0.5h0m1.5 -1h0m-8 2h0m-29.5 0h0m-3.5 2.5h0m-1.5 0.5h0m4.5 0.5h0m13 1.5h0m-17.5 0h0m11 1h0m9 1.5h0m7 2h0m4.5 0.5h0m-13.5 0.5h0m-6.5 5h0m0.5 4.5h0m-4 1h0m9 2h0m3 2.5h0m-5 5h0m6.5 0h0m5.5 4h0"/><path id="e2_1" d="M1418.5 1003h0m-11.5 4.5h0m12 0.5h0m-23.5 2.5h0m20 2.5h0m-5.5 1.5h0m2 0h0m4 0.5h0m1.5 0.5h0m-29 2h0m2 -0.5h0m-9 0.5h0m6 2h0m5.5 0.5h0m-4.5 2h0m23 1h0m-9 1.5h0m-6 3h0m18.5 0.5h0m-33.5 1.5h0m15 -0.5h0m5.5 0h0m-16 5.5h0m3 1h0m-13 2h0m23 4h0m-2 0.5h0m16 0.5h0m-29 1.5h0m12.5 2h0m5.5 1h0m-3 1h0m15.5 0h0m-14.5 2h0m-4.5 1h0m19.5 0h0m-24 1h0m6 0h0m10.5 0.5h0m-28 2.5h0m20 3h0m-18 1.5h0m-0.5 0.5h0m4 2.5h0m10.5 -0.5h0m5 0h0m-3.5 1h0m10.5 1h0m-0.5 3.5h0m-6.5 1h0m4.5 0.5h0m-8.5 1.5h0m0 1.5h0m5 3.5h0"/><path id="e2_2" d="M1418.5 1000h0m-1 2.5h0m-10 7h0m2 0h0m10 2h0m-29 0.5h0m9 0h0m10 1h0m-4 8h0m-18 2h0m-5.5 2h0m16.5 0h0m-9.5 1h0m0 2h0m-5.5 1h0m34.5 3h0m-34 2h0m28 2.5h0m2 0h0m-24.5 2.5h0m5 1h0m13.5 0h0m2 0.5h0m-8 0.5h0m9 1h0m-19.5 1h0m-8.5 1h0m18.5 0h0m-24.5 1h0m21.5 1.5h0m-16 2.5h0m23.5 0.5h0m2 -1h0m-31 4.5h0m4.5 0h0m1 2h0m16.5 0h0m-19.5 1h0m16.5 0h0m10 1.5h0m-21 1h0m18 -0.5h0m-20.5 0.5h0m7 0h0m12 0.5h0m-6 1.5h0m8.5 0h0m-3.5 0h0m7.5 1.5h0m0 3h0m-13 0.5h0m6.5 3.5h0m-15 2h0m7.5 3h0m5 2.5h0m6 0.5h0m-5.5 1h0"/><path id="e2_3" d="M1423.5 992h0m-1.5 3h0m-11 14h0m-14.5 1.5h0m3.5 -1h0m13.5 4h0m-22.5 1h0m7.5 0.5h0m-10.5 0.5h0m5.5 0.5h0m23 0.5h0m-7.5 1.5h0m-29 1.5h0m34.5 0.5h0m-36 2h0m40.5 -0.5h0m2 0.5h0m-31 1.5h0m22.5 0h0m-12 1h0m-16.5 7.5h0m19.5 -0.5h0m-3.5 2h0m17 -1h0m-14 1h0m5.5 2.5h0m-5.5 2.5h0m-24.5 2h0m-3 1.5h0m29.5 0h0m7.5 3h0m-22 1h0m21 0h0m1.5 -0.5h0m-27 3h0m22.5 -0.5h0m-10.5 1h0m6 0h0m-27.5 1h0m4.5 3h0m22.5 3h0m-18 1h0m19 0h0m-15 2.5h0m8 5h0m-6 0.5h0m12 1.5h0m-5 1.5h0m3.5 2h0m-4.5 1.5h0m4.5 2h0"/><path id="e2_4" d="M1430.5 986.5h0m-15 18.5h0m-3 3h0m0 3h0m-29 5.5h0m18.5 1h0m12.5 -0.5h0m-15.5 2h0m-20 4h0m24 0h0m-25.5 3.5h0m34 1h0m-19 0.5h0m-12 2.5h0m17 1.5h0m-13.5 1.5h0m11 2h0m-2 0.5h0m-0.5 1.5h0m-5 0.5h0m18 0.5h0m-15 4h0m-4.5 0.5h0m3 1.5h0m-10.5 2.5h0m6 1h0m29.5 0.5h0m-33.5 1.5h0m10 0h0m4 0.5h0m15.5 0h0m0.5 1.5h0m-32.5 0.5h0m25.5 0.5h0m-27 1h0m10 -0.5h0m7 0h0m-3 2.5h0m17.5 1h0m-2.5 4.5h0m-17 2.5h0m-8 0.5h0m25.5 1h0m-23.5 2h0m19 -1h0m-14 4h0m12 3.5h0m6 0h0m2 0h0m-16 2h0m6 0h0m9 9.5h0m-1.5 1h0"/><path id="e2_5" d="M1409 1007h0m-7.5 6h0m6.5 0.5h0m-13 1.5h0m12.5 0.5h0m4.5 1.5h0m6.5 1h0m-23.5 4h0m2 0h0m-17 1h0m17.5 4h0m9.5 0h0m10 0.5h0m-29 0.5h0m14.5 -0.5h0m18 0h0m-40.5 2h0m18 0h0m-21 2h0m10 -0.5h0m-0.5 2h0m5 0h0m5.5 0h0m0.5 1.5h0m-23.5 1.5h0m8 0.5h0m23 -0.5h0m-2 0.5h0m12 0.5h0m-20.5 2.5h0m7 -0.5h0m2.5 1.5h0m-9 0.5h0m20.5 0.5h0m-35.5 1.5h0m15.5 1.5h0m3.5 1.5h0m6 0h0m-30.5 1.5h0m22 4h0m12.5 2.5h0m-21.5 2h0m5.5 3.5h0m9 1.5h0m-11.5 1.5h0m16 1h0m-22 3.5h0m3.5 0.5h0m16.5 2h0m1 2h0m3.5 2h0m-12.5 3.5h0"/><path id="e2_6" d="M1415.5 1007.5h0m-14.5 2h0m8 2.5h0m-20 2h0m5 -0.5h0m5.5 1h0m6.5 0h0m15.5 1h0m-35.5 5h0m31 -0.5h0m-24.5 1.5h0m1 1.5h0m2 0.5h0m14 0h0m9 0.5h0m-34 1h0m25.5 0.5h0m0.5 -0.5h0m-17.5 0.5h0m14.5 0.5h0m-4 2h0m10 1h0m-27.5 2.5h0m3.5 -0.5h0m10 0.5h0m2 -0.5h0m4 0.5h0m-16 1.5h0m-14.5 2h0m8 0.5h0m23 -1h0m0.5 0h0m-28 2.5h0m21 1h0m-7 2h0m19.5 1.5h0m-19 0.5h0m4.5 3h0m7 2h0m-14 1h0m4 1.5h0m-10 0.5h0m14 -0.5h0m6 1h0m-17.5 2.5h0m18 0h0m10 1.5h0m-17.5 0.5h0m-13 4h0m3 1h0m-6 2h0m29 -0.5h0m-25.5 2h0m5 0h0m1 -1h0m-5 3.5h0m11 -0.5h0m11.5 0h0m-5 2h0m-9.5 1.5h0m-7 0.5h0m11 1h0"/><path id="e2_7" d="M1411.5 1008.5h0m3 0h0m-16.5 2h0m-9 1.5h0m32 1h0m-17.5 2h0m1 1.5h0m14 2h0m-13 1h0m-25.5 1h0m12 -0.5h0m1 1h0m22.5 1.5h0m-8.5 0.5h0m-21 1.5h0m14.5 0.5h0m13 0h0m-32.5 2h0m29.5 4h0m-22.5 2h0m-8 3h0m5 0.5h0m1 1.5h0m-8.5 1.5h0m7 4h0m15.5 -0.5h0m-13 3h0m5.5 4.5h0m10 3.5h0m-13 1h0m3 2h0m6 0.5h0m8 3h0m-2.5 1.5h0m-10.5 1.5h0m6.5 1.5h0m-10.5 6h0m2 1h0m0 2h0m11.5 0h0m-1 3.5h0m-6.5 2h0m6.5 3h0"/><path id="e2_8" d="M1416.5 1009.5h0m-13 1.5h0m8 0.5h0m-20.5 0.5h0m10.5 -0.5h0m-9.5 1.5h0m18.5 -0.5h0m-24 3.5h0m3 0h0m18.5 0.5h0m-12 1h0m17.5 0.5h0m-27 1.5h0m26.5 0.5h0m-13 1h0m7 1h0m-14.5 1.5h0m24 0.5h0m-27.5 3h0m11 0h0m-8 4h0m3.5 0.5h0m13.5 -0.5h0m0 1.5h0m4.5 -1h0m-2.5 2.5h0m4 0.5h0m-36 0.5h0m2 3.5h0m-7 0h0m17.5 1h0m18 -0.5h0m4.5 0.5h0m-38 0h0m8.5 0.5h0m12.5 -0.5h0m-9 1h0m17.5 1h0m-11 2.5h0m6 1.5h0m9 0.5h0m-29 1.5h0m7 0.5h0m7.5 0h0m6 1h0m0 3.5h0m8.5 -0.5h0m-25.5 3h0m24.5 1h0m-30.5 2h0m10 1h0m6.5 2.5h0m7 0h0m8 2h0m-6.5 0.5h0m-8.5 1h0m-5 1.5h0m-1.5 0.5h0m4.5 3.5h0m7.5 0.5h0m0 1.5h0m7.5 3h0m-13 1h0m3 3h0m2 1h0m3.5 -0.5h0"/><path id="e2_9" d="M1405.5 1008h0m0 1h0m9.5 1.5h0m-16.5 3.5h0m8 2.5h0m-13 0h0m-1 1.5h0m28.5 0h0m-18 2h0m0 0.5h0m-15 4.5h0m4.5 0.5h0m-12 0.5h0m1 0.5h0m14.5 -0.5h0m13.5 2h0m-5.5 1.5h0m2 0.5h0m-6 7.5h0m13.5 2.5h0m-38.5 1h0m27 1h0m-24.5 1.5h0m33 2h0m-27.5 4.5h0m19.5 0h0m5.5 0.5h0m-18.5 1.5h0m-12 2h0m10.5 0.5h0m22.5 0.5h0m-28 0.5h0m2.5 1.5h0m10.5 0.5h0m14 0.5h0m-30 1h0m28.5 0h0m-16.5 1.5h0m5.5 0h0m12 0h0m-28.5 2.5h0m8 -0.5h0m22 0.5h0m-11 1h0m-13.5 3.5h0m3.5 6h0m15.5 10h0"/><path id="e2_10" d="M1413 1009h0m-5.5 1.5h0m10 0.5h0m-30 3h0m12.5 0h0m-2 3.5h0m14 1h0m1.5 3h0m-1.5 0.5h0m-5.5 2h0m-28 1.5h0m-3 1.5h0m40.5 0h0m-23 1.5h0m13 -1h0m-30.5 2h0m16 -0.5h0m18 0h0m10 -0.5h0m-12.5 1.5h0m-29.5 2h0m34.5 0.5h0m-19.5 2h0m7 0h0m-20 1h0m10.5 0h0m-4.5 1h0m2.5 1h0m7.5 -0.5h0m5.5 0h0m-25.5 4h0m11.5 3.5h0m-3.5 1.5h0m4.5 1.5h0m19 0h0m-18.5 3.5h0m11 1h0m13.5 -0.5h0m-17 3h0m-18 2h0m14 1h0m-13.5 4.5h0m3 1.5h0m10 2h0m3.5 2h0m-11 1h0m25.5 1h0m-0.5 2h0m-14 2h0m9 2.5h0m-6.5 1.5h0m3 3.5h0m0.5 2.5h0"/><path id="e2_11" d="M1422.5 996h0m-16.5 15.5h0m-8.5 0.5h0m-2 0.5h0m10 0h0m-4 3.5h0m11.5 0h0m-27 2h0m15.5 3.5h0m-3 1h0m-5 3.5h0m-19.5 1h0m12 0h0m4.5 0h0m-11.5 2.5h0m38.5 0h0m-43 1.5h0m3.5 -0.5h0m37.5 1h0m-39.5 1.5h0m37 0h0m-37 1.5h0m17 0.5h0m-3 2h0m18 0h0m-23.5 1h0m12 1h0m-15 0.5h0m14.5 3.5h0m12.5 0.5h0m-3 1h0m-25 2h0m-4 1h0m34 0h0m-26.5 4.5h0m3.5 1h0m20.5 1h0m-10 2.5h0m2 -0.5h0m1.5 -0.5h0m-7 1h0m19 3.5h0m-27.5 1.5h0m9.5 2h0m9.5 6.5h0m-1.5 2h0m-2.5 1h0m-3 1h0m7 2h0m-1.5 2.5h0m1 1.5h0"/><path id="e3_0" d="M1482.5 1002h0m-54.5 19.5h0m9 17.5h0m4 5.5h0m-7.5 2.5h0m60 0h0m-75.5 1h0m10.5 0h0m13 0h0m-0.5 1h0m-12.5 1.5h0m-14 2.5h0m14 0h0m13.5 1.5h0m-28 0h0m7 2h0m16 -0.5h0m57 0h0m-59 1h0m23.5 3.5h0m4 -0.5h0m18 1h0m-2 0.5h0m10 0.5h0m-55 1.5h0m21 1h0m29.5 -1h0m-70.5 1.5h0m13.5 0.5h0m33.5 -1h0m18.5 2h0m-56.5 2h0m38.5 -0.5h0m30 -0.5h0m-52 1h0m37.5 0.5h0m-23.5 0.5h0m-6.5 1.5h0m1.5 0h0m13.5 -0.5h0m-42 1.5h0m9.5 1h0m12.5 0h0m20 -0.5h0m-49.5 2h0m4.5 -0.5h0m35 0h0m5 -0.5h0m-32 2.5h0m12.5 0h0m3.5 0h0m4.5 0h0m7.5 -0.5h0m7.5 0.5h0m-43 1h0m33 -0.5h0m-29 2h0m23.5 -0.5h0m5.5 0h0m15.5 0.5h0m-12 3h0m6 2.5h0m-3.5 1h0m-23 1.5h0m-17.5 1h0m44 3.5h0m-42 1.5h0m26 1h0m-14.5 0h0m-11 4h0m6.5 2h0m24.5 2h0m-11.5 2h0m12 0.5h0"/><path id="e3_1" d="M1436 981h0m33.5 10h0m21 35.5h0m2 11h0m-61 8h0m6.5 -0.5h0m0 3h0m-15.5 0.5h0m-12 1.5h0m7.5 1h0m4.5 0h0m8 0h0m25 2.5h0m-3 1h0m6 1h0m-31 2.5h0m-9.5 2h0m9.5 0.5h0m29.5 -1h0m25.5 1h0m-60 0.5h0m14 0.5h0m45.5 0h0m-41 0h0m15 1h0m-10 0.5h0m19 -0.5h0m1 1h0m-46.5 0.5h0m15.5 0h0m-23 2h0m38.5 0h0m7 0h0m2 0h0m-42 1h0m33.5 0h0m-9.5 1h0m-22.5 1.5h0m11.5 2h0m36 1h0m-41.5 1h0m14 0h0m-20 0h0m38.5 0h0m-24 3.5h0m-23.5 1h0m50 0h0m-7.5 0.5h0m5.5 0.5h0m-28.5 1.5h0m31 0.5h0m-33 1h0m0 1.5h0m30 0h0m-36 2h0m3 0.5h0m0 2h0m-9 0.5h0m7.5 0.5h0m33.5 0.5h0m-37.5 1.5h0m23 1h0m-29 2.5h0m4 1h0m27.5 -0.5h0m-23 0.5h0m18 3h0m9 0.5h0"/><path id="e3_2" d="M1434.5 982.5h0m-4 1.5h0m47.5 12h0m-57.5 29h0m3 2.5h0m2.5 1h0m3.5 3h0m-2 5h0m-5 2.5h0m70.5 9h0m-56 1h0m3 1.5h0m-11 3h0m-8 0.5h0m6.5 0.5h0m-9.5 1.5h0m24.5 -0.5h0m34.5 0h0m-36.5 2.5h0m9.5 0h0m7.5 0.5h0m-22 2h0m18.5 0h0m37 0h0m-57 2h0m5 -1h0m22 0.5h0m6.5 -0.5h0m16.5 1h0m7.5 0h0m-55.5 2h0m36 -0.5h0m4.5 2.5h0m8 -1h0m-55.5 2.5h0m-17 1h0m10.5 2.5h0m17.5 0.5h0m20.5 0.5h0m5.5 1h0m-2 0h0m-47 2h0m13 -1h0m-10.5 2.5h0m26.5 0.5h0m-32.5 0h0m29.5 0.5h0m11 0h0m3.5 0.5h0m-49 1.5h0m7.5 0.5h0m12.5 1.5h0m5.5 1h0m19 1h0m-23 2.5h0m-10.5 1h0m28.5 -0.5h0m12.5 0h0m-40 1h0m20 0.5h0m4 -0.5h0m-15.5 1h0m19 2h0m1.5 0.5h0m-22 0.5h0m13 1.5h0m13 -1h0m-37.5 2.5h0m32.5 1h0m-9.5 4.5h0m-12.5 0h0m9 2h0"/><path id="e3_3" d="M1491.5 1021.5h0m-71.5 14h0m0.5 0.5h0m4 0h0m9.5 6h0m-10 3h0m3.5 1.5h0m10.5 1h0m-17 4h0m18.5 1.5h0m20.5 0.5h0m-27 3h0m8.5 0.5h0m8.5 0h0m-36.5 0.5h0m19 0.5h0m9.5 -0.5h0m46 0.5h0m-71.5 0.5h0m71.5 1h0m-42.5 1h0m27.5 0h0m-57.5 2h0m33.5 -1h0m43.5 0.5h0m-23 1.5h0m17.5 -0.5h0m-23.5 1.5h0m-25 0.5h0m32 0.5h0m10 -0.5h0m-39.5 1h0m-6 1h0m1.5 0h0m0.5 1.5h0m7.5 -1h0m9 0.5h0m30 0h0m-3 1h0m-23 0.5h0m14.5 0h0m-39 3h0m4.5 -0.5h0m32 -0.5h0m-51 4h0m10 0.5h0m10.5 -0.5h0m-29.5 1h0m54 0h0m0 2h0m-54.5 3h0m13.5 0h0m15 0h0m20 1h0m-38.5 2h0m18 -1h0m9.5 2.5h0m-34.5 1h0m15.5 0.5h0m2.5 1.5h0m-18.5 2h0m9.5 -0.5h0m15 1.5h0m7.5 0.5h0m-18.5 0.5h0m10 0h0m15 0.5h0m8.5 -0.5h0m-33.5 3.5h0m5 1.5h0m17.5 0.5h0m-9.5 0h0m5 2.5h0m-5 4h0m10 0h0"/><path id="e3_4" d="M1440.5 980h0m-4.5 4.5h0m52 21.5h0m-66.5 23h0m-0.5 1.5h0m-2.5 1h0m2.5 0.5h0m12 0h0m-7 2h0m-7 3.5h0m14.5 3h0m-15 2h0m0 1.5h0m13.5 0h0m-13 2h0m-0.5 2.5h0m8 2h0m7 0.5h0m-6.5 1.5h0m13.5 -1h0m-3 3h0m-14 0h0m1.5 1.5h0m13 -0.5h0m9.5 0.5h0m-32 1.5h0m41.5 -0.5h0m18.5 0.5h0m-54.5 1h0m1.5 -0.5h0m22 0h0m4.5 1.5h0m28.5 1h0m-66.5 0h0m10.5 0h0m-4.5 1.5h0m45 -0.5h0m-33.5 1h0m33 2h0m-29.5 1h0m34.5 1h0m-31.5 0.5h0m9.5 -0.5h0m1 0.5h0m-26 1.5h0m46.5 -0.5h0m-52 0.5h0m17.5 0.5h0m46.5 0h0m-24.5 1.5h0m16 -0.5h0m-51.5 2h0m59 0h0m2.5 -0.5h0m-46.5 2h0m44 0.5h0m-45.5 1.5h0m14.5 0h0m-6 1.5h0m-13 1h0m-7 1.5h0m3.5 1h0m13 0h0m1.5 0h0m-33.5 1.5h0m9.5 0.5h0m39 0h0m-49 1h0m52.5 -0.5h0m6.5 0.5h0m-29.5 0.5h0m14 1h0m-20 3.5h0m8.5 2h0m26 -0.5h0m-22.5 1h0m-5.5 4h0m13.5 2.5h0m1 5h0"/><path id="e3_5" d="M1488.5 1006.5h0m-66 19h0m4.5 0.5h0m-11 7h0m12.5 4h0m1.5 4h0m61 0h0m-52 1.5h0m-12 0.5h0m7.5 3h0m-13.5 3h0m-7.5 1h0m29.5 3h0m-4 1.5h0m-8 0.5h0m15 0h0m9 -0.5h0m-24.5 4h0m18.5 -0.5h0m13 0.5h0m-31 1h0m5.5 1h0m-3 0.5h0m-6 1h0m44 0h0m13.5 0h0m-54 1.5h0m2.5 -0.5h0m16.5 0.5h0m41 2.5h0m-44.5 1h0m-14.5 1h0m16.5 0h0m9.5 0.5h0m-20.5 2h0m26 -0.5h0m23 -0.5h0m-47.5 1.5h0m2.5 -0.5h0m30 1h0m-36 1h0m12.5 0.5h0m25.5 0h0m3 -0.5h0m3 0.5h0m-9 1.5h0m2 -0.5h0m-51.5 2.5h0m47.5 1.5h0m0.5 -0.5h0m-26 2h0m14 -1h0m6.5 1h0m-42.5 1.5h0m25.5 0h0m4.5 0h0m-20.5 0.5h0m-23 1.5h0m22.5 0h0m-8.5 1h0m31.5 0.5h0m2 0.5h0m-38 2.5h0m25.5 -0.5h0m20 0.5h0m-49 1.5h0m41.5 0h0m-13 1h0m-18.5 1h0m15.5 0.5h0m-10 0h0m4 0.5h0m-14 1h0m18 1.5h0m1 0h0m3 0.5h0m0.5 3.5h0m4.5 -0.5h0m3.5 0h0m-16.5 1h0m7 4h0m4.5 0.5h0"/><path id="e3_6" d="M1446 978.5h0m14 3.5h0m-32.5 51h0m5 10h0m-15 1h0m3 0.5h0m15.5 0.5h0m-7.5 1h0m-13 1h0m25 0.5h0m4 1h0m-27 3.5h0m8 -0.5h0m-6 2.5h0m13 0h0m-13.5 1.5h0m33.5 1h0m9 0h0m-41.5 1.5h0m1.5 4.5h0m1 0.5h0m-0.5 0.5h0m66 2h0m-67.5 1.5h0m60.5 -0.5h0m-56 1h0m1.5 0h0m34.5 2h0m4 0h0m13.5 -0.5h0m-70.5 1.5h0m37.5 -0.5h0m10.5 1h0m31.5 0h0m-33 1h0m-27.5 0.5h0m-15 2.5h0m45.5 0.5h0m-31 0.5h0m43.5 0.5h0m1.5 -1h0m-22.5 2.5h0m17.5 1h0m-48 1h0m12 0.5h0m26 -0.5h0m3.5 0h0m-14.5 2h0m-33.5 1h0m37 1h0m12.5 1.5h0m-53 2h0m35 1h0m9.5 1.5h0m-6 3.5h0m9.5 -0.5h0m-35.5 1h0m10 -0.5h0m-8 1h0m-4 1.5h0m12.5 -0.5h0m5.5 1.5h0m-12.5 3.5h0m20 -1h0m1.5 1h0m4.5 1h0m-10 3h0m2 0.5h0m1 2.5h0"/><path id="e3_7" d="M1418 1024.5h0m1 1h0m6.5 5h0m0 3h0m-3.5 2h0m0.5 -1h0m-7 4h0m3 0.5h0m3 0h0m3 0h0m-3.5 1h0m2.5 0.5h0m-4.5 1h0m10 -1h0m-8 6.5h0m-1.5 2.5h0m15 1h0m3.5 0.5h0m-19.5 0.5h0m12 0.5h0m-6 3h0m51 1.5h0m-50 1h0m38.5 2h0m29.5 0.5h0m-78.5 0.5h0m29 0.5h0m32 -0.5h0m-56.5 2h0m35.5 -1h0m2.5 0.5h0m-43.5 1h0m61.5 1h0m2 0.5h0m11.5 0.5h0m-22 0.5h0m4 0h0m-52.5 1.5h0m55 0h0m-24.5 3.5h0m9 1h0m-29.5 1h0m14 -0.5h0m-15.5 2h0m34.5 0h0m-7 0.5h0m-39 2h0m50.5 0h0m-20 2.5h0m15.5 1.5h0m-27.5 1h0m5.5 0.5h0m-27 1.5h0m29 0h0m-1 2h0m20 -0.5h0m-29 2h0m23.5 0.5h0m-14.5 1h0m18 0.5h0m-19.5 1h0m-5 1h0m18.5 0h0m1.5 0h0m-43 3h0m10 2.5h0m34.5 0.5h0m-2 1.5h0m-18.5 0.5h0m-7 1h0m18 2.5h0m-10 2.5h0"/><path id="e3_8" d="M1453.5 979h0m-33.5 55h0m2.5 3h0m4 1.5h0m-9.5 2h0m5 1.5h0m7 0h0m-6 1h0m-0.5 1.5h0m5 4h0m66 2.5h0m-69.5 1h0m-6 1.5h0m27 2.5h0m9 1h0m28.5 0h0m-35.5 1h0m31.5 0h0m-44 1h0m18 0h0m-11.5 0.5h0m11 2h0m24.5 0h0m-52 1.5h0m-9 1.5h0m10 0h0m48.5 0h0m-50 1.5h0m5 0.5h0m34.5 1.5h0m26 0h0m-67 2.5h0m20 -0.5h0m7 0.5h0m-16 0h0m18.5 2h0m16.5 0h0m-24 1h0m32 1h0m-8.5 0h0m-35 1h0m-3 1.5h0m25 -0.5h0m13.5 0h0m-39 1.5h0m8.5 0h0m-26.5 0.5h0m28.5 1h0m12 0h0m-42 0.5h0m32.5 1.5h0m20.5 -0.5h0m-55 1h0m8 0h0m12.5 4h0m4 0h0m1.5 2.5h0m-17 0.5h0m3.5 0.5h0m14 0h0m-11 3h0m32 2.5h0m-26.5 1.5h0m4 0.5h0m1.5 0.5h0m-10.5 0.5h0m9 3.5h0m7.5 0.5h0m12 -0.5h0m-11 1.5h0m5.5 3h0"/><path id="e3_9" d="M1490.5 1014.5h0m-67.5 6h0m-4 7h0m10.5 6h0m-7 0h0m-5.5 2h0m11.5 9.5h0m-11 0.5h0m13.5 0.5h0m-8 1h0m2 0h0m19 -0.5h0m-11.5 5h0m-5 4h0m50 3h0m5.5 0h0m-40.5 2.5h0m-11 2h0m14 0h0m28 0h0m13.5 0h0m-74.5 1.5h0m15 0.5h0m13 0h0m2 0h0m4 -0.5h0m9 0h0m36 0.5h0m-36.5 1.5h0m2 -0.5h0m-18.5 0.5h0m13 0h0m16.5 1h0m-57.5 1h0m5 0h0m15.5 -1h0m50.5 0h0m-66.5 1.5h0m69.5 0h0m-67 1h0m17 0h0m39 -0.5h0m15.5 0h0m-59.5 1.5h0m43.5 0h0m-16.5 1h0m-41.5 1h0m32 0.5h0m-11.5 0.5h0m14.5 0.5h0m-27 0h0m11.5 1.5h0m7 0.5h0m15 -0.5h0m6 -0.5h0m-1 3h0m-51 1h0m33 1h0m22.5 2h0m-48.5 0.5h0m7.5 0.5h0m19.5 0h0m-21.5 1.5h0m21.5 0.5h0m6 0.5h0m-37 0.5h0m9.5 0.5h0m23 0.5h0m-38 1h0m9 2.5h0m-1.5 1h0m40.5 0h0m1.5 0h0m-45 1.5h0m26.5 0.5h0m-13.5 0.5h0m3 0h0m-2.5 1.5h0m7 0h0m9.5 0h0m12 -0.5h0m4 0.5h0m-20 1.5h0m5 -0.5h0m8.5 2.5h0m-15 2h0"/><path id="e3_10" d="M1443.5 979.5h0m0.5 0.5h0m27.5 12.5h0m13.5 11.5h0m-60.5 20.5h0m-1.5 6.5h0m2.5 4.5h0m66.5 1h0m-75.5 1.5h0m8.5 5h0m10 2h0m-9.5 2.5h0m22 4.5h0m-7 2h0m-25.5 2h0m8 0h0m62 0h0m-56 1.5h0m51 -1h0m-42 2h0m35 0h0m-36.5 0h0m1.5 1h0m15 0h0m15.5 0.5h0m1.5 0h0m-6 2.5h0m5 -0.5h0m-39.5 2h0m51.5 0.5h0m-18 1h0m-21 0h0m5.5 0.5h0m37.5 0.5h0m-54.5 0.5h0m21 1h0m23.5 0h0m11.5 0h0m-43.5 1h0m24 0.5h0m2.5 -0.5h0m-48.5 1.5h0m18.5 -0.5h0m-27.5 1.5h0m38.5 0h0m-26 0.5h0m39.5 0.5h0m-21.5 1h0m-19.5 2h0m14 -1h0m36.5 2h0m-65.5 0.5h0m6.5 1h0m56.5 -0.5h0m-58 2h0m14 0h0m7 0.5h0m16 -0.5h0m18 0.5h0m-51.5 1.5h0m24 0h0m16 0.5h0m-2 2h0m-39 1.5h0m4.5 0h0m6.5 -0.5h0m-19 0.5h0m27 1h0m5 -1h0m-11.5 1.5h0m24.5 0.5h0m3.5 0.5h0m-46 2h0m38.5 0h0m-36 2h0m13 -0.5h0m20 0.5h0m-31 1h0m33.5 0.5h0m-2.5 2h0m-22.5 3h0m4.5 -0.5h0m17 7h0"/><path id="e3_11" d="M1434 984.5h0m34.5 6h0m-36.5 47h0m-8 2.5h0m3 1h0m14.5 3.5h0m-9 4h0m4 2.5h0m-2.5 1h0m2.5 0h0m25.5 3h0m-51 1.5h0m37 -0.5h0m-19 0.5h0m26.5 1h0m4.5 1.5h0m-30.5 1.5h0m21 -1h0m38.5 0.5h0m-70.5 1h0m32 0.5h0m10 -0.5h0m-37.5 2.5h0m-5.5 1h0m50 -1h0m-19.5 1h0m5 0h0m32.5 0h0m-8.5 2h0m-52 0.5h0m-4.5 0.5h0m-12 1h0m37 0.5h0m41.5 -0.5h0m-62 1.5h0m57 0.5h0m1 1h0m-38 0.5h0m35.5 0h0m-67 1.5h0m35 2h0m-34.5 0h0m11 1.5h0m-2 1h0m31 1.5h0m-6 0h0m-37 2.5h0m22 0h0m15 -0.5h0m-26 2h0m25 -0.5h0m3 0h0m-21 0.5h0m14 1.5h0m15.5 0h0m-48.5 2h0m26.5 1h0m14.5 0h0m-17.5 1h0m-14 1h0m27 0.5h0m-16 1h0m6 1.5h0m15 -0.5h0m8.5 0.5h0m-6 3.5h0m-34.5 1h0m22.5 0.5h0m10.5 -0.5h0m-26 2h0m4.5 1h0m13 1h0m0 6h0"/></g></defs>
<text x="1042" y="963" class="tb" font-size="20.5" text-anchor="middle">time point</text>
<g fill="none" stroke-width="2.65" stroke-linecap="round"><g transform="translate(0.0,0.0)"><g stroke="#405f8c"><use href="#d0_0"/><use href="#d0_2"/><use href="#d0_3"/><use href="#d0_4"/><use href="#d0_6"/><use href="#d0_7"/><use href="#d0_8"/><use href="#d0_9"/><use href="#d0_10"/><use href="#d1_0"/><use href="#d1_1"/><use href="#d1_2"/><use href="#d1_3"/><use href="#d1_4"/><use href="#d1_5"/><use href="#d1_6"/><use href="#d1_7"/><use href="#d1_8"/><use href="#d1_9"/><use href="#d2_0"/><use href="#d2_1"/><use href="#d2_2"/><use href="#d2_3"/><use href="#d2_4"/><use href="#d2_5"/><use href="#d2_6"/><use href="#d2_7"/><use href="#d2_8"/><use href="#d2_9"/><use href="#d2_10"/><use href="#d3_0"/><use href="#d3_1"/><use href="#d3_2"/><use href="#d3_3"/><use href="#d3_4"/><use href="#d3_5"/><use href="#d3_6"/><use href="#d3_7"/><use href="#d3_8"/><use href="#d3_9"/><use href="#d3_10"/><use href="#d4_0"/><use href="#d4_1"/><use href="#d4_2"/><use href="#d4_3"/><use href="#d4_4"/><use href="#d4_5"/><use href="#d4_6"/><use href="#d4_7"/><use href="#d4_8"/><use href="#d4_9"/><use href="#d4_10"/><use href="#d5_0"/><use href="#d5_1"/><use href="#d5_2"/><use href="#d5_3"/><use href="#d5_4"/><use href="#d5_5"/><use href="#d5_6"/><use href="#d5_7"/><use href="#d5_8"/><use href="#d5_9"/><use href="#d5_10"/><use href="#d6_0"/><use href="#d6_1"/><use href="#d6_2"/><use href="#d6_3"/><use href="#d6_4"/><use href="#d6_5"/><use href="#d6_6"/><use href="#d6_7"/><use href="#d6_8"/><use href="#d7_0"/><use href="#d7_1"/><use href="#d7_2"/><use href="#d7_3"/><use href="#d7_4"/><use href="#d7_5"/><use href="#d7_6"/><use href="#d7_7"/><use href="#d7_8"/><use href="#d7_9"/><use href="#d7_10"/><use href="#d8_0"/><use href="#d8_1"/><use href="#d8_2"/><use href="#d8_3"/><use href="#d8_4"/><use href="#d8_5"/><use href="#d8_6"/><use href="#d8_7"/><use href="#d8_8"/><use href="#d9_0"/><use href="#d9_1"/><use href="#d9_2"/><use href="#d9_3"/><use href="#d9_4"/><use href="#d9_5"/><use href="#d9_6"/><use href="#d9_7"/><use href="#d9_8"/><use href="#d9_9"/><use href="#d9_10"/><use href="#d10_0"/><use href="#d10_1"/><use href="#d10_2"/><use href="#d10_3"/><use href="#d10_4"/><use href="#d10_5"/><use href="#d10_6"/><use href="#d10_7"/><use href="#d10_8"/><use href="#d11_0"/><use href="#d11_1"/><use href="#d11_2"/><use href="#d11_3"/><use href="#d11_4"/><use href="#d11_5"/><use href="#d11_6"/><use href="#d11_7"/><use href="#d11_8"/><use href="#d11_9"/><use href="#d11_10"/><use href="#d12_0"/><use href="#d12_1"/><use href="#d12_2"/><use href="#d12_3"/><use href="#d12_4"/><use href="#d12_5"/><use href="#d13_0"/><use href="#d13_1"/><use href="#d13_2"/><use href="#d13_3"/><use href="#d13_4"/><use href="#d13_5"/><use href="#d13_6"/><use href="#d14_0"/><use href="#d14_1"/><use href="#d14_2"/><use href="#d14_3"/><use href="#d14_4"/><use href="#d14_5"/><use href="#d15_0"/><use href="#d16_0"/><use href="#d16_1"/><use href="#d17_0"/><use href="#d18_0"/><use href="#d18_1"/><use href="#d19_0"/><use href="#d20_0"/><use href="#d20_1"/><use href="#d21_0"/><use href="#d22_0"/><use href="#d22_1"/></g><g stroke="#da424b"><use href="#d0_11"/><use href="#d1_11"/><use href="#d2_11"/><use href="#d3_11"/><use href="#d4_11"/><use href="#d5_11"/><use href="#d6_9"/><use href="#d6_10"/><use href="#d6_11"/><use href="#d7_11"/><use href="#d8_9"/><use href="#d8_10"/><use href="#d8_11"/><use href="#d9_11"/><use href="#d10_9"/><use href="#d10_10"/><use href="#d10_11"/><use href="#d11_11"/><use href="#d12_6"/><use href="#d12_7"/><use href="#d12_8"/><use href="#d12_9"/><use href="#d12_10"/><use href="#d12_11"/><use href="#d13_7"/><use href="#d13_8"/><use href="#d13_9"/><use href="#d13_10"/><use href="#d13_11"/><use href="#d14_6"/><use href="#d14_7"/><use href="#d14_8"/><use href="#d14_9"/><use href="#d14_10"/><use href="#d14_11"/><use href="#d15_1"/><use href="#d15_2"/><use href="#d15_3"/><use href="#d15_4"/><use href="#d15_5"/><use href="#d15_6"/><use href="#d15_7"/><use href="#d15_8"/><use href="#d15_9"/><use href="#d15_10"/><use href="#d15_11"/><use href="#d16_2"/><use href="#d16_3"/><use href="#d16_4"/><use href="#d16_5"/><use href="#d16_6"/><use href="#d16_7"/><use href="#d16_8"/><use href="#d16_9"/><use href="#d16_10"/><use href="#d16_11"/><use href="#d17_1"/><use href="#d17_2"/><use href="#d17_3"/><use href="#d17_4"/><use href="#d17_5"/><use href="#d17_6"/><use href="#d17_7"/><use href="#d17_8"/><use href="#d17_9"/><use href="#d17_10"/><use href="#d17_11"/><use href="#d18_2"/><use href="#d18_3"/><use href="#d18_4"/><use href="#d18_5"/><use href="#d18_6"/><use href="#d18_7"/><use href="#d18_8"/><use href="#d18_9"/><use href="#d18_10"/><use href="#d18_11"/><use href="#d19_1"/><use href="#d19_2"/><use href="#d19_3"/><use href="#d19_4"/><use href="#d19_5"/><use href="#d19_6"/><use href="#d19_7"/><use href="#d19_8"/><use href="#d19_9"/><use href="#d19_10"/><use href="#d19_11"/><use href="#d20_2"/><use href="#d20_3"/><use href="#d20_4"/><use href="#d20_5"/><use href="#d20_6"/><use href="#d20_7"/><use href="#d20_8"/><use href="#d20_9"/><use href="#d20_10"/><use href="#d20_11"/><use href="#d21_1"/><use href="#d21_2"/><use href="#d21_3"/><use href="#d21_4"/><use href="#d21_5"/><use href="#d21_6"/><use href="#d21_7"/><use href="#d21_8"/><use href="#d21_9"/><use href="#d21_10"/><use href="#d21_11"/><use href="#d22_2"/><use href="#d22_3"/><use href="#d22_4"/><use href="#d22_5"/><use href="#d22_6"/><use href="#d22_8"/><use href="#d22_9"/><use href="#d22_10"/><use href="#d22_11"/><use href="#d23_1"/><use href="#d23_2"/><use href="#d23_5"/><use href="#d23_8"/><use href="#d23_11"/></g></g></g>
<text x="1042" y="1163.4" class="tb" font-size="20.5" text-anchor="middle">TRBC2</text>
<g fill="none" stroke-width="2.65" stroke-linecap="round"><g transform="translate(0.0,203.0)"><g stroke="#dcdcdc"><use href="#d0_11"/><use href="#d1_11"/><use href="#d2_11"/><use href="#d3_11"/><use href="#d4_11"/><use href="#d5_11"/><use href="#d6_11"/><use href="#d7_11"/><use href="#d8_10"/><use href="#d8_11"/><use href="#d9_10"/><use href="#d9_11"/><use href="#d10_10"/><use href="#d10_11"/><use href="#d11_10"/><use href="#d11_11"/><use href="#d12_10"/><use href="#d12_11"/><use href="#d13_10"/><use href="#d13_11"/><use href="#d14_7"/><use href="#d14_8"/><use href="#d14_9"/><use href="#d14_10"/><use href="#d14_11"/><use href="#d15_7"/><use href="#d15_8"/><use href="#d15_9"/><use href="#d15_10"/><use href="#d15_11"/><use href="#d16_7"/><use href="#d16_8"/><use href="#d16_9"/><use href="#d16_10"/><use href="#d16_11"/><use href="#d17_7"/><use href="#d17_8"/><use href="#d17_9"/><use href="#d17_10"/><use href="#d17_11"/><use href="#d18_7"/><use href="#d18_8"/><use href="#d18_9"/><use href="#d18_10"/><use href="#d18_11"/><use href="#d19_7"/><use href="#d19_8"/><use href="#d19_9"/><use href="#d19_10"/><use href="#d19_11"/><use href="#d20_7"/><use href="#d20_8"/><use href="#d20_9"/><use href="#d20_10"/><use href="#d20_11"/><use href="#d21_7"/><use href="#d21_8"/><use href="#d21_9"/><use href="#d21_10"/><use href="#d21_11"/><use href="#d22_8"/><use href="#d22_9"/><use href="#d22_10"/><use href="#d22_11"/><use href="#d23_8"/><use href="#d23_11"/></g><g stroke="#eb6c87"><use href="#d0_0"/><use href="#d0_2"/><use href="#d0_3"/><use href="#d1_0"/><use href="#d1_1"/><use href="#d1_2"/><use href="#d1_3"/><use href="#d2_0"/><use href="#d2_1"/><use href="#d2_2"/><use href="#d2_3"/><use href="#d3_0"/><use href="#d3_1"/><use href="#d3_2"/><use href="#d3_3"/><use href="#d4_0"/><use href="#d4_1"/><use href="#d4_2"/><use href="#d4_3"/><use href="#d5_0"/><use href="#d5_1"/><use href="#d5_2"/><use href="#d5_3"/><use href="#d6_0"/><use href="#d6_1"/><use href="#d6_2"/><use href="#d6_3"/><use href="#d7_0"/><use href="#d7_1"/><use href="#d7_2"/><use href="#d7_3"/><use href="#d8_0"/><use href="#d8_1"/><use href="#d9_0"/><use href="#d9_1"/><use href="#d10_0"/><use href="#d10_1"/><use href="#d11_0"/><use href="#d11_1"/><use href="#d12_0"/><use href="#d12_1"/><use href="#d13_0"/><use href="#d13_1"/><use href="#d14_0"/><use href="#d15_0"/><use href="#d16_0"/><use href="#d17_0"/><use href="#d18_0"/><use href="#d19_0"/><use href="#d20_0"/><use href="#d21_0"/><use href="#d22_0"/></g><g stroke="#f09aab"><use href="#d0_4"/><use href="#d0_6"/><use href="#d0_7"/><use href="#d1_4"/><use href="#d1_5"/><use href="#d1_6"/><use href="#d1_7"/><use href="#d2_4"/><use href="#d2_5"/><use href="#d2_6"/><use href="#d2_7"/><use href="#d3_4"/><use href="#d3_5"/><use href="#d3_6"/><use href="#d3_7"/><use href="#d4_4"/><use href="#d4_5"/><use href="#d4_6"/><use href="#d4_7"/><use href="#d5_4"/><use href="#d5_5"/><use href="#d5_6"/><use href="#d5_7"/><use href="#d6_4"/><use href="#d6_5"/><use href="#d6_6"/><use href="#d6_7"/><use href="#d7_4"/><use href="#d7_5"/><use href="#d7_6"/><use href="#d7_7"/><use href="#d8_2"/><use href="#d8_3"/><use href="#d8_4"/><use href="#d8_5"/><use href="#d8_6"/><use href="#d9_2"/><use href="#d9_3"/><use href="#d9_4"/><use href="#d9_5"/><use href="#d9_6"/><use href="#d10_2"/><use href="#d10_3"/><use href="#d10_4"/><use href="#d10_5"/><use href="#d10_6"/><use href="#d11_2"/><use href="#d11_3"/><use href="#d11_4"/><use href="#d11_5"/><use href="#d11_6"/><use href="#d12_2"/><use href="#d12_3"/><use href="#d12_4"/><use href="#d12_5"/><use href="#d12_6"/><use href="#d13_2"/><use href="#d13_3"/><use href="#d13_4"/><use href="#d13_5"/><use href="#d13_6"/><use href="#d14_1"/><use href="#d14_2"/><use href="#d14_3"/><use href="#d15_1"/><use href="#d15_2"/><use href="#d15_3"/><use href="#d16_1"/><use href="#d16_2"/><use href="#d16_3"/><use href="#d17_1"/><use href="#d17_2"/><use href="#d17_3"/><use href="#d18_1"/><use href="#d18_2"/><use href="#d18_3"/><use href="#d19_1"/><use href="#d19_2"/><use href="#d19_3"/><use href="#d20_1"/><use href="#d20_2"/><use href="#d20_3"/><use href="#d21_1"/><use href="#d21_2"/><use href="#d21_3"/><use href="#d22_1"/><use href="#d22_2"/><use href="#d22_3"/><use href="#d23_1"/><use href="#d23_2"/></g><g stroke="#e53e64"><use href="#d0_8"/><use href="#d1_8"/><use href="#d2_8"/><use href="#d3_8"/><use href="#d4_8"/><use href="#d5_8"/><use href="#d6_8"/><use href="#d7_8"/></g><g stroke="#f4c4cd"><use href="#d0_9"/><use href="#d0_10"/><use href="#d1_9"/><use href="#d2_9"/><use href="#d2_10"/><use href="#d3_9"/><use href="#d3_10"/><use href="#d4_9"/><use href="#d4_10"/><use href="#d5_9"/><use href="#d5_10"/><use href="#d6_9"/><use href="#d6_10"/><use href="#d7_9"/><use href="#d7_10"/><use href="#d8_7"/><use href="#d8_8"/><use href="#d8_9"/><use href="#d9_7"/><use href="#d9_8"/><use href="#d9_9"/><use href="#d10_7"/><use href="#d10_8"/><use href="#d10_9"/><use href="#d11_7"/><use href="#d11_8"/><use href="#d11_9"/><use href="#d12_7"/><use href="#d12_8"/><use href="#d12_9"/><use href="#d13_7"/><use href="#d13_8"/><use href="#d13_9"/><use href="#d14_4"/><use href="#d14_5"/><use href="#d14_6"/><use href="#d15_4"/><use href="#d15_5"/><use href="#d15_6"/><use href="#d16_4"/><use href="#d16_5"/><use href="#d16_6"/><use href="#d17_4"/><use href="#d17_5"/><use href="#d17_6"/><use href="#d18_4"/><use href="#d18_5"/><use href="#d18_6"/><use href="#d19_4"/><use href="#d19_5"/><use href="#d19_6"/><use href="#d20_4"/><use href="#d20_5"/><use href="#d20_6"/><use href="#d21_4"/><use href="#d21_5"/><use href="#d21_6"/><use href="#d22_4"/><use href="#d22_5"/><use href="#d22_6"/><use href="#d23_5"/></g></g></g>
<text x="1042" y="1366.3" class="tb" font-size="20.5" text-anchor="middle">IL32</text>
<g fill="none" stroke-width="2.65" stroke-linecap="round"><g transform="translate(0.0,406.0)"><g stroke="#dcdcdc"><use href="#d0_11"/><use href="#d1_11"/><use href="#d2_11"/><use href="#d3_11"/><use href="#d4_11"/><use href="#d5_11"/><use href="#d6_11"/><use href="#d7_11"/><use href="#d8_8"/><use href="#d8_9"/><use href="#d8_10"/><use href="#d8_11"/><use href="#d9_8"/><use href="#d9_9"/><use href="#d9_10"/><use href="#d9_11"/><use href="#d10_8"/><use href="#d10_9"/><use href="#d10_10"/><use href="#d10_11"/><use href="#d11_8"/><use href="#d11_9"/><use href="#d11_10"/><use href="#d11_11"/><use href="#d12_4"/><use href="#d12_5"/><use href="#d12_6"/><use href="#d12_7"/><use href="#d12_8"/><use href="#d12_9"/><use href="#d12_10"/><use href="#d12_11"/><use href="#d13_4"/><use href="#d13_5"/><use href="#d13_6"/><use href="#d13_7"/><use href="#d13_8"/><use href="#d13_9"/><use href="#d13_10"/><use href="#d13_11"/><use href="#d14_4"/><use href="#d14_5"/><use href="#d14_6"/><use href="#d14_7"/><use href="#d14_8"/><use href="#d14_9"/><use href="#d14_10"/><use href="#d14_11"/><use href="#d15_4"/><use href="#d15_5"/><use href="#d15_6"/><use href="#d15_7"/><use href="#d15_8"/><use href="#d15_9"/><use href="#d15_10"/><use href="#d15_11"/><use href="#d16_4"/><use href="#d16_5"/><use href="#d16_6"/><use href="#d16_7"/><use href="#d16_8"/><use href="#d16_9"/><use href="#d16_10"/><use href="#d16_11"/><use href="#d17_4"/><use href="#d17_5"/><use href="#d17_6"/><use href="#d17_7"/><use href="#d17_8"/><use href="#d17_9"/><use href="#d17_10"/><use href="#d17_11"/><use href="#d18_4"/><use href="#d18_5"/><use href="#d18_6"/><use href="#d18_7"/><use href="#d18_8"/><use href="#d18_9"/><use href="#d18_10"/><use href="#d18_11"/><use href="#d19_4"/><use href="#d19_5"/><use href="#d19_6"/><use href="#d19_7"/><use href="#d19_8"/><use href="#d19_9"/><use href="#d19_10"/><use href="#d19_11"/><use href="#d20_4"/><use href="#d20_5"/><use href="#d20_6"/><use href="#d20_7"/><use href="#d20_8"/><use href="#d20_9"/><use href="#d20_10"/><use href="#d20_11"/><use href="#d21_4"/><use href="#d21_5"/><use href="#d21_6"/><use href="#d21_7"/><use href="#d21_8"/><use href="#d21_9"/><use href="#d21_10"/><use href="#d21_11"/><use href="#d22_4"/><use href="#d22_5"/><use href="#d22_6"/><use href="#d22_8"/><use href="#d22_9"/><use href="#d22_10"/><use href="#d22_11"/><use href="#d23_5"/><use href="#d23_8"/><use href="#d23_11"/></g><g stroke="#eb6c87"><use href="#d0_0"/><use href="#d0_2"/><use href="#d0_3"/><use href="#d1_0"/><use href="#d1_1"/><use href="#d1_2"/><use href="#d1_3"/><use href="#d2_0"/><use href="#d2_1"/><use href="#d2_2"/><use href="#d2_3"/><use href="#d3_0"/><use href="#d3_1"/><use href="#d3_2"/><use href="#d3_3"/><use href="#d4_0"/><use href="#d4_1"/><use href="#d4_2"/><use href="#d4_3"/><use href="#d5_0"/><use href="#d5_1"/><use href="#d5_2"/><use href="#d5_3"/><use href="#d6_0"/><use href="#d6_1"/><use href="#d6_2"/><use href="#d6_3"/><use href="#d7_0"/><use href="#d7_1"/><use href="#d7_2"/><use href="#d7_3"/><use href="#d8_0"/><use href="#d9_0"/><use href="#d10_0"/><use href="#d11_0"/></g><g stroke="#f09aab"><use href="#d0_4"/><use href="#d0_6"/><use href="#d0_7"/><use href="#d1_4"/><use href="#d1_5"/><use href="#d1_6"/><use href="#d1_7"/><use href="#d2_4"/><use href="#d2_5"/><use href="#d2_6"/><use href="#d2_7"/><use href="#d3_4"/><use href="#d3_5"/><use href="#d3_6"/><use href="#d3_7"/><use href="#d4_4"/><use href="#d4_5"/><use href="#d4_6"/><use href="#d4_7"/><use href="#d5_4"/><use href="#d5_5"/><use href="#d5_6"/><use href="#d5_7"/><use href="#d6_4"/><use href="#d6_5"/><use href="#d6_6"/><use href="#d6_7"/><use href="#d7_4"/><use href="#d7_5"/><use href="#d7_6"/><use href="#d7_7"/><use href="#d8_1"/><use href="#d8_2"/><use href="#d8_3"/><use href="#d8_4"/><use href="#d9_1"/><use href="#d9_2"/><use href="#d9_3"/><use href="#d9_4"/><use href="#d10_1"/><use href="#d10_2"/><use href="#d10_3"/><use href="#d10_4"/><use href="#d11_1"/><use href="#d11_2"/><use href="#d11_3"/><use href="#d11_4"/><use href="#d12_0"/><use href="#d13_0"/><use href="#d14_0"/><use href="#d15_0"/><use href="#d16_0"/><use href="#d17_0"/><use href="#d18_0"/><use href="#d19_0"/><use href="#d20_0"/><use href="#d21_0"/><use href="#d22_0"/></g><g stroke="#e53e64"><use href="#d0_8"/><use href="#d1_8"/><use href="#d2_8"/><use href="#d3_8"/><use href="#d4_8"/><use href="#d5_8"/><use href="#d6_8"/><use href="#d7_8"/></g><g stroke="#f4c4cd"><use href="#d0_9"/><use href="#d0_10"/><use href="#d1_9"/><use href="#d2_9"/><use href="#d2_10"/><use href="#d3_9"/><use href="#d3_10"/><use href="#d4_9"/><use href="#d4_10"/><use href="#d5_9"/><use href="#d5_10"/><use href="#d6_9"/><use href="#d6_10"/><use href="#d7_9"/><use href="#d7_10"/><use href="#d8_5"/><use href="#d8_6"/><use href="#d8_7"/><use href="#d9_5"/><use href="#d9_6"/><use href="#d9_7"/><use href="#d10_5"/><use href="#d10_6"/><use href="#d10_7"/><use href="#d11_5"/><use href="#d11_6"/><use href="#d11_7"/><use href="#d12_1"/><use href="#d12_2"/><use href="#d12_3"/><use href="#d13_1"/><use href="#d13_2"/><use href="#d13_3"/><use href="#d14_1"/><use href="#d14_2"/><use href="#d14_3"/><use href="#d15_1"/><use href="#d15_2"/><use href="#d15_3"/><use href="#d16_1"/><use href="#d16_2"/><use href="#d16_3"/><use href="#d17_1"/><use href="#d17_2"/><use href="#d17_3"/><use href="#d18_1"/><use href="#d18_2"/><use href="#d18_3"/><use href="#d19_1"/><use href="#d19_2"/><use href="#d19_3"/><use href="#d20_1"/><use href="#d20_2"/><use href="#d20_3"/><use href="#d21_1"/><use href="#d21_2"/><use href="#d21_3"/><use href="#d22_1"/><use href="#d22_2"/><use href="#d22_3"/><use href="#d23_1"/><use href="#d23_2"/></g></g></g>
<text x="1166.7" y="1008.2" font-size="20.5">time point</text>
<circle cx="1174.3" cy="1034.8" r="10" fill="#405f8c"/>
<circle cx="1174.3" cy="1067.7" r="10" fill="#da424b"/>
<text x="1198.4" y="1042.4" font-size="20.5">indolent</text>
<text x="1198.4" y="1074.1" font-size="20.5">active</text>
<text x="1166.1" y="1163.4" font-size="20.5">gene</text>
<text x="1166.1" y="1186.5" font-size="20.5">expression</text>
<defs><linearGradient id="gG" x1="0" x2="0" y1="0" y2="1"><stop offset="0" stop-color="#f0185a"/><stop offset="0.5" stop-color="#f48c9e"/><stop offset="1" stop-color="#dcdcdc"/></linearGradient></defs>
<rect x="1166.1" y="1203.3" width="20.1" height="100.7" fill="url(#gG)"/>
<text x="1193.8" y="1216.4" font-size="20.5">max</text>
<text x="1193.8" y="1300" font-size="20.5">min</text>
<text x="1456.5" y="963" class="tb" font-size="20.5" text-anchor="middle">time point</text>
<g fill="none" stroke-width="2.6" stroke-linecap="round"><g transform="translate(0.0,0.0)"><g stroke="#da424b"><use href="#e0_0"/><use href="#e0_1"/><use href="#e0_2"/><use href="#e0_3"/><use href="#e0_5"/><use href="#e0_6"/><use href="#e0_7"/><use href="#e0_8"/><use href="#e1_0"/><use href="#e1_1"/><use href="#e1_2"/><use href="#e1_3"/><use href="#e1_4"/><use href="#e1_5"/><use href="#e1_6"/><use href="#e1_7"/><use href="#e1_8"/><use href="#e1_9"/><use href="#e2_7"/><use href="#e2_8"/><use href="#e2_9"/><use href="#e2_10"/><use href="#e2_11"/><use href="#e3_10"/><use href="#e3_11"/></g><g stroke="#405f8c"><use href="#e0_9"/><use href="#e0_10"/><use href="#e0_11"/><use href="#e1_10"/><use href="#e1_11"/><use href="#e2_0"/><use href="#e2_1"/><use href="#e2_2"/><use href="#e2_3"/><use href="#e2_4"/><use href="#e2_5"/><use href="#e2_6"/><use href="#e3_0"/><use href="#e3_1"/><use href="#e3_2"/><use href="#e3_3"/><use href="#e3_4"/><use href="#e3_5"/><use href="#e3_6"/><use href="#e3_7"/><use href="#e3_8"/><use href="#e3_9"/></g></g></g>
<text x="1665.2" y="963" class="tb" font-size="20.5" text-anchor="middle">PTPRC</text>
<g fill="none" stroke-width="2.6" stroke-linecap="round"><g transform="translate(212.2,0.0)"><g stroke="#dcdcdc"><use href="#e0_0"/><use href="#e0_1"/><use href="#e0_2"/><use href="#e0_3"/><use href="#e0_5"/><use href="#e0_6"/><use href="#e0_7"/><use href="#e1_0"/><use href="#e1_1"/><use href="#e1_2"/><use href="#e1_3"/><use href="#e1_4"/><use href="#e1_5"/><use href="#e1_6"/><use href="#e1_7"/><use href="#e1_8"/><use href="#e1_9"/><use href="#e1_10"/><use href="#e2_10"/><use href="#e2_11"/><use href="#e3_10"/><use href="#e3_11"/></g><g stroke="#f09aab"><use href="#e0_8"/><use href="#e0_9"/><use href="#e0_10"/><use href="#e0_11"/><use href="#e1_11"/><use href="#e2_4"/><use href="#e2_5"/><use href="#e2_6"/><use href="#e3_4"/><use href="#e3_5"/><use href="#e3_6"/></g><g stroke="#eb6c87"><use href="#e2_0"/><use href="#e2_1"/><use href="#e2_2"/><use href="#e2_3"/><use href="#e3_0"/><use href="#e3_1"/><use href="#e3_2"/><use href="#e3_3"/></g><g stroke="#f4c4cd"><use href="#e2_7"/><use href="#e2_8"/><use href="#e2_9"/><use href="#e3_7"/><use href="#e3_8"/><use href="#e3_9"/></g></g></g>
<text x="1877.4" y="963" class="tb" font-size="20.5" text-anchor="middle">MAL</text>
<g fill="none" stroke-width="2.6" stroke-linecap="round"><g transform="translate(424.4,0.0)"><g stroke="#dcdcdc"><use href="#e2_5"/><use href="#e2_6"/><use href="#e2_7"/><use href="#e2_8"/><use href="#e2_9"/><use href="#e3_5"/><use href="#e3_6"/><use href="#e3_7"/><use href="#e3_8"/><use href="#e3_9"/></g><g stroke="#eb6c87"><use href="#e0_0"/><use href="#e0_1"/><use href="#e0_2"/><use href="#e0_3"/><use href="#e0_5"/><use href="#e1_0"/><use href="#e1_1"/><use href="#e1_2"/><use href="#e1_3"/><use href="#e1_4"/></g><g stroke="#f09aab"><use href="#e0_6"/><use href="#e0_7"/><use href="#e0_8"/><use href="#e0_9"/><use href="#e0_10"/><use href="#e0_11"/><use href="#e1_7"/><use href="#e1_8"/><use href="#e1_9"/><use href="#e1_10"/><use href="#e2_10"/><use href="#e2_11"/><use href="#e3_10"/><use href="#e3_11"/></g><g stroke="#e53e64"><use href="#e1_5"/><use href="#e1_6"/></g><g stroke="#f4c4cd"><use href="#e1_11"/><use href="#e2_0"/><use href="#e2_1"/><use href="#e2_2"/><use href="#e2_3"/><use href="#e2_4"/><use href="#e3_0"/><use href="#e3_1"/><use href="#e3_2"/><use href="#e3_3"/><use href="#e3_4"/></g></g></g>
<text x="1453.0" y="1163.4" class="tb" font-size="20.5" text-anchor="middle">RTKN2</text>
<g fill="none" stroke-width="2.6" stroke-linecap="round"><g transform="translate(0.0,203.0)"><g stroke="#dcdcdc"><use href="#e0_0"/><use href="#e0_1"/><use href="#e0_2"/><use href="#e0_3"/><use href="#e0_5"/><use href="#e0_6"/><use href="#e1_0"/><use href="#e1_1"/><use href="#e1_2"/><use href="#e1_3"/><use href="#e1_4"/><use href="#e1_5"/><use href="#e1_6"/><use href="#e1_7"/><use href="#e1_8"/><use href="#e1_9"/><use href="#e1_10"/><use href="#e2_9"/><use href="#e2_10"/><use href="#e2_11"/><use href="#e3_9"/><use href="#e3_10"/><use href="#e3_11"/></g><g stroke="#f09aab"><use href="#e0_7"/><use href="#e0_8"/><use href="#e0_9"/><use href="#e0_10"/><use href="#e0_11"/><use href="#e1_11"/><use href="#e2_0"/><use href="#e2_1"/><use href="#e2_2"/><use href="#e2_3"/><use href="#e3_0"/><use href="#e3_1"/><use href="#e3_2"/><use href="#e3_3"/></g><g stroke="#f4c4cd"><use href="#e2_4"/><use href="#e2_5"/><use href="#e2_6"/><use href="#e2_7"/><use href="#e3_4"/><use href="#e3_5"/><use href="#e3_6"/><use href="#e3_7"/></g><g stroke="#eb6c87"><use href="#e2_8"/><use href="#e3_8"/></g></g></g>
<text x="1665.2" y="1163.4" class="tb" font-size="20.5" text-anchor="middle">NSMCE1</text>
<g fill="none" stroke-width="2.6" stroke-linecap="round"><g transform="translate(212.2,203.0)"><g stroke="#dcdcdc"><use href="#e2_5"/><use href="#e2_6"/><use href="#e2_7"/><use href="#e2_8"/><use href="#e2_9"/><use href="#e3_5"/><use href="#e3_6"/><use href="#e3_7"/><use href="#e3_8"/><use href="#e3_9"/></g><g stroke="#eb6c87"><use href="#e0_0"/><use href="#e0_1"/><use href="#e0_2"/><use href="#e0_3"/><use href="#e0_5"/><use href="#e0_6"/><use href="#e1_0"/><use href="#e1_1"/><use href="#e1_2"/><use href="#e1_3"/><use href="#e1_4"/></g><g stroke="#f09aab"><use href="#e0_7"/><use href="#e0_8"/><use href="#e0_9"/><use href="#e0_10"/><use href="#e0_11"/><use href="#e1_8"/><use href="#e1_9"/><use href="#e1_10"/><use href="#e2_10"/><use href="#e2_11"/><use href="#e3_10"/><use href="#e3_11"/></g><g stroke="#e53e64"><use href="#e1_5"/><use href="#e1_6"/><use href="#e1_7"/></g><g stroke="#f4c4cd"><use href="#e1_11"/><use href="#e2_0"/><use href="#e2_1"/><use href="#e2_2"/><use href="#e2_3"/><use href="#e2_4"/><use href="#e3_0"/><use href="#e3_1"/><use href="#e3_2"/><use href="#e3_3"/><use href="#e3_4"/></g></g></g>
<text x="1877.4" y="1163.4" class="tb" font-size="20.5" text-anchor="middle">ARID5B</text>
<g fill="none" stroke-width="2.6" stroke-linecap="round"><g transform="translate(424.4,203.0)"><g stroke="#dcdcdc"><use href="#e0_0"/><use href="#e0_1"/><use href="#e0_2"/><use href="#e0_3"/><use href="#e0_5"/><use href="#e0_6"/><use href="#e1_0"/><use href="#e1_1"/><use href="#e1_2"/><use href="#e1_3"/><use href="#e1_4"/><use href="#e1_5"/><use href="#e1_6"/><use href="#e1_7"/><use href="#e1_8"/><use href="#e1_9"/><use href="#e1_10"/><use href="#e2_10"/><use href="#e2_11"/><use href="#e3_10"/><use href="#e3_11"/></g><g stroke="#f09aab"><use href="#e0_7"/><use href="#e0_8"/><use href="#e0_9"/><use href="#e0_10"/><use href="#e0_11"/><use href="#e1_11"/><use href="#e2_4"/><use href="#e2_5"/><use href="#e2_6"/><use href="#e2_7"/><use href="#e3_4"/><use href="#e3_5"/><use href="#e3_6"/><use href="#e3_7"/></g><g stroke="#eb6c87"><use href="#e2_0"/><use href="#e2_1"/><use href="#e2_2"/><use href="#e2_3"/><use href="#e3_0"/><use href="#e3_1"/><use href="#e3_2"/><use href="#e3_3"/></g><g stroke="#f4c4cd"><use href="#e2_8"/><use href="#e2_9"/><use href="#e3_8"/><use href="#e3_9"/></g></g></g>
<text x="1453.0" y="1366.3" class="tb" font-size="20.5" text-anchor="middle">LY6E</text>
<g fill="none" stroke-width="2.6" stroke-linecap="round"><g transform="translate(0.0,406.0)"><g stroke="#dcdcdc"><use href="#e2_10"/><use href="#e2_11"/><use href="#e3_10"/><use href="#e3_11"/></g><g stroke="#f09aab"><use href="#e0_0"/><use href="#e0_1"/><use href="#e0_2"/><use href="#e0_3"/><use href="#e0_5"/><use href="#e0_6"/><use href="#e1_7"/><use href="#e1_8"/><use href="#e1_9"/><use href="#e1_10"/><use href="#e2_0"/><use href="#e2_1"/><use href="#e2_2"/><use href="#e2_3"/><use href="#e2_4"/><use href="#e3_0"/><use href="#e3_1"/><use href="#e3_2"/><use href="#e3_3"/><use href="#e3_4"/></g><g stroke="#eb6c87"><use href="#e0_7"/><use href="#e0_8"/><use href="#e0_9"/><use href="#e0_10"/><use href="#e0_11"/><use href="#e1_0"/><use href="#e1_1"/><use href="#e1_2"/><use href="#e1_3"/><use href="#e1_4"/><use href="#e2_9"/><use href="#e3_9"/></g><g stroke="#e53e64"><use href="#e1_5"/><use href="#e1_6"/></g><g stroke="#f4c4cd"><use href="#e1_11"/><use href="#e2_5"/><use href="#e2_6"/><use href="#e2_7"/><use href="#e2_8"/><use href="#e3_5"/><use href="#e3_6"/><use href="#e3_7"/><use href="#e3_8"/></g></g></g>
<text x="1665.2" y="1366.3" class="tb" font-size="20.5" text-anchor="middle">COX6C</text>
<g fill="none" stroke-width="2.6" stroke-linecap="round"><g transform="translate(212.2,406.0)"><g stroke="#eb6c87"><use href="#e0_0"/><use href="#e0_1"/><use href="#e0_2"/><use href="#e0_3"/><use href="#e0_5"/><use href="#e0_6"/><use href="#e1_0"/><use href="#e1_1"/><use href="#e1_2"/><use href="#e1_3"/><use href="#e1_4"/><use href="#e1_5"/><use href="#e2_0"/><use href="#e2_1"/><use href="#e2_2"/><use href="#e2_3"/><use href="#e3_0"/><use href="#e3_1"/><use href="#e3_2"/><use href="#e3_3"/></g><g stroke="#e53e64"><use href="#e0_7"/><use href="#e0_8"/><use href="#e0_9"/><use href="#e0_10"/><use href="#e0_11"/><use href="#e1_6"/><use href="#e1_7"/><use href="#e1_8"/><use href="#e2_11"/><use href="#e3_11"/></g><g stroke="#f09aab"><use href="#e1_9"/><use href="#e1_10"/><use href="#e1_11"/><use href="#e2_4"/><use href="#e2_5"/><use href="#e2_6"/><use href="#e2_7"/><use href="#e2_8"/><use href="#e3_4"/><use href="#e3_5"/><use href="#e3_6"/><use href="#e3_7"/><use href="#e3_8"/></g><g stroke="#f4c4cd"><use href="#e2_9"/><use href="#e2_10"/><use href="#e3_9"/><use href="#e3_10"/></g></g></g>
<text x="1877.4" y="1366.3" class="tb" font-size="20.5" text-anchor="middle">NELL2</text>
<g fill="none" stroke-width="2.6" stroke-linecap="round"><g transform="translate(424.4,406.0)"><g stroke="#dcdcdc"><use href="#e0_0"/><use href="#e0_1"/><use href="#e0_2"/><use href="#e0_3"/><use href="#e0_5"/><use href="#e0_6"/><use href="#e0_7"/><use href="#e0_8"/><use href="#e0_9"/><use href="#e1_0"/><use href="#e1_1"/><use href="#e1_2"/><use href="#e1_3"/><use href="#e1_4"/><use href="#e1_5"/><use href="#e1_6"/><use href="#e1_7"/><use href="#e1_8"/><use href="#e1_9"/><use href="#e1_10"/><use href="#e2_7"/><use href="#e2_8"/><use href="#e2_9"/><use href="#e2_10"/><use href="#e2_11"/><use href="#e3_7"/><use href="#e3_8"/><use href="#e3_9"/><use href="#e3_10"/><use href="#e3_11"/></g><g stroke="#f09aab"><use href="#e0_10"/><use href="#e0_11"/><use href="#e1_11"/><use href="#e2_4"/><use href="#e2_5"/><use href="#e2_6"/><use href="#e3_4"/><use href="#e3_5"/><use href="#e3_6"/></g><g stroke="#f4c4cd"><use href="#e2_0"/><use href="#e2_1"/><use href="#e2_2"/><use href="#e2_3"/><use href="#e3_0"/><use href="#e3_1"/><use href="#e3_2"/><use href="#e3_3"/></g></g></g>
<path d="M941.5,1471.4V1519.4H990.6" fill="none" stroke="#000" stroke-width="2.6"/>
<path d="M941.5,1463.4l-5,11h10z M998.6,1519.4l-11,-5v10z" fill="#000"/>
<text x="940.0" y="1544.9" font-size="15.5">tSNE1</text>
<text transform="translate(929.5,1521.4) rotate(-90)" font-size="15.5">tSNE2</text>
<path d="M1352.4,1472.9V1520.9H1400.8" fill="none" stroke="#000" stroke-width="2.6"/>
<path d="M1352.4,1464.9l-5,11h10z M1408.8,1520.9l-11,-5v10z" fill="#000"/>
<text x="1350.9" y="1546.4" font-size="15.5">tSNE1</text>
<text transform="translate(1340.4,1522.9) rotate(-90)" font-size="15.5">tSNE2</text>
<text x="1" y="1634.2" class="lbl" font-size="58">F</text>
<text x="180" y="1632.6" class="tb" font-size="27" textLength="894" lengthAdjust="spacingAndGlyphs">pair 1 surface activation markers upon anti-CD3/CD28 crosslinking</text>
<rect x="177.60000000000002" y="1687.6" width="22.9" height="22.2" fill="#456590" stroke="#000" stroke-width="1.8"/>
<text x="209.7" y="1706.8" font-size="24">indolent</text>
<rect x="336.3" y="1687.6" width="22.9" height="22.2" fill="#98b0d3" stroke="#000" stroke-width="1.8"/>
<text x="368.4" y="1706.8" font-size="24">indolent CD45 neg.</text>
<rect x="336.3" y="1725.3" width="22.9" height="22.2" fill="#151f2c" stroke="#000" stroke-width="1.8"/>
<text x="368.4" y="1744.5" font-size="24">indolent CD45 pos.</text>
<rect x="686.0" y="1687.6" width="22.9" height="22.2" fill="#dc464e" stroke="#000" stroke-width="1.8"/>
<text x="718.1" y="1706.8" font-size="24">active</text>
<rect x="818.8" y="1687.6" width="22.9" height="22.2" fill="#f4b9be" stroke="#000" stroke-width="1.8"/>
<text x="850.9" y="1706.8" font-size="24">active CD45 neg.</text>
<rect x="818.8" y="1725.3" width="22.9" height="22.2" fill="#861c21" stroke="#000" stroke-width="1.8"/>
<text x="850.9" y="1744.5" font-size="24">active CD45 pos.</text>
<rect x="139.0" y="2049.8" width="15.6" height="1.2" fill="#456590" stroke="#000" stroke-width="2.3"/>
<rect x="164.0" y="2049.8" width="15.6" height="1.2" fill="#151f2c" stroke="#000" stroke-width="2.3"/>
<rect x="189.0" y="2049.8" width="15.6" height="1.2" fill="#98b0d3" stroke="#000" stroke-width="2.3"/>
<rect x="214.0" y="2049.8" width="15.6" height="1.2" fill="#dc464e" stroke="#000" stroke-width="2.3"/>
<rect x="239.0" y="2049.8" width="15.6" height="1.2" fill="#861c21" stroke="#000" stroke-width="2.3"/>
<rect x="264.0" y="2049.8" width="15.6" height="1.2" fill="#f4b9be" stroke="#000" stroke-width="2.3"/>
<rect x="306.5" y="2049.5" width="15.6" height="1.5" fill="#456590" stroke="#000" stroke-width="2.3"/>
<rect x="331.5" y="2049.5" width="15.6" height="1.5" fill="#151f2c" stroke="#000" stroke-width="2.3"/>
<rect x="356.5" y="2049.5" width="15.6" height="1.5" fill="#98b0d3" stroke="#000" stroke-width="2.3"/>
<rect x="381.5" y="2049.5" width="15.6" height="1.5" fill="#dc464e" stroke="#000" stroke-width="2.3"/>
<rect x="406.5" y="2049.5" width="15.6" height="1.5" fill="#861c21" stroke="#000" stroke-width="2.3"/>
<rect x="431.5" y="2049.5" width="15.6" height="1.5" fill="#f4b9be" stroke="#000" stroke-width="2.3"/>
<rect x="474.0" y="2022.0" width="15.6" height="29.0" fill="#456590" stroke="#000" stroke-width="2.3"/>
<rect x="499.0" y="2019.1" width="15.6" height="31.9" fill="#151f2c" stroke="#000" stroke-width="2.3"/>
<rect x="524.0" y="2048.1" width="15.6" height="2.9" fill="#98b0d3" stroke="#000" stroke-width="2.3"/>
<rect x="549.0" y="2045.2" width="15.6" height="5.8" fill="#dc464e" stroke="#000" stroke-width="2.3"/>
<rect x="574.0" y="2040.8" width="15.6" height="10.2" fill="#861c21" stroke="#000" stroke-width="2.3"/>
<rect x="599.0" y="2048.1" width="15.6" height="2.9" fill="#f4b9be" stroke="#000" stroke-width="2.3"/>
<rect x="641.5" y="1924.0" width="15.6" height="127.0" fill="#456590" stroke="#000" stroke-width="2.3"/>
<rect x="666.5" y="1905.8" width="15.6" height="145.2" fill="#151f2c" stroke="#000" stroke-width="2.3"/>
<rect x="691.5" y="2048.8" width="15.6" height="2.2" fill="#98b0d3" stroke="#000" stroke-width="2.3"/>
<rect x="716.5" y="2033.6" width="15.6" height="17.4" fill="#dc464e" stroke="#000" stroke-width="2.3"/>
<rect x="741.5" y="2008.9" width="15.6" height="42.1" fill="#861c21" stroke="#000" stroke-width="2.3"/>
<rect x="766.5" y="2043.7" width="15.6" height="7.3" fill="#f4b9be" stroke="#000" stroke-width="2.3"/>
<rect x="809.0" y="1901.4" width="15.6" height="149.6" fill="#456590" stroke="#000" stroke-width="2.3"/>
<rect x="834.0" y="1880.4" width="15.6" height="170.6" fill="#151f2c" stroke="#000" stroke-width="2.3"/>
<rect x="859.0" y="2046.6" width="15.6" height="4.4" fill="#98b0d3" stroke="#000" stroke-width="2.3"/>
<rect x="884.0" y="2033.6" width="15.6" height="17.4" fill="#dc464e" stroke="#000" stroke-width="2.3"/>
<rect x="909.0" y="2005.3" width="15.6" height="45.7" fill="#861c21" stroke="#000" stroke-width="2.3"/>
<rect x="934.0" y="2044.5" width="15.6" height="6.5" fill="#f4b9be" stroke="#000" stroke-width="2.3"/>
<rect x="976.5" y="1812.9" width="15.6" height="238.1" fill="#456590" stroke="#000" stroke-width="2.3"/>
<rect x="1001.5" y="1780.9" width="15.6" height="270.1" fill="#151f2c" stroke="#000" stroke-width="2.3"/>
<rect x="1026.5" y="2048.1" width="15.6" height="2.9" fill="#98b0d3" stroke="#000" stroke-width="2.3"/>
<rect x="1051.5" y="2026.3" width="15.6" height="24.7" fill="#dc464e" stroke="#000" stroke-width="2.3"/>
<rect x="1076.5" y="1976.2" width="15.6" height="74.8" fill="#861c21" stroke="#000" stroke-width="2.3"/>
<rect x="1101.5" y="2046.6" width="15.6" height="4.4" fill="#f4b9be" stroke="#000" stroke-width="2.3"/>
<path d="M132.2,1759.3999999999999V2051.0M121,2051.0H1126" stroke="#000" stroke-width="2.5" fill="none"/>
<line x1="121" y1="2051.0" x2="132.2" y2="2051.0" stroke="#000" stroke-width="2.5"/>
<text x="113.5" y="2059.5" font-size="24" text-anchor="end">0</text>
<line x1="121" y1="1978.4" x2="132.2" y2="1978.4" stroke="#000" stroke-width="2.5"/>
<text x="113.5" y="1986.9" font-size="24" text-anchor="end">10</text>
<line x1="121" y1="1905.8" x2="132.2" y2="1905.8" stroke="#000" stroke-width="2.5"/>
<text x="113.5" y="1914.3" font-size="24" text-anchor="end">20</text>
<line x1="121" y1="1833.2" x2="132.2" y2="1833.2" stroke="#000" stroke-width="2.5"/>
<text x="113.5" y="1841.7" font-size="24" text-anchor="end">30</text>
<line x1="121" y1="1760.6" x2="132.2" y2="1760.6" stroke="#000" stroke-width="2.5"/>
<text x="113.5" y="1769.1" font-size="24" text-anchor="end">40</text>
<line x1="209.3" y1="2051.0" x2="209.3" y2="2059.0" stroke="#000" stroke-width="2.5"/>
<text x="207.3" y="2081.3" font-size="24" text-anchor="middle">0h</text>
<line x1="376.8" y1="2051.0" x2="376.8" y2="2059.0" stroke="#000" stroke-width="2.5"/>
<text x="374.8" y="2081.3" font-size="24" text-anchor="middle">4h</text>
<line x1="544.3" y1="2051.0" x2="544.3" y2="2059.0" stroke="#000" stroke-width="2.5"/>
<text x="542.3" y="2081.3" font-size="24" text-anchor="middle">8h</text>
<line x1="711.8" y1="2051.0" x2="711.8" y2="2059.0" stroke="#000" stroke-width="2.5"/>
<text x="709.8" y="2081.3" font-size="24" text-anchor="middle">24h</text>
<line x1="879.3" y1="2051.0" x2="879.3" y2="2059.0" stroke="#000" stroke-width="2.5"/>
<text x="877.3" y="2081.3" font-size="24" text-anchor="middle">32h</text>
<line x1="1046.8" y1="2051.0" x2="1046.8" y2="2059.0" stroke="#000" stroke-width="2.5"/>
<text x="1044.8" y="2081.3" font-size="24" text-anchor="middle">48h</text>
<text transform="translate(26.8,1906.5) rotate(-90)" font-size="25.8" text-anchor="middle">CD25 surface expression</text>
<text transform="translate(56.2,1906.5) rotate(-90)" font-size="25.8" text-anchor="middle">[% pos. cells]</text>
<rect x="139.0" y="2371.6" width="15.6" height="18.6" fill="#456590" stroke="#000" stroke-width="2.3"/>
<rect x="164.0" y="2369.4" width="15.6" height="20.8" fill="#151f2c" stroke="#000" stroke-width="2.3"/>
<rect x="189.0" y="2389.0" width="15.6" height="1.2" fill="#98b0d3" stroke="#000" stroke-width="2.3"/>
<rect x="214.0" y="2385.8" width="15.6" height="4.4" fill="#dc464e" stroke="#000" stroke-width="2.3"/>
<rect x="239.0" y="2377.4" width="15.6" height="12.8" fill="#861c21" stroke="#000" stroke-width="2.3"/>
<rect x="264.0" y="2389.0" width="15.6" height="1.2" fill="#f4b9be" stroke="#000" stroke-width="2.3"/>
<rect x="306.5" y="2214.5" width="15.6" height="175.7" fill="#456590" stroke="#000" stroke-width="2.3"/>
<rect x="331.5" y="2192.3" width="15.6" height="197.9" fill="#151f2c" stroke="#000" stroke-width="2.3"/>
<rect x="356.5" y="2383.3" width="15.6" height="6.9" fill="#98b0d3" stroke="#000" stroke-width="2.3"/>
<rect x="381.5" y="2350.8" width="15.6" height="39.4" fill="#dc464e" stroke="#000" stroke-width="2.3"/>
<rect x="406.5" y="2271.4" width="15.6" height="118.8" fill="#861c21" stroke="#000" stroke-width="2.3"/>
<rect x="431.5" y="2384.7" width="15.6" height="5.5" fill="#f4b9be" stroke="#000" stroke-width="2.3"/>
<rect x="474.0" y="2172.6" width="15.6" height="217.6" fill="#456590" stroke="#000" stroke-width="2.3"/>
<rect x="499.0" y="2145.6" width="15.6" height="244.6" fill="#151f2c" stroke="#000" stroke-width="2.3"/>
<rect x="524.0" y="2376.0" width="15.6" height="14.2" fill="#98b0d3" stroke="#000" stroke-width="2.3"/>
<rect x="549.0" y="2350.1" width="15.6" height="40.1" fill="#dc464e" stroke="#000" stroke-width="2.3"/>
<rect x="574.0" y="2263.0" width="15.6" height="127.2" fill="#861c21" stroke="#000" stroke-width="2.3"/>
<rect x="599.0" y="2385.8" width="15.6" height="4.4" fill="#f4b9be" stroke="#000" stroke-width="2.3"/>
<rect x="641.5" y="2170.8" width="15.6" height="219.4" fill="#456590" stroke="#000" stroke-width="2.3"/>
<rect x="666.5" y="2140.2" width="15.6" height="250.0" fill="#151f2c" stroke="#000" stroke-width="2.3"/>
<rect x="691.5" y="2377.1" width="15.6" height="13.1" fill="#98b0d3" stroke="#000" stroke-width="2.3"/>
<rect x="716.5" y="2346.8" width="15.6" height="43.4" fill="#dc464e" stroke="#000" stroke-width="2.3"/>
<rect x="741.5" y="2260.8" width="15.6" height="129.4" fill="#861c21" stroke="#000" stroke-width="2.3"/>
<rect x="766.5" y="2381.8" width="15.6" height="8.4" fill="#f4b9be" stroke="#000" stroke-width="2.3"/>
<rect x="809.0" y="2173.3" width="15.6" height="216.9" fill="#456590" stroke="#000" stroke-width="2.3"/>
<rect x="834.0" y="2144.2" width="15.6" height="246.0" fill="#151f2c" stroke="#000" stroke-width="2.3"/>
<rect x="859.0" y="2377.1" width="15.6" height="13.1" fill="#98b0d3" stroke="#000" stroke-width="2.3"/>
<rect x="884.0" y="2350.1" width="15.6" height="40.1" fill="#dc464e" stroke="#000" stroke-width="2.3"/>
<rect x="909.0" y="2266.3" width="15.6" height="123.9" fill="#861c21" stroke="#000" stroke-width="2.3"/>
<rect x="934.0" y="2383.6" width="15.6" height="6.6" fill="#f4b9be" stroke="#000" stroke-width="2.3"/>
<rect x="976.5" y="2168.9" width="15.6" height="221.3" fill="#456590" stroke="#000" stroke-width="2.3"/>
<rect x="1001.5" y="2140.9" width="15.6" height="249.3" fill="#151f2c" stroke="#000" stroke-width="2.3"/>
<rect x="1026.5" y="2370.2" width="15.6" height="20.0" fill="#98b0d3" stroke="#000" stroke-width="2.3"/>
<rect x="1051.5" y="2349.0" width="15.6" height="41.2" fill="#dc464e" stroke="#000" stroke-width="2.3"/>
<rect x="1076.5" y="2257.9" width="15.6" height="132.3" fill="#861c21" stroke="#000" stroke-width="2.3"/>
<rect x="1101.5" y="2383.3" width="15.6" height="6.9" fill="#f4b9be" stroke="#000" stroke-width="2.3"/>
<path d="M131.3,2097.4V2390.2M121,2390.2H1126" stroke="#000" stroke-width="2.5" fill="none"/>
<line x1="121" y1="2390.2" x2="131.3" y2="2390.2" stroke="#000" stroke-width="2.5"/>
<text x="113.5" y="2398.7" font-size="24" text-anchor="end">0</text>
<line x1="121" y1="2317.3" x2="131.3" y2="2317.3" stroke="#000" stroke-width="2.5"/>
<text x="113.5" y="2325.8" font-size="24" text-anchor="end">20</text>
<line x1="121" y1="2244.4" x2="131.3" y2="2244.4" stroke="#000" stroke-width="2.5"/>
<text x="113.5" y="2252.9" font-size="24" text-anchor="end">40</text>
<line x1="121" y1="2171.5" x2="131.3" y2="2171.5" stroke="#000" stroke-width="2.5"/>
<text x="113.5" y="2180.0" font-size="24" text-anchor="end">60</text>
<line x1="121" y1="2098.6" x2="131.3" y2="2098.6" stroke="#000" stroke-width="2.5"/>
<text x="113.5" y="2107.1" font-size="24" text-anchor="end">80</text>
<line x1="209.3" y1="2390.2" x2="209.3" y2="2398.2" stroke="#000" stroke-width="2.5"/>
<text x="207.3" y="2423.9" font-size="24" text-anchor="middle">0h</text>
<line x1="376.8" y1="2390.2" x2="376.8" y2="2398.2" stroke="#000" stroke-width="2.5"/>
<text x="374.8" y="2423.9" font-size="24" text-anchor="middle">4h</text>
<line x1="544.3" y1="2390.2" x2="544.3" y2="2398.2" stroke="#000" stroke-width="2.5"/>
<text x="542.3" y="2423.9" font-size="24" text-anchor="middle">8h</text>
<line x1="711.8" y1="2390.2" x2="711.8" y2="2398.2" stroke="#000" stroke-width="2.5"/>
<text x="709.8" y="2423.9" font-size="24" text-anchor="middle">24h</text>
<line x1="879.3" y1="2390.2" x2="879.3" y2="2398.2" stroke="#000" stroke-width="2.5"/>
<text x="877.3" y="2423.9" font-size="24" text-anchor="middle">32h</text>
<line x1="1046.8" y1="2390.2" x2="1046.8" y2="2398.2" stroke="#000" stroke-width="2.5"/>
<text x="1044.8" y="2423.9" font-size="24" text-anchor="middle">48h</text>
<text transform="translate(24.5,2244.2) rotate(-90)" font-size="25.8" text-anchor="middle">CD69 surface expression</text>
<text transform="translate(54.4,2244.2) rotate(-90)" font-size="25.8" text-anchor="middle">[% pos. cells]</text>
<defs><filter id="bl" x="-20%" y="-50%" width="140%" height="200%"><feGaussianBlur stdDeviation="1.5"/></filter></defs>
<text x="1141" y="1633.5" class="lbl" font-size="58">G</text>
<text x="1664.3" y="1632.6" class="tb" font-size="26" text-anchor="middle" textLength="74.1" lengthAdjust="spacingAndGlyphs">pair 1</text>
<text x="1523" y="1673.2" class="tb" font-size="26" text-anchor="middle" style="fill:#3b5f95" textLength="95.6" lengthAdjust="spacingAndGlyphs">indolent</text>
<text x="1810.1" y="1673.2" class="tb" font-size="26" text-anchor="middle" style="fill:#d9434b" textLength="69.4" lengthAdjust="spacingAndGlyphs">active</text>
<path d="M1405.9,1685.2H1642.5M1693.2,1685.2H1929.4" stroke="#000" stroke-width="3"/>
<text x="1346" y="1685.2" font-size="25" text-anchor="end">anti-CD3/CD28</text>
<text x="1346" y="1715.3" font-size="25" text-anchor="end">time (min)</text>
<text x="1427.3" y="1718.7" font-size="20.5" text-anchor="middle">0’</text>
<text x="1476.1" y="1718.7" font-size="20.5" text-anchor="middle">5’</text>
<text x="1525.5" y="1718.7" font-size="20.5" text-anchor="middle">15’</text>
<text x="1574.8" y="1718.7" font-size="20.5" text-anchor="middle">30’</text>
<text x="1624.2" y="1718.7" font-size="20.5" text-anchor="middle">45’</text>
<text x="1706" y="1718.7" font-size="20.5" text-anchor="middle">0’</text>
<text x="1755.3" y="1718.7" font-size="20.5" text-anchor="middle">5’</text>
<text x="1804.7" y="1718.7" font-size="20.5" text-anchor="middle">15’</text>
<text x="1854.5" y="1718.7" font-size="20.5" text-anchor="middle">30’</text>
<text x="1902.9" y="1718.7" font-size="20.5" text-anchor="middle">45’</text>
<rect x="1374.8" y="1736" width="590" height="62.8" fill="#b7c9e2"/>
<rect x="1374.8" y="1842.3" width="590" height="64.0" fill="#b7c9e2"/>
<rect x="1374.8" y="1911.8" width="590" height="63.6" fill="#b7c9e2"/>
<rect x="1374.8" y="2018.2" width="590" height="64.2" fill="#b7c9e2"/>
<rect x="1374.8" y="2088.5" width="590" height="61.9" fill="#b7c9e2"/>
<rect x="1374.8" y="2195.3" width="590" height="63.6" fill="#b7c9e2"/>
<rect x="1374.8" y="2265" width="590" height="62.9" fill="#b7c9e2"/>
<rect x="1374.8" y="2372" width="590" height="68.0" fill="#b7c9e2"/>
<text x="1346" y="1773" font-size="25" text-anchor="end">pZAP70<tspan font-size="15.5" dy="-10">Y319</tspan></text>
<text x="1346" y="1876.9" font-size="25" text-anchor="end">ZAP70</text>
<text x="1346" y="1947.1" font-size="25" text-anchor="end">pPLCγ1<tspan font-size="15.5" dy="-10">Y783</tspan></text>
<text x="1346" y="2056" font-size="25" text-anchor="end">PLCγ1</text>
<text x="1346" y="2126.1" font-size="25" text-anchor="end">pMAPK1/2<tspan font-size="15.5" dy="-10">T202/Y204</tspan></text>
<text x="1346" y="2231.6" font-size="25" text-anchor="end">MAPK1/2</text>
<text x="1346" y="2300.3" font-size="25" text-anchor="end">IκBα</text>
<text x="1346" y="2406.8" font-size="25" text-anchor="end">β-actin</text>
<text x="1427.3" y="1826.8" font-size="20.5" text-anchor="middle">1.0</text>
<text x="1476.1" y="1826.8" font-size="20.5" text-anchor="middle">0.9</text>
<text x="1525.5" y="1826.8" font-size="20.5" text-anchor="middle">0.9</text>
<text x="1574.8" y="1826.8" font-size="20.5" text-anchor="middle">0.8</text>
<text x="1624.2" y="1826.8" font-size="20.5" text-anchor="middle">0.8</text>
<text x="1706" y="1826.8" font-size="20.5" text-anchor="middle">0.7</text>
<text x="1755.3" y="1826.8" font-size="20.5" text-anchor="middle">0.6</text>
<text x="1804.7" y="1826.8" font-size="20.5" text-anchor="middle">0.6</text>
<text x="1854.5" y="1826.8" font-size="20.5" text-anchor="middle">0.6</text>
<text x="1902.9" y="1826.8" font-size="20.5" text-anchor="middle">0.6</text>
<text x="1427.3" y="2001.9" font-size="20.5" text-anchor="middle">1.0</text>
<text x="1476.1" y="2001.9" font-size="20.5" text-anchor="middle">1.4</text>
<text x="1525.5" y="2001.9" font-size="20.5" text-anchor="middle">1.2</text>
<text x="1574.8" y="2001.9" font-size="20.5" text-anchor="middle">1.0</text>
<text x="1624.2" y="2001.9" font-size="20.5" text-anchor="middle">1.1</text>
<text x="1706" y="2001.9" font-size="20.5" text-anchor="middle">0.9</text>
<text x="1755.3" y="2001.9" font-size="20.5" text-anchor="middle">0.9</text>
<text x="1804.7" y="2001.9" font-size="20.5" text-anchor="middle">1.0</text>
<text x="1854.5" y="2001.9" font-size="20.5" text-anchor="middle">1.0</text>
<text x="1902.9" y="2001.9" font-size="20.5" text-anchor="middle">0.9</text>
<text x="1427.3" y="2177.9" font-size="20.5" text-anchor="middle">1.0</text>
<text x="1476.1" y="2177.9" font-size="20.5" text-anchor="middle">9.4</text>
<text x="1525.5" y="2177.9" font-size="20.5" text-anchor="middle">10.1</text>
<text x="1574.8" y="2177.9" font-size="20.5" text-anchor="middle">5.9</text>
<text x="1624.2" y="2177.9" font-size="20.5" text-anchor="middle">3.8</text>
<text x="1706" y="2177.9" font-size="20.5" text-anchor="middle">0.5</text>
<text x="1755.3" y="2177.9" font-size="20.5" text-anchor="middle">5.1</text>
<text x="1804.7" y="2177.9" font-size="20.5" text-anchor="middle">6.1</text>
<text x="1854.5" y="2177.9" font-size="20.5" text-anchor="middle">2.1</text>
<text x="1902.9" y="2177.9" font-size="20.5" text-anchor="middle">0.8</text>
<text x="1427.3" y="2356.8" font-size="20.5" text-anchor="middle">1.0</text>
<text x="1476.1" y="2356.8" font-size="20.5" text-anchor="middle">1.6</text>
<text x="1525.5" y="2356.8" font-size="20.5" text-anchor="middle">1.7</text>
<text x="1574.8" y="2356.8" font-size="20.5" text-anchor="middle">1.8</text>
<text x="1624.2" y="2356.8" font-size="20.5" text-anchor="middle">2.4</text>
<text x="1706" y="2356.8" font-size="20.5" text-anchor="middle">0.8</text>
<text x="1755.3" y="2356.8" font-size="20.5" text-anchor="middle">1.2</text>
<text x="1804.7" y="2356.8" font-size="20.5" text-anchor="middle">1.2</text>
<text x="1854.5" y="2356.8" font-size="20.5" text-anchor="middle">1.0</text>
<text x="1902.9" y="2356.8" font-size="20.5" text-anchor="middle">1.2</text>
<defs><filter id="bl2" x="-20%" y="-100%" width="140%" height="300%"><feGaussianBlur stdDeviation="3"/></filter></defs>
<g filter="url(#bl2)"><rect x="1402.3" y="1753.0" width="50.0" height="15.0" rx="7.5" fill="#5d6878" fill-opacity="0.35"/><rect x="1401.3" y="1763.5" width="52.0" height="18.0" rx="9.0" fill="#5d6878" fill-opacity="0.35"/><rect x="1451.1" y="1753.0" width="50.0" height="15.0" rx="7.5" fill="#5d6878" fill-opacity="0.35"/><rect x="1450.1" y="1763.5" width="52.0" height="18.0" rx="9.0" fill="#5d6878" fill-opacity="0.35"/><rect x="1500.5" y="1753.0" width="50.0" height="15.0" rx="7.5" fill="#5d6878" fill-opacity="0.35"/><rect x="1499.5" y="1763.5" width="52.0" height="18.0" rx="9.0" fill="#5d6878" fill-opacity="0.35"/><rect x="1549.8" y="1753.0" width="50.0" height="15.0" rx="7.5" fill="#5d6878" fill-opacity="0.35"/><rect x="1548.8" y="1763.5" width="52.0" height="18.0" rx="9.0" fill="#5d6878" fill-opacity="0.35"/><rect x="1599.2" y="1753.0" width="50.0" height="15.0" rx="7.5" fill="#5d6878" fill-opacity="0.35"/><rect x="1598.2" y="1763.5" width="52.0" height="18.0" rx="9.0" fill="#5d6878" fill-opacity="0.35"/><rect x="1682.5" y="1756.0" width="47.0" height="12.0" rx="6.0" fill="#5d6878" fill-opacity="0.24"/><rect x="1681.5" y="1764.5" width="49.0" height="16.0" rx="8.0" fill="#5d6878" fill-opacity="0.35"/><rect x="1731.8" y="1756.0" width="47.0" height="12.0" rx="6.0" fill="#5d6878" fill-opacity="0.24"/><rect x="1730.8" y="1764.5" width="49.0" height="16.0" rx="8.0" fill="#5d6878" fill-opacity="0.35"/><rect x="1781.2" y="1756.0" width="47.0" height="12.0" rx="6.0" fill="#5d6878" fill-opacity="0.24"/><rect x="1780.2" y="1764.5" width="49.0" height="16.0" rx="8.0" fill="#5d6878" fill-opacity="0.35"/><rect x="1831.0" y="1756.0" width="47.0" height="12.0" rx="6.0" fill="#5d6878" fill-opacity="0.24"/><rect x="1830.0" y="1764.5" width="49.0" height="16.0" rx="8.0" fill="#5d6878" fill-opacity="0.35"/><rect x="1879.4" y="1756.0" width="47.0" height="12.0" rx="6.0" fill="#5d6878" fill-opacity="0.24"/><rect x="1878.4" y="1764.5" width="49.0" height="16.0" rx="8.0" fill="#5d6878" fill-opacity="0.35"/><rect x="1402.8" y="1857.5" width="49.0" height="14.0" rx="7.0" fill="#5d6878" fill-opacity="0.30"/><rect x="1401.3" y="1867.0" width="52.0" height="18.0" rx="9.0" fill="#5d6878" fill-opacity="0.35"/><rect x="1451.6" y="1857.5" width="49.0" height="14.0" rx="7.0" fill="#5d6878" fill-opacity="0.30"/><rect x="1450.1" y="1867.0" width="52.0" height="18.0" rx="9.0" fill="#5d6878" fill-opacity="0.35"/><rect x="1501.0" y="1857.5" width="49.0" height="14.0" rx="7.0" fill="#5d6878" fill-opacity="0.30"/><rect x="1499.5" y="1867.0" width="52.0" height="18.0" rx="9.0" fill="#5d6878" fill-opacity="0.35"/><rect x="1550.3" y="1857.5" width="49.0" height="14.0" rx="7.0" fill="#5d6878" fill-opacity="0.30"/><rect x="1548.8" y="1867.0" width="52.0" height="18.0" rx="9.0" fill="#5d6878" fill-opacity="0.35"/><rect x="1599.7" y="1857.5" width="49.0" height="14.0" rx="7.0" fill="#5d6878" fill-opacity="0.30"/><rect x="1598.2" y="1867.0" width="52.0" height="18.0" rx="9.0" fill="#5d6878" fill-opacity="0.35"/><rect x="1681.0" y="1867.0" width="50.0" height="16.0" rx="8.0" fill="#5d6878" fill-opacity="0.35"/><rect x="1730.3" y="1867.0" width="50.0" height="16.0" rx="8.0" fill="#5d6878" fill-opacity="0.35"/><rect x="1779.7" y="1867.0" width="50.0" height="16.0" rx="8.0" fill="#5d6878" fill-opacity="0.35"/><rect x="1829.5" y="1867.0" width="50.0" height="16.0" rx="8.0" fill="#5d6878" fill-opacity="0.35"/><rect x="1877.9" y="1867.0" width="50.0" height="16.0" rx="8.0" fill="#5d6878" fill-opacity="0.35"/><rect x="1406.3" y="1937.6" width="42.0" height="11.0" rx="5.5" fill="#5d6878" fill-opacity="0.35"/><rect x="1455.1" y="1936.3" width="42.0" height="13.5" rx="6.8" fill="#5d6878" fill-opacity="0.35"/><rect x="1504.5" y="1936.8" width="42.0" height="12.5" rx="6.2" fill="#5d6878" fill-opacity="0.35"/><rect x="1553.8" y="1937.1" width="42.0" height="12.0" rx="6.0" fill="#5d6878" fill-opacity="0.35"/><rect x="1603.2" y="1936.8" width="42.0" height="12.5" rx="6.2" fill="#5d6878" fill-opacity="0.35"/><rect x="1685.0" y="1935.7" width="42.0" height="11.5" rx="5.8" fill="#5d6878" fill-opacity="0.35"/><rect x="1734.3" y="1935.4" width="42.0" height="12.0" rx="6.0" fill="#5d6878" fill-opacity="0.35"/><rect x="1783.7" y="1935.4" width="42.0" height="12.0" rx="6.0" fill="#5d6878" fill-opacity="0.35"/><rect x="1833.5" y="1935.4" width="42.0" height="12.0" rx="6.0" fill="#5d6878" fill-opacity="0.35"/><rect x="1881.9" y="1935.7" width="42.0" height="11.5" rx="5.8" fill="#5d6878" fill-opacity="0.35"/><rect x="1405.3" y="2044.0" width="44.0" height="13.0" rx="6.5" fill="#5d6878" fill-opacity="0.35"/><rect x="1454.1" y="2044.0" width="44.0" height="13.0" rx="6.5" fill="#5d6878" fill-opacity="0.35"/><rect x="1503.5" y="2044.0" width="44.0" height="13.0" rx="6.5" fill="#5d6878" fill-opacity="0.35"/><rect x="1552.8" y="2044.0" width="44.0" height="13.0" rx="6.5" fill="#5d6878" fill-opacity="0.35"/><rect x="1602.2" y="2044.0" width="44.0" height="13.0" rx="6.5" fill="#5d6878" fill-opacity="0.35"/><rect x="1684.0" y="2044.0" width="44.0" height="13.0" rx="6.5" fill="#5d6878" fill-opacity="0.35"/><rect x="1733.3" y="2044.0" width="44.0" height="13.0" rx="6.5" fill="#5d6878" fill-opacity="0.35"/><rect x="1782.7" y="2044.0" width="44.0" height="13.0" rx="6.5" fill="#5d6878" fill-opacity="0.35"/><rect x="1832.5" y="2044.0" width="44.0" height="13.0" rx="6.5" fill="#5d6878" fill-opacity="0.35"/><rect x="1880.9" y="2044.0" width="44.0" height="13.0" rx="6.5" fill="#5d6878" fill-opacity="0.35"/><rect x="1402.8" y="2111.0" width="49.0" height="10.0" rx="5.0" fill="#5d6878" fill-opacity="0.35"/><rect x="1402.8" y="2121.5" width="49.0" height="10.0" rx="5.0" fill="#5d6878" fill-opacity="0.35"/><rect x="1451.6" y="2108.5" width="49.0" height="15.0" rx="7.5" fill="#5d6878" fill-opacity="0.35"/><rect x="1451.6" y="2118.8" width="49.0" height="15.5" rx="7.8" fill="#5d6878" fill-opacity="0.35"/><rect x="1501.0" y="2108.2" width="49.0" height="15.5" rx="7.8" fill="#5d6878" fill-opacity="0.35"/><rect x="1501.0" y="2118.5" width="49.0" height="16.0" rx="8.0" fill="#5d6878" fill-opacity="0.35"/><rect x="1550.3" y="2110.0" width="49.0" height="12.0" rx="6.0" fill="#5d6878" fill-opacity="0.35"/><rect x="1550.3" y="2120.0" width="49.0" height="13.0" rx="6.5" fill="#5d6878" fill-opacity="0.35"/><rect x="1599.7" y="2110.0" width="49.0" height="12.0" rx="6.0" fill="#5d6878" fill-opacity="0.35"/><rect x="1599.7" y="2120.0" width="49.0" height="13.0" rx="6.5" fill="#5d6878" fill-opacity="0.35"/><rect x="1731.8" y="2109.8" width="47.0" height="12.5" rx="6.2" fill="#5d6878" fill-opacity="0.35"/><rect x="1731.8" y="2120.0" width="47.0" height="13.0" rx="6.5" fill="#5d6878" fill-opacity="0.35"/><rect x="1781.2" y="2109.5" width="47.0" height="13.0" rx="6.5" fill="#5d6878" fill-opacity="0.35"/><rect x="1781.2" y="2119.8" width="47.0" height="13.5" rx="6.8" fill="#5d6878" fill-opacity="0.35"/><rect x="1831.0" y="2110.8" width="47.0" height="10.5" rx="5.2" fill="#5d6878" fill-opacity="0.35"/><rect x="1831.0" y="2121.0" width="47.0" height="11.0" rx="5.5" fill="#5d6878" fill-opacity="0.35"/><rect x="1879.4" y="2111.2" width="47.0" height="9.5" rx="4.8" fill="#5d6878" fill-opacity="0.35"/><rect x="1879.4" y="2121.5" width="47.0" height="10.0" rx="5.0" fill="#5d6878" fill-opacity="0.35"/><rect x="1402.3" y="2214.3" width="50.0" height="13.0" rx="6.5" fill="#5d6878" fill-opacity="0.35"/><rect x="1401.8" y="2221.8" width="51.0" height="14.5" rx="7.2" fill="#5d6878" fill-opacity="0.35"/><rect x="1451.1" y="2214.3" width="50.0" height="13.0" rx="6.5" fill="#5d6878" fill-opacity="0.35"/><rect x="1450.6" y="2221.8" width="51.0" height="14.5" rx="7.2" fill="#5d6878" fill-opacity="0.35"/><rect x="1500.5" y="2214.3" width="50.0" height="13.0" rx="6.5" fill="#5d6878" fill-opacity="0.35"/><rect x="1500.0" y="2221.8" width="51.0" height="14.5" rx="7.2" fill="#5d6878" fill-opacity="0.35"/><rect x="1549.8" y="2214.3" width="50.0" height="13.0" rx="6.5" fill="#5d6878" fill-opacity="0.35"/><rect x="1549.3" y="2221.8" width="51.0" height="14.5" rx="7.2" fill="#5d6878" fill-opacity="0.35"/><rect x="1599.2" y="2214.3" width="50.0" height="13.0" rx="6.5" fill="#5d6878" fill-opacity="0.35"/><rect x="1598.7" y="2221.8" width="51.0" height="14.5" rx="7.2" fill="#5d6878" fill-opacity="0.35"/><rect x="1681.0" y="2214.3" width="50.0" height="13.0" rx="6.5" fill="#5d6878" fill-opacity="0.35"/><rect x="1680.5" y="2221.8" width="51.0" height="14.5" rx="7.2" fill="#5d6878" fill-opacity="0.35"/><rect x="1730.3" y="2214.3" width="50.0" height="13.0" rx="6.5" fill="#5d6878" fill-opacity="0.35"/><rect x="1729.8" y="2221.8" width="51.0" height="14.5" rx="7.2" fill="#5d6878" fill-opacity="0.35"/><rect x="1779.7" y="2214.3" width="50.0" height="13.0" rx="6.5" fill="#5d6878" fill-opacity="0.35"/><rect x="1779.2" y="2221.8" width="51.0" height="14.5" rx="7.2" fill="#5d6878" fill-opacity="0.35"/><rect x="1829.5" y="2214.3" width="50.0" height="13.0" rx="6.5" fill="#5d6878" fill-opacity="0.35"/><rect x="1829.0" y="2221.8" width="51.0" height="14.5" rx="7.2" fill="#5d6878" fill-opacity="0.35"/><rect x="1877.9" y="2214.3" width="50.0" height="13.0" rx="6.5" fill="#5d6878" fill-opacity="0.35"/><rect x="1877.4" y="2221.8" width="51.0" height="14.5" rx="7.2" fill="#5d6878" fill-opacity="0.35"/><rect x="1405.3" y="2289.0" width="44.0" height="14.0" rx="7.0" fill="#5d6878" fill-opacity="0.35"/><rect x="1453.1" y="2287.5" width="46.0" height="17.0" rx="8.5" fill="#5d6878" fill-opacity="0.35"/><rect x="1502.5" y="2287.0" width="46.0" height="18.0" rx="9.0" fill="#5d6878" fill-opacity="0.35"/><rect x="1551.3" y="2286.5" width="47.0" height="19.0" rx="9.5" fill="#5d6878" fill-opacity="0.35"/><rect x="1600.2" y="2285.5" width="48.0" height="21.0" rx="10.5" fill="#5d6878" fill-opacity="0.35"/><rect x="1684.0" y="2288.0" width="44.0" height="14.0" rx="7.0" fill="#5d6878" fill-opacity="0.35"/><rect x="1733.3" y="2287.5" width="44.0" height="15.0" rx="7.5" fill="#5d6878" fill-opacity="0.35"/><rect x="1782.7" y="2287.5" width="44.0" height="15.0" rx="7.5" fill="#5d6878" fill-opacity="0.35"/><rect x="1833.5" y="2288.0" width="42.0" height="14.0" rx="7.0" fill="#5d6878" fill-opacity="0.35"/><rect x="1880.9" y="2287.5" width="44.0" height="15.0" rx="7.5" fill="#5d6878" fill-opacity="0.35"/><rect x="1456.1" y="2274.6" width="40.0" height="8.0" rx="4.0" fill="#5d6878" fill-opacity="0.17"/><rect x="1505.5" y="2274.0" width="40.0" height="8.0" rx="4.0" fill="#5d6878" fill-opacity="0.21"/><rect x="1406.3" y="2389.0" width="42.0" height="9.0" rx="4.5" fill="#5d6878" fill-opacity="0.21"/><rect x="1400.8" y="2392.5" width="53.0" height="21.0" rx="10.5" fill="#5d6878" fill-opacity="0.35"/><rect x="1455.1" y="2389.0" width="42.0" height="9.0" rx="4.5" fill="#5d6878" fill-opacity="0.21"/><rect x="1449.6" y="2392.5" width="53.0" height="21.0" rx="10.5" fill="#5d6878" fill-opacity="0.35"/><rect x="1504.5" y="2389.0" width="42.0" height="9.0" rx="4.5" fill="#5d6878" fill-opacity="0.21"/><rect x="1499.0" y="2392.5" width="53.0" height="21.0" rx="10.5" fill="#5d6878" fill-opacity="0.35"/><rect x="1553.8" y="2389.0" width="42.0" height="9.0" rx="4.5" fill="#5d6878" fill-opacity="0.21"/><rect x="1548.3" y="2392.5" width="53.0" height="21.0" rx="10.5" fill="#5d6878" fill-opacity="0.35"/><rect x="1603.2" y="2389.0" width="42.0" height="9.0" rx="4.5" fill="#5d6878" fill-opacity="0.21"/><rect x="1597.7" y="2392.5" width="53.0" height="21.0" rx="10.5" fill="#5d6878" fill-opacity="0.35"/><rect x="1685.0" y="2389.0" width="42.0" height="9.0" rx="4.5" fill="#5d6878" fill-opacity="0.21"/><rect x="1679.5" y="2392.5" width="53.0" height="21.0" rx="10.5" fill="#5d6878" fill-opacity="0.35"/><rect x="1734.3" y="2389.0" width="42.0" height="9.0" rx="4.5" fill="#5d6878" fill-opacity="0.21"/><rect x="1728.8" y="2392.5" width="53.0" height="21.0" rx="10.5" fill="#5d6878" fill-opacity="0.35"/><rect x="1783.7" y="2389.0" width="42.0" height="9.0" rx="4.5" fill="#5d6878" fill-opacity="0.21"/><rect x="1778.2" y="2392.5" width="53.0" height="21.0" rx="10.5" fill="#5d6878" fill-opacity="0.35"/><rect x="1833.5" y="2389.0" width="42.0" height="9.0" rx="4.5" fill="#5d6878" fill-opacity="0.21"/><rect x="1828.0" y="2392.5" width="53.0" height="21.0" rx="10.5" fill="#5d6878" fill-opacity="0.35"/><rect x="1881.9" y="2389.0" width="42.0" height="9.0" rx="4.5" fill="#5d6878" fill-opacity="0.21"/><rect x="1876.4" y="2392.5" width="53.0" height="21.0" rx="10.5" fill="#5d6878" fill-opacity="0.35"/></g>
<g filter="url(#bl)"><rect x="1403.3" y="1756.0" width="48.0" height="9.0" rx="4.5" fill="#2b313b" fill-opacity="1.0"/><rect x="1402.3" y="1766.5" width="50.0" height="12.0" rx="6.0" fill="#1b1e24" fill-opacity="1.0"/><rect x="1452.1" y="1756.0" width="48.0" height="9.0" rx="4.5" fill="#2b313b" fill-opacity="1.0"/><rect x="1451.1" y="1766.5" width="50.0" height="12.0" rx="6.0" fill="#1b1e24" fill-opacity="1.0"/><rect x="1501.5" y="1756.0" width="48.0" height="9.0" rx="4.5" fill="#2b313b" fill-opacity="1.0"/><rect x="1500.5" y="1766.5" width="50.0" height="12.0" rx="6.0" fill="#1b1e24" fill-opacity="1.0"/><rect x="1550.8" y="1756.0" width="48.0" height="9.0" rx="4.5" fill="#2b313b" fill-opacity="1.0"/><rect x="1549.8" y="1766.5" width="50.0" height="12.0" rx="6.0" fill="#1b1e24" fill-opacity="1.0"/><rect x="1600.2" y="1756.0" width="48.0" height="9.0" rx="4.5" fill="#2b313b" fill-opacity="1.0"/><rect x="1599.2" y="1766.5" width="50.0" height="12.0" rx="6.0" fill="#1b1e24" fill-opacity="1.0"/><rect x="1683.5" y="1759.0" width="45.0" height="6.0" rx="3.0" fill="#8e9aab" fill-opacity="0.7"/><rect x="1682.5" y="1767.5" width="47.0" height="10.0" rx="5.0" fill="#1b1e24" fill-opacity="1.0"/><rect x="1732.8" y="1759.0" width="45.0" height="6.0" rx="3.0" fill="#8e9aab" fill-opacity="0.7"/><rect x="1731.8" y="1767.5" width="47.0" height="10.0" rx="5.0" fill="#1b1e24" fill-opacity="1.0"/><rect x="1782.2" y="1759.0" width="45.0" height="6.0" rx="3.0" fill="#8e9aab" fill-opacity="0.7"/><rect x="1781.2" y="1767.5" width="47.0" height="10.0" rx="5.0" fill="#1b1e24" fill-opacity="1.0"/><rect x="1832.0" y="1759.0" width="45.0" height="6.0" rx="3.0" fill="#8e9aab" fill-opacity="0.7"/><rect x="1831.0" y="1767.5" width="47.0" height="10.0" rx="5.0" fill="#1b1e24" fill-opacity="1.0"/><rect x="1880.4" y="1759.0" width="45.0" height="6.0" rx="3.0" fill="#8e9aab" fill-opacity="0.7"/><rect x="1879.4" y="1767.5" width="47.0" height="10.0" rx="5.0" fill="#1b1e24" fill-opacity="1.0"/><rect x="1403.8" y="1860.5" width="47.0" height="8.0" rx="4.0" fill="#6c7787" fill-opacity="0.85"/><rect x="1402.3" y="1870.0" width="50.0" height="12.0" rx="6.0" fill="#1b1e24" fill-opacity="1.0"/><rect x="1452.6" y="1860.5" width="47.0" height="8.0" rx="4.0" fill="#6c7787" fill-opacity="0.85"/><rect x="1451.1" y="1870.0" width="50.0" height="12.0" rx="6.0" fill="#1b1e24" fill-opacity="1.0"/><rect x="1502.0" y="1860.5" width="47.0" height="8.0" rx="4.0" fill="#6c7787" fill-opacity="0.85"/><rect x="1500.5" y="1870.0" width="50.0" height="12.0" rx="6.0" fill="#1b1e24" fill-opacity="1.0"/><rect x="1551.3" y="1860.5" width="47.0" height="8.0" rx="4.0" fill="#6c7787" fill-opacity="0.85"/><rect x="1549.8" y="1870.0" width="50.0" height="12.0" rx="6.0" fill="#1b1e24" fill-opacity="1.0"/><rect x="1600.7" y="1860.5" width="47.0" height="8.0" rx="4.0" fill="#6c7787" fill-opacity="0.85"/><rect x="1599.2" y="1870.0" width="50.0" height="12.0" rx="6.0" fill="#1b1e24" fill-opacity="1.0"/><rect x="1682.0" y="1870.0" width="48.0" height="10.0" rx="5.0" fill="#1b1e24" fill-opacity="1.0"/><rect x="1731.3" y="1870.0" width="48.0" height="10.0" rx="5.0" fill="#1b1e24" fill-opacity="1.0"/><rect x="1780.7" y="1870.0" width="48.0" height="10.0" rx="5.0" fill="#1b1e24" fill-opacity="1.0"/><rect x="1830.5" y="1870.0" width="48.0" height="10.0" rx="5.0" fill="#1b1e24" fill-opacity="1.0"/><rect x="1878.9" y="1870.0" width="48.0" height="10.0" rx="5.0" fill="#1b1e24" fill-opacity="1.0"/><rect x="1407.3" y="1940.6" width="40.0" height="5.0" rx="2.5" fill="#1b1e24" fill-opacity="1.0"/><rect x="1456.1" y="1939.3" width="40.0" height="7.5" rx="3.8" fill="#1b1e24" fill-opacity="1.0"/><rect x="1505.5" y="1939.8" width="40.0" height="6.5" rx="3.2" fill="#1b1e24" fill-opacity="1.0"/><rect x="1554.8" y="1940.1" width="40.0" height="6.0" rx="3.0" fill="#1b1e24" fill-opacity="1.0"/><rect x="1604.2" y="1939.8" width="40.0" height="6.5" rx="3.2" fill="#1b1e24" fill-opacity="1.0"/><rect x="1686.0" y="1938.7" width="40.0" height="5.5" rx="2.8" fill="#1b1e24" fill-opacity="1.0"/><rect x="1735.3" y="1938.4" width="40.0" height="6.0" rx="3.0" fill="#1b1e24" fill-opacity="1.0"/><rect x="1784.7" y="1938.4" width="40.0" height="6.0" rx="3.0" fill="#1b1e24" fill-opacity="1.0"/><rect x="1834.5" y="1938.4" width="40.0" height="6.0" rx="3.0" fill="#1b1e24" fill-opacity="1.0"/><rect x="1882.9" y="1938.7" width="40.0" height="5.5" rx="2.8" fill="#1b1e24" fill-opacity="1.0"/><rect x="1406.3" y="2047.0" width="42.0" height="7.0" rx="3.5" fill="#1b1e24" fill-opacity="1.0"/><rect x="1455.1" y="2047.0" width="42.0" height="7.0" rx="3.5" fill="#1b1e24" fill-opacity="1.0"/><rect x="1504.5" y="2047.0" width="42.0" height="7.0" rx="3.5" fill="#1b1e24" fill-opacity="1.0"/><rect x="1553.8" y="2047.0" width="42.0" height="7.0" rx="3.5" fill="#1b1e24" fill-opacity="1.0"/><rect x="1603.2" y="2047.0" width="42.0" height="7.0" rx="3.5" fill="#1b1e24" fill-opacity="1.0"/><rect x="1685.0" y="2047.0" width="42.0" height="7.0" rx="3.5" fill="#1b1e24" fill-opacity="1.0"/><rect x="1734.3" y="2047.0" width="42.0" height="7.0" rx="3.5" fill="#1b1e24" fill-opacity="1.0"/><rect x="1783.7" y="2047.0" width="42.0" height="7.0" rx="3.5" fill="#1b1e24" fill-opacity="1.0"/><rect x="1833.5" y="2047.0" width="42.0" height="7.0" rx="3.5" fill="#1b1e24" fill-opacity="1.0"/><rect x="1881.9" y="2047.0" width="42.0" height="7.0" rx="3.5" fill="#1b1e24" fill-opacity="1.0"/><rect x="1403.8" y="2114.0" width="47.0" height="4.0" rx="2.0" fill="#8e9aab" fill-opacity="1.0"/><rect x="1403.8" y="2124.5" width="47.0" height="4.0" rx="2.0" fill="#6c7787" fill-opacity="1.0"/><rect x="1452.6" y="2111.5" width="47.0" height="9.0" rx="4.5" fill="#1b1e24" fill-opacity="1.0"/><rect x="1452.6" y="2121.8" width="47.0" height="9.5" rx="4.8" fill="#1b1e24" fill-opacity="1.0"/><rect x="1502.0" y="2111.2" width="47.0" height="9.5" rx="4.8" fill="#1b1e24" fill-opacity="1.0"/><rect x="1502.0" y="2121.5" width="47.0" height="10.0" rx="5.0" fill="#1b1e24" fill-opacity="1.0"/><rect x="1551.3" y="2113.0" width="47.0" height="6.0" rx="3.0" fill="#3b4350" fill-opacity="1.0"/><rect x="1551.3" y="2123.0" width="47.0" height="7.0" rx="3.5" fill="#1b1e24" fill-opacity="1.0"/><rect x="1600.7" y="2113.0" width="47.0" height="6.0" rx="3.0" fill="#6c7787" fill-opacity="1.0"/><rect x="1600.7" y="2123.0" width="47.0" height="7.0" rx="3.5" fill="#3b4350" fill-opacity="1.0"/><rect x="1732.8" y="2112.8" width="45.0" height="6.5" rx="3.2" fill="#1b1e24" fill-opacity="1.0"/><rect x="1732.8" y="2123.0" width="45.0" height="7.0" rx="3.5" fill="#1b1e24" fill-opacity="1.0"/><rect x="1782.2" y="2112.5" width="45.0" height="7.0" rx="3.5" fill="#1b1e24" fill-opacity="1.0"/><rect x="1782.2" y="2122.8" width="45.0" height="7.5" rx="3.8" fill="#1b1e24" fill-opacity="1.0"/><rect x="1832.0" y="2113.8" width="45.0" height="4.5" rx="2.2" fill="#8e9aab" fill-opacity="1.0"/><rect x="1832.0" y="2124.0" width="45.0" height="5.0" rx="2.5" fill="#6c7787" fill-opacity="1.0"/><rect x="1880.4" y="2114.2" width="45.0" height="3.5" rx="1.8" fill="#8e9aab" fill-opacity="1.0"/><rect x="1880.4" y="2124.5" width="45.0" height="4.0" rx="2.0" fill="#8e9aab" fill-opacity="1.0"/><rect x="1403.3" y="2217.3" width="48.0" height="7.0" rx="3.5" fill="#3b4350" fill-opacity="1.0"/><rect x="1402.8" y="2224.8" width="49.0" height="8.5" rx="4.2" fill="#1b1e24" fill-opacity="1.0"/><rect x="1452.1" y="2217.3" width="48.0" height="7.0" rx="3.5" fill="#3b4350" fill-opacity="1.0"/><rect x="1451.6" y="2224.8" width="49.0" height="8.5" rx="4.2" fill="#1b1e24" fill-opacity="1.0"/><rect x="1501.5" y="2217.3" width="48.0" height="7.0" rx="3.5" fill="#3b4350" fill-opacity="1.0"/><rect x="1501.0" y="2224.8" width="49.0" height="8.5" rx="4.2" fill="#1b1e24" fill-opacity="1.0"/><rect x="1550.8" y="2217.3" width="48.0" height="7.0" rx="3.5" fill="#3b4350" fill-opacity="1.0"/><rect x="1550.3" y="2224.8" width="49.0" height="8.5" rx="4.2" fill="#1b1e24" fill-opacity="1.0"/><rect x="1600.2" y="2217.3" width="48.0" height="7.0" rx="3.5" fill="#3b4350" fill-opacity="1.0"/><rect x="1599.7" y="2224.8" width="49.0" height="8.5" rx="4.2" fill="#1b1e24" fill-opacity="1.0"/><rect x="1682.0" y="2217.3" width="48.0" height="7.0" rx="3.5" fill="#3b4350" fill-opacity="1.0"/><rect x="1681.5" y="2224.8" width="49.0" height="8.5" rx="4.2" fill="#1b1e24" fill-opacity="1.0"/><rect x="1731.3" y="2217.3" width="48.0" height="7.0" rx="3.5" fill="#3b4350" fill-opacity="1.0"/><rect x="1730.8" y="2224.8" width="49.0" height="8.5" rx="4.2" fill="#1b1e24" fill-opacity="1.0"/><rect x="1780.7" y="2217.3" width="48.0" height="7.0" rx="3.5" fill="#3b4350" fill-opacity="1.0"/><rect x="1780.2" y="2224.8" width="49.0" height="8.5" rx="4.2" fill="#1b1e24" fill-opacity="1.0"/><rect x="1830.5" y="2217.3" width="48.0" height="7.0" rx="3.5" fill="#3b4350" fill-opacity="1.0"/><rect x="1830.0" y="2224.8" width="49.0" height="8.5" rx="4.2" fill="#1b1e24" fill-opacity="1.0"/><rect x="1878.9" y="2217.3" width="48.0" height="7.0" rx="3.5" fill="#3b4350" fill-opacity="1.0"/><rect x="1878.4" y="2224.8" width="49.0" height="8.5" rx="4.2" fill="#1b1e24" fill-opacity="1.0"/><rect x="1406.3" y="2292.0" width="42.0" height="8.0" rx="4.0" fill="#1b1e24" fill-opacity="1.0"/><rect x="1454.1" y="2290.5" width="44.0" height="11.0" rx="5.5" fill="#1b1e24" fill-opacity="1.0"/><rect x="1503.5" y="2290.0" width="44.0" height="12.0" rx="6.0" fill="#1b1e24" fill-opacity="1.0"/><rect x="1552.3" y="2289.5" width="45.0" height="13.0" rx="6.5" fill="#1b1e24" fill-opacity="1.0"/><rect x="1601.2" y="2288.5" width="46.0" height="15.0" rx="7.5" fill="#1b1e24" fill-opacity="1.0"/><rect x="1685.0" y="2291.0" width="42.0" height="8.0" rx="4.0" fill="#1b1e24" fill-opacity="1.0"/><rect x="1734.3" y="2290.5" width="42.0" height="9.0" rx="4.5" fill="#1b1e24" fill-opacity="1.0"/><rect x="1783.7" y="2290.5" width="42.0" height="9.0" rx="4.5" fill="#1b1e24" fill-opacity="1.0"/><rect x="1834.5" y="2291.0" width="40.0" height="8.0" rx="4.0" fill="#1b1e24" fill-opacity="1.0"/><rect x="1881.9" y="2290.5" width="42.0" height="9.0" rx="4.5" fill="#1b1e24" fill-opacity="1.0"/><rect x="1457.1" y="2277.6" width="38.0" height="2.0" rx="1.0" fill="#6c7787" fill-opacity="0.5"/><rect x="1506.5" y="2277.0" width="38.0" height="2.0" rx="1.0" fill="#6c7787" fill-opacity="0.6"/><rect x="1407.3" y="2392.0" width="40.0" height="3.0" rx="1.5" fill="#6c7787" fill-opacity="0.6"/><rect x="1401.8" y="2395.5" width="51.0" height="15.0" rx="7.5" fill="#1b1e24" fill-opacity="1.0"/><rect x="1456.1" y="2392.0" width="40.0" height="3.0" rx="1.5" fill="#6c7787" fill-opacity="0.6"/><rect x="1450.6" y="2395.5" width="51.0" height="15.0" rx="7.5" fill="#1b1e24" fill-opacity="1.0"/><rect x="1505.5" y="2392.0" width="40.0" height="3.0" rx="1.5" fill="#6c7787" fill-opacity="0.6"/><rect x="1500.0" y="2395.5" width="51.0" height="15.0" rx="7.5" fill="#1b1e24" fill-opacity="1.0"/><rect x="1554.8" y="2392.0" width="40.0" height="3.0" rx="1.5" fill="#6c7787" fill-opacity="0.6"/><rect x="1549.3" y="2395.5" width="51.0" height="15.0" rx="7.5" fill="#1b1e24" fill-opacity="1.0"/><rect x="1604.2" y="2392.0" width="40.0" height="3.0" rx="1.5" fill="#6c7787" fill-opacity="0.6"/><rect x="1598.7" y="2395.5" width="51.0" height="15.0" rx="7.5" fill="#1b1e24" fill-opacity="1.0"/><rect x="1686.0" y="2392.0" width="40.0" height="3.0" rx="1.5" fill="#6c7787" fill-opacity="0.6"/><rect x="1680.5" y="2395.5" width="51.0" height="15.0" rx="7.5" fill="#1b1e24" fill-opacity="1.0"/><rect x="1735.3" y="2392.0" width="40.0" height="3.0" rx="1.5" fill="#6c7787" fill-opacity="0.6"/><rect x="1729.8" y="2395.5" width="51.0" height="15.0" rx="7.5" fill="#1b1e24" fill-opacity="1.0"/><rect x="1784.7" y="2392.0" width="40.0" height="3.0" rx="1.5" fill="#6c7787" fill-opacity="0.6"/><rect x="1779.2" y="2395.5" width="51.0" height="15.0" rx="7.5" fill="#1b1e24" fill-opacity="1.0"/><rect x="1834.5" y="2392.0" width="40.0" height="3.0" rx="1.5" fill="#6c7787" fill-opacity="0.6"/><rect x="1829.0" y="2395.5" width="51.0" height="15.0" rx="7.5" fill="#1b1e24" fill-opacity="1.0"/><rect x="1882.9" y="2392.0" width="40.0" height="3.0" rx="1.5" fill="#6c7787" fill-opacity="0.6"/><rect x="1877.4" y="2395.5" width="51.0" height="15.0" rx="7.5" fill="#1b1e24" fill-opacity="1.0"/></g>
</svg></body></html>
